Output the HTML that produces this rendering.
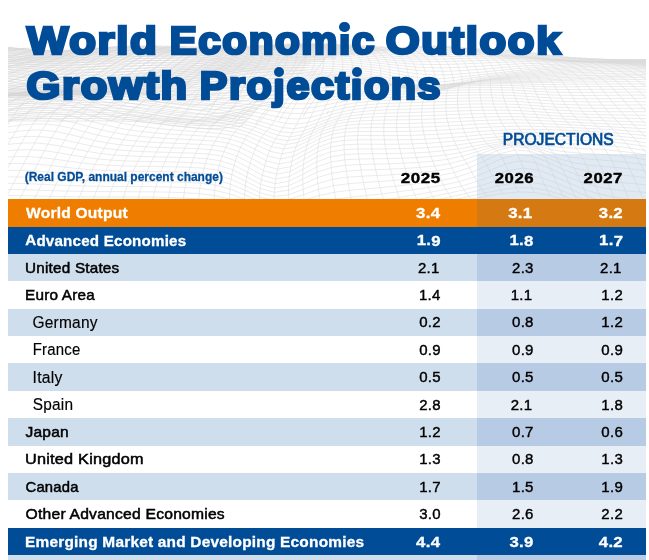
<!DOCTYPE html>
<html><head><meta charset="utf-8"><title>World Economic Outlook Growth Projections</title>
<style>
html,body{margin:0;padding:0;background:#fff;}
body{width:649px;height:560px;position:relative;overflow:hidden;font-family:"Liberation Sans",sans-serif;}
.t{position:absolute;left:0;top:0;white-space:nowrap;line-height:1;transform-origin:0 0;}
.b{position:absolute;left:7.8px;width:638.0px;}
.b i{position:absolute;left:468.8px;right:0;top:0;bottom:0;}
i.ij{font-style:normal;display:inline-block;clip-path:inset(12.7px -6px -14px -6px);}
.dot{position:absolute;width:10.2px;height:10.2px;border-radius:50%;background:#004c97;}
.mesh{position:absolute;left:7.8px;top:0;}
.ps{position:absolute;left:476.6px;top:154.4px;width:169.2px;height:45px;background:rgba(184,202,224,0.42);}
</style></head><body>
<svg class="mesh" width="638.0" height="200" viewBox="7.8 0 638.0 200"><path d="M9.9 47.8L17.6 48.4L25.3 48.9L32.9 49.5L40.6 50.0L48.2 50.3L55.7 50.5L63.2 50.3L70.7 49.9L78.1 49.4L85.4 48.9L92.6 48.3L99.8 47.9L106.9 47.4L113.9 47.0L120.9 46.7L127.7 46.4L134.5 46.2L141.2 46.1L147.9 46.0L154.4 46.0L161.0 46.1L167.4 46.2L173.8 46.4L180.2 46.5L186.6 46.7L192.9 46.9L199.2 47.0L205.5 47.2L211.8 47.4L218.2 47.6L224.5 47.7L230.9 47.7L237.3 47.4L243.8 47.0L250.3 46.5L256.9 46.0L263.6 45.6L270.3 45.2L277.1 44.7L284.0 44.3L290.9 44.0L298.0 43.7L305.1 43.6L312.2 43.5L319.5 43.5L326.8 43.7L334.2 44.0L341.7 44.4L349.2 44.8L356.8 45.3L364.4 45.9L372.0 46.4L379.7 46.8L387.4 47.2L395.0 47.4L402.7 47.3L410.4 47.1L418.1 46.7L425.7 46.3L433.3 46.1L440.8 46.3L448.3 46.7L455.8 47.3L463.1 47.9L470.4 48.5L477.7 49.0L484.8 49.4L491.9 49.6L498.9 49.8L505.8 50.0L512.7 50.4L519.5 50.9L526.2 51.9L532.8 52.9L539.4 53.8L545.9 54.7L552.3 55.5L558.7 56.3L565.1 56.9L571.5 57.4L577.8 57.8L584.1 58.2L590.4 58.6L596.7 58.9L603.1 59.2L609.4 59.4L615.8 59.6L622.3 59.6L628.7 59.6L635.3 59.6L641.9 59.5L648.5 59.4L655.3 59.3L662.1 59.2L669.0 59.0M5.6 48.4L13.4 48.8L21.2 49.4L29.0 50.1L36.8 50.8L44.5 51.3L52.1 51.5L59.7 51.4L67.2 51.0L74.7 50.4L82.1 49.9L89.4 49.3L96.6 48.8L103.8 48.4L110.9 47.9L117.9 47.6L124.8 47.3L131.7 47.0L138.4 46.8L145.2 46.8L151.8 46.7L158.4 46.8L165.0 46.9L171.5 47.0L178.0 47.1L184.5 47.3L191.0 47.5L197.4 47.6L203.9 47.8L210.4 48.1L216.9 48.5L223.4 48.8L230.0 48.9L236.6 48.6L243.3 48.0L250.0 47.4L256.8 46.8L263.7 46.3L270.6 45.9L277.7 45.5L284.8 45.1L291.9 44.7L299.2 44.5L306.5 44.3L313.9 44.3L321.4 44.3L329.0 44.5L336.6 44.8L344.2 45.3L351.9 45.7L359.7 46.3L367.5 46.8L375.3 47.3L383.1 47.7L391.0 48.0L398.8 48.2L406.6 48.1L414.4 47.8L422.2 47.4L429.9 46.9L437.6 46.7L445.2 46.9L452.8 47.4L460.4 48.1L467.8 48.8L475.2 49.6L482.5 50.3L489.7 50.8L496.8 51.1L503.9 51.3L510.9 51.5L517.8 51.8L524.7 52.7L531.4 53.6L538.1 54.6L544.8 55.4L551.4 56.2L558.0 56.9L564.5 57.5L571.0 57.9L577.4 58.3L583.9 58.6L590.4 58.9L596.8 59.2L603.3 59.5L609.8 59.7L616.4 59.8L622.9 59.9L629.6 60.0L636.3 59.9L643.0 59.9L649.8 59.9L656.7 59.8L663.7 59.8M1.1 49.4L9.1 49.5L17.0 50.2L24.9 51.0L32.7 51.8L40.5 52.4L48.2 52.7L55.9 52.6L63.5 52.2L71.1 51.7L78.5 51.1L85.9 50.6L93.2 50.1L100.4 49.6L107.6 49.2L114.6 48.8L121.6 48.4L128.6 48.1L135.4 47.9L142.2 47.8L149.0 47.8L155.7 47.8L162.4 47.8L169.0 47.9L175.6 48.0L182.2 48.2L188.8 48.4L195.4 48.5L202.1 48.8L208.7 49.2L215.4 49.8L222.1 50.4L228.9 50.6L235.7 50.2L242.6 49.4L249.6 48.6L256.6 47.9L263.7 47.4L270.9 47.0L278.1 46.5L285.4 46.1L292.9 45.7L300.3 45.5L307.9 45.3L315.5 45.3L323.2 45.4L331.0 45.6L338.8 46.0L346.7 46.4L354.6 46.9L362.5 47.4L370.4 48.0L378.4 48.5L386.4 48.9L394.4 49.1L402.3 49.3L410.3 49.2L418.2 48.9L426.1 48.4L433.9 48.0L441.7 47.8L449.4 48.0L457.1 48.5L464.7 49.2L472.2 50.0L479.7 50.9L487.0 51.7L494.3 52.3L501.5 52.7L508.6 52.9L515.7 53.1L522.7 53.8L529.6 54.6L536.5 55.5L543.3 56.4L550.0 57.1L556.7 57.8L563.4 58.3L570.0 58.7L576.6 59.1L583.2 59.3L589.8 59.5L596.5 59.6L603.1 59.8L609.7 60.0L616.4 60.2L623.2 60.3L629.9 60.3L636.8 60.3L643.7 60.3L650.6 60.3L657.7 60.3L664.8 60.3M-3.6 50.6L4.5 50.6L12.5 51.1L20.5 52.0L28.4 52.8L36.3 53.5L44.1 53.9L51.9 53.9L59.5 53.5L67.1 53.0L74.7 52.5L82.1 52.0L89.5 51.5L96.8 51.0L104.0 50.6L111.1 50.1L118.2 49.8L125.2 49.5L132.1 49.2L139.0 49.0L145.9 48.9L152.7 48.9L159.5 48.9L166.3 49.0L173.0 49.1L179.8 49.3L186.5 49.5L193.3 49.7L200.1 50.0L206.9 50.6L213.8 51.4L220.7 52.1L227.7 52.4L234.7 51.9L241.8 51.0L249.0 50.0L256.3 49.3L263.6 48.7L271.0 48.2L278.5 47.7L286.0 47.3L293.7 46.9L301.4 46.7L309.2 46.5L317.0 46.5L324.9 46.6L332.9 46.8L340.9 47.2L348.9 47.7L357.0 48.2L365.1 48.7L373.2 49.3L381.4 49.8L389.5 50.1L397.6 50.4L405.7 50.5L413.8 50.4L421.8 50.1L429.8 49.8L437.7 49.4L445.6 49.3L453.4 49.4L461.1 49.8L468.8 50.4L476.3 51.2L483.9 52.2L491.3 53.1L498.6 53.8L505.9 54.2L513.1 54.4L520.2 54.8L527.3 55.5L534.3 56.4L541.2 57.2L548.1 58.0L555.0 58.6L561.8 59.1L568.6 59.6L575.3 59.9L582.1 60.0L588.8 60.2L595.6 60.2L602.4 60.3L609.2 60.4L616.0 60.5L622.9 60.6L629.8 60.7L636.8 60.7L643.9 60.6L651.0 60.7L658.2 60.7L665.4 60.8M-8.5 51.9L-0.3 51.9L7.8 52.1L15.9 53.0L23.9 53.9L31.8 54.6L39.7 55.0L47.6 55.1L55.3 54.8L63.0 54.4L70.5 53.9L78.1 53.4L85.5 53.0L92.8 52.5L100.1 52.1L107.3 51.6L114.5 51.2L121.6 50.9L128.6 50.6L135.6 50.4L142.6 50.3L149.5 50.2L156.4 50.2L163.3 50.3L170.2 50.4L177.1 50.5L184.0 50.7L191.0 51.0L198.0 51.4L205.0 52.0L212.1 53.0L219.2 53.9L226.4 54.3L233.6 53.8L241.0 52.7L248.4 51.6L255.8 50.7L263.4 50.1L271.0 49.6L278.7 49.1L286.5 48.6L294.4 48.3L302.3 48.0L310.3 47.8L318.4 47.8L326.5 47.9L334.6 48.2L342.8 48.6L351.1 49.0L359.3 49.6L367.6 50.1L375.8 50.7L384.1 51.2L392.4 51.5L400.6 51.8L408.8 51.9L417.0 51.8L425.1 51.6L433.2 51.3L441.2 51.0L449.1 50.8L457.0 50.9L464.8 51.2L472.6 51.8L480.2 52.5L487.8 53.4L495.3 54.3L502.7 55.0L510.0 55.4L517.3 55.6L524.5 56.2L531.6 57.0L538.7 57.7L545.8 58.5L552.8 59.2L559.7 59.7L566.6 60.2L573.5 60.5L580.4 60.7L587.3 60.8L594.3 60.9L601.2 60.9L608.1 60.9L615.1 60.9L622.1 61.0L629.2 61.0L636.4 61.0L643.6 61.0L650.8 61.1L658.2 61.2L665.6 61.2M-13.7 53.3L-5.4 53.3L2.8 53.5L11.0 54.0L19.1 54.9L27.1 55.6L35.1 56.1L43.0 56.3L50.8 56.1L58.5 55.8L66.1 55.4L73.7 55.0L81.2 54.6L88.6 54.2L96.0 53.7L103.3 53.3L110.5 52.8L117.7 52.5L124.9 52.1L132.0 51.9L139.0 51.7L146.1 51.6L153.1 51.6L160.2 51.7L167.2 51.8L174.3 51.9L181.4 52.1L188.5 52.4L195.7 52.8L202.9 53.6L210.2 54.6L217.5 55.6L224.9 56.0L232.4 55.5L240.0 54.3L247.6 53.2L255.3 52.3L263.1 51.7L270.9 51.1L278.9 50.6L286.9 50.1L295.0 49.7L303.1 49.4L311.3 49.2L319.6 49.2L327.9 49.3L336.2 49.6L344.6 50.0L353.0 50.5L361.4 51.1L369.8 51.7L378.3 52.2L386.7 52.7L395.0 53.1L403.4 53.3L411.7 53.4L420.0 53.4L428.2 53.2L436.3 52.9L444.4 52.7L452.5 52.5L460.4 52.5L468.3 52.7L476.1 53.1L483.8 53.8L491.4 54.5L499.0 55.3L506.5 55.9L513.9 56.3L521.2 56.7L528.5 57.3L535.7 57.9L542.9 58.6L550.1 59.3L557.2 59.9L564.2 60.4L571.3 60.8L578.3 61.1L585.4 61.3L592.4 61.4L599.5 61.4L606.6 61.4L613.7 61.3L620.9 61.3L628.1 61.4L635.4 61.4L642.8 61.4L650.2 61.4L657.7 61.5L665.2 61.6M-19.1 54.8L-10.7 54.8L-2.4 55.0L5.8 55.2L14.0 55.9L22.1 56.7L30.1 57.2L38.1 57.4L46.0 57.4L53.8 57.2L61.5 56.9L69.1 56.6L76.7 56.2L84.2 55.8L91.6 55.4L99.0 55.0L106.3 54.5L113.6 54.1L120.9 53.8L128.1 53.5L135.3 53.3L142.5 53.2L149.7 53.1L156.9 53.2L164.1 53.3L171.3 53.4L178.6 53.6L185.9 53.9L193.3 54.3L200.7 55.1L208.2 56.1L215.8 57.1L223.4 57.5L231.1 57.0L238.9 55.9L246.7 54.8L254.7 54.0L262.7 53.3L270.8 52.8L278.9 52.2L287.1 51.7L295.4 51.3L303.8 50.9L312.2 50.7L320.7 50.7L329.2 50.8L337.7 51.1L346.2 51.5L354.8 52.1L363.4 52.7L371.9 53.3L380.5 53.8L389.0 54.3L397.5 54.7L405.9 55.0L414.4 55.1L422.7 55.1L431.0 54.9L439.3 54.7L447.4 54.5L455.5 54.3L463.5 54.3L471.5 54.4L479.3 54.6L487.1 55.1L494.8 55.7L502.4 56.3L510.0 56.7L517.5 57.0L524.9 57.5L532.3 58.0L539.6 58.6L546.9 59.2L554.1 59.8L561.3 60.3L568.5 60.8L575.7 61.1L582.9 61.4L590.1 61.6L597.3 61.7L604.6 61.7L611.9 61.7L619.2 61.7L626.6 61.7L634.0 61.7L641.5 61.8L649.1 61.8L656.7 61.9L664.4 62.0M-16.3 56.4L-7.9 56.5L0.4 56.7L8.7 57.0L16.8 57.7L24.9 58.2L32.9 58.5L40.9 58.6L48.7 58.6L56.5 58.4L64.2 58.2L71.9 57.9L79.4 57.6L87.0 57.2L94.4 56.8L101.9 56.3L109.3 55.9L116.6 55.6L124.0 55.2L131.3 55.0L138.7 54.8L146.0 54.8L153.4 54.8L160.8 54.9L168.2 55.0L175.7 55.2L183.2 55.5L190.8 55.9L198.4 56.6L206.1 57.5L213.9 58.4L221.7 58.7L229.6 58.3L237.7 57.4L245.7 56.5L253.9 55.7L262.1 55.1L270.5 54.5L278.8 53.9L287.3 53.4L295.8 52.9L304.3 52.6L312.9 52.4L321.6 52.3L330.3 52.4L339.0 52.7L347.7 53.2L356.4 53.7L365.1 54.3L373.8 55.0L382.5 55.6L391.1 56.1L399.7 56.6L408.3 56.9L416.8 57.0L425.2 57.0L433.6 56.9L441.9 56.7L450.1 56.5L458.3 56.3L466.3 56.2L474.3 56.1L482.3 56.3L490.1 56.5L497.9 56.9L505.6 57.3L513.2 57.6L520.8 57.8L528.3 58.3L535.8 58.7L543.2 59.2L550.6 59.7L557.9 60.1L565.3 60.6L572.6 61.0L580.0 61.3L587.3 61.6L594.7 61.8L602.1 61.9L609.5 62.0L617.0 62.1L624.5 62.1L632.1 62.1L639.8 62.1L647.5 62.2L655.3 62.3L663.1 62.4M-13.7 58.1L-5.3 58.2L3.0 58.4L11.3 58.8L19.4 59.3L27.5 59.7L35.5 59.9L43.4 60.0L51.3 60.0L59.1 59.9L66.8 59.7L74.5 59.4L82.1 59.1L89.7 58.7L97.2 58.3L104.7 57.8L112.2 57.4L119.7 57.1L127.2 56.9L134.7 56.7L142.2 56.6L149.7 56.5L157.3 56.6L164.9 56.7L172.6 56.9L180.3 57.1L188.1 57.5L195.9 58.1L203.9 58.9L211.9 59.6L220.0 59.9L228.1 59.6L236.3 58.9L244.7 58.2L253.0 57.5L261.5 56.9L270.0 56.3L278.6 55.7L287.3 55.2L296.0 54.7L304.8 54.3L313.5 54.1L322.4 54.0L331.2 54.1L340.1 54.4L348.9 54.9L357.8 55.5L366.6 56.1L375.4 56.8L384.2 57.5L393.0 58.1L401.7 58.6L410.3 58.9L418.9 59.2L427.4 59.2L435.9 59.1L444.2 59.0L452.5 58.7L460.8 58.5L468.9 58.3L477.0 58.2L485.0 58.1L492.9 58.2L500.7 58.4L508.5 58.5L516.2 58.6L523.9 58.9L531.5 59.2L539.0 59.5L546.6 59.8L554.1 60.2L561.6 60.5L569.1 60.8L576.5 61.1L584.0 61.4L591.6 61.7L599.1 61.9L606.7 62.1L614.3 62.3L622.0 62.4L629.7 62.5L637.5 62.5L645.4 62.6L653.3 62.8L661.3 62.9L669.4 63.0M-19.7 59.7L-11.2 59.8L-2.9 59.9L5.4 60.0L13.7 60.4L21.8 60.9L29.9 61.2L37.9 61.4L45.8 61.5L53.7 61.5L61.5 61.5L69.2 61.3L76.9 61.0L84.6 60.7L92.3 60.3L99.9 59.9L107.6 59.5L115.2 59.2L122.8 58.9L130.5 58.7L138.2 58.5L145.9 58.5L153.7 58.5L161.5 58.5L169.4 58.7L177.3 58.9L185.3 59.2L193.4 59.7L201.5 60.3L209.8 60.8L218.1 61.1L226.5 60.9L234.9 60.5L243.5 59.9L252.1 59.3L260.8 58.7L269.5 58.1L278.3 57.5L287.2 57.0L296.1 56.5L305.0 56.1L314.0 55.8L323.0 55.8L332.0 55.9L341.0 56.2L350.0 56.7L359.0 57.3L367.9 58.1L376.9 58.8L385.7 59.6L394.6 60.3L403.4 60.9L412.1 61.3L420.8 61.6L429.4 61.7L437.9 61.6L446.3 61.5L454.7 61.2L463.0 61.0L471.2 60.7L479.3 60.5L487.4 60.3L495.3 60.2L503.3 60.1L511.1 60.0L518.9 59.9L526.7 60.2L534.4 60.3L542.1 60.5L549.7 60.6L557.4 60.8L565.0 61.0L572.6 61.2L580.3 61.4L587.9 61.7L595.6 61.9L603.4 62.1L611.1 62.4L619.0 62.6L626.8 62.8L634.8 62.9L642.8 63.1L650.9 63.3L659.1 63.5L667.3 63.6M-17.5 61.5L-9.0 61.6L-0.7 61.6L7.6 61.7L15.8 62.2L24.0 62.6L32.0 62.9L40.0 63.1L48.0 63.2L55.9 63.3L63.8 63.2L71.6 63.0L79.4 62.7L87.2 62.4L95.0 62.0L102.7 61.7L110.5 61.4L118.3 61.1L126.2 60.9L134.1 60.7L142.0 60.6L149.9 60.6L158.0 60.6L166.0 60.6L174.2 60.8L182.4 61.0L190.7 61.4L199.1 61.8L207.6 62.3L216.1 62.5L224.7 62.4L233.4 62.0L242.2 61.6L251.0 61.1L259.9 60.5L268.9 60.0L277.9 59.4L286.9 58.8L296.0 58.3L305.1 57.9L314.3 57.6L323.4 57.6L332.6 57.8L341.7 58.1L350.8 58.6L359.9 59.3L369.0 60.1L378.1 61.0L387.0 61.8L396.0 62.7L404.8 63.4L413.6 64.0L422.4 64.3L431.0 64.5L439.6 64.5L448.1 64.4L456.6 64.1L464.9 63.8L473.2 63.4L481.4 63.1L489.5 62.7L497.6 62.5L505.6 62.2L513.5 61.9L521.4 61.7L529.3 61.7L537.1 61.7L544.9 61.6L552.7 61.6L560.5 61.6L568.2 61.6L576.0 61.7L583.8 61.8L591.7 62.0L599.6 62.2L607.5 62.4L615.5 62.7L623.5 62.9L631.6 63.2L639.8 63.5L648.0 63.8L656.3 64.1L664.7 64.4M-15.5 63.3L-7.0 63.4L1.3 63.4L9.6 63.5L17.8 64.0L26.0 64.4L34.1 64.7L42.1 65.0L50.1 65.1L58.1 65.2L66.0 65.1L74.0 64.9L81.9 64.6L89.8 64.3L97.8 64.0L105.7 63.8L113.7 63.5L121.7 63.3L129.8 63.2L137.9 63.0L146.1 62.9L154.3 62.8L162.6 62.8L171.0 62.9L179.4 63.0L188.0 63.2L196.6 63.5L205.3 63.8L214.0 64.0L222.9 63.9L231.8 63.7L240.8 63.3L249.8 62.8L258.9 62.3L268.1 61.7L277.3 61.1L286.5 60.6L295.8 60.1L305.1 59.7L314.4 59.5L323.7 59.5L333.0 59.7L342.2 60.1L351.5 60.7L360.7 61.4L369.9 62.3L379.0 63.3L388.1 64.3L397.1 65.3L406.1 66.2L414.9 66.9L423.7 67.5L432.5 67.7L441.1 67.8L449.7 67.6L458.2 67.3L466.6 66.9L474.9 66.5L483.2 66.0L491.4 65.5L499.5 65.0L507.6 64.5L515.7 64.0L523.7 63.7L531.6 63.5L539.6 63.3L547.5 63.0L555.4 62.8L563.4 62.6L571.3 62.4L579.3 62.4L587.3 62.4L595.3 62.4L603.4 62.6L611.5 62.8L619.7 63.1L627.9 63.4L636.2 63.8L644.6 64.1L653.1 64.6L661.6 65.1M-13.7 65.2L-5.3 65.3L3.1 65.3L11.4 65.5L19.6 66.0L27.8 66.4L36.0 66.7L44.1 67.0L52.2 67.2L60.3 67.2L68.4 67.2L76.4 67.0L84.5 66.8L92.6 66.6L100.7 66.4L108.9 66.2L117.1 66.0L125.4 65.8L133.7 65.7L142.1 65.5L150.6 65.3L159.1 65.2L167.7 65.1L176.4 65.1L185.1 65.2L194.0 65.4L202.9 65.5L211.9 65.6L220.9 65.5L230.1 65.3L239.3 64.9L248.5 64.4L257.8 63.9L267.2 63.3L276.6 62.8L286.0 62.3L295.4 61.9L304.9 61.6L314.3 61.5L323.7 61.6L333.2 61.8L342.6 62.2L351.9 62.8L361.2 63.6L370.5 64.6L379.7 65.7L388.9 66.9L398.0 68.1L407.0 69.3L415.9 70.2L424.8 70.9L433.6 71.2L442.3 71.3L451.0 71.1L459.5 70.7L468.0 70.2L476.4 69.6L484.8 69.0L493.0 68.3L501.3 67.7L509.5 67.0L517.6 66.2L525.7 65.8L533.8 65.4L541.9 64.9L550.0 64.5L558.0 64.1L566.1 63.7L574.2 63.4L582.4 63.2L590.6 63.0L598.8 63.0L607.0 63.1L615.4 63.3L623.8 63.6L632.2 64.0L640.8 64.4L649.4 65.0L658.1 65.6L666.9 66.1M-12.1 67.2L-3.6 67.3L4.8 67.3L13.1 67.6L21.4 68.1L29.7 68.5L37.9 68.9L46.1 69.3L54.3 69.5L62.6 69.5L70.8 69.4L79.1 69.3L87.3 69.2L95.7 69.2L104.0 69.1L112.4 69.0L120.9 68.8L129.4 68.6L138.0 68.3L146.7 68.0L155.5 67.7L164.3 67.5L173.2 67.4L182.2 67.3L191.3 67.3L200.4 67.3L209.6 67.3L218.9 67.1L228.3 66.8L237.7 66.4L247.1 65.9L256.6 65.3L266.1 64.8L275.7 64.3L285.3 63.9L294.9 63.7L304.5 63.5L314.1 63.6L323.6 63.7L333.2 64.0L342.7 64.5L352.1 65.1L361.6 66.0L370.9 67.0L380.2 68.3L389.5 69.7L398.6 71.2L407.7 72.6L416.7 73.7L425.6 74.5L434.5 74.9L443.3 74.9L452.0 74.5L460.6 73.9L469.2 73.2L477.7 72.5L486.1 71.7L494.5 70.9L502.8 70.1L511.1 69.2L519.3 68.4L527.6 67.8L535.8 67.2L544.0 66.6L552.2 65.9L560.5 65.4L568.7 64.9L577.0 64.4L585.3 64.1L593.7 63.9L602.1 63.8L610.6 63.8L619.2 64.0L627.8 64.3L636.5 64.7L645.2 65.2L654.1 65.9L663.0 66.6M-19.1 69.3L-10.6 69.3L-2.1 69.4L6.4 69.4L14.8 69.8L23.2 70.4L31.5 70.9L39.9 71.4L48.3 71.7L56.6 71.9L65.0 72.0L73.5 72.0L81.9 72.0L90.4 72.1L99.0 72.1L107.6 72.1L116.3 71.9L125.1 71.6L133.9 71.3L142.8 70.8L151.8 70.4L160.9 70.0L170.0 69.7L179.2 69.5L188.5 69.3L197.9 69.2L207.3 69.0L216.8 68.7L226.3 68.3L236.0 67.8L245.6 67.2L255.3 66.6L265.0 66.1L274.7 65.7L284.5 65.5L294.2 65.4L303.9 65.5L313.6 65.7L323.3 66.0L333.0 66.4L342.6 66.8L352.1 67.5L361.7 68.3L371.1 69.5L380.5 70.9L389.8 72.6L399.0 74.3L408.2 76.1L417.2 77.4L426.2 78.3L435.2 78.6L444.0 78.4L452.8 77.7L461.5 76.8L470.1 75.9L478.7 74.9L487.2 73.9L495.7 73.0L504.1 72.1L512.5 71.1L520.9 70.2L529.3 69.5L537.6 68.8L546.0 68.0L554.4 67.3L562.8 66.6L571.2 66.1L579.7 65.6L588.2 65.1L596.8 64.9L605.4 64.7L614.1 64.7L622.9 64.9L631.7 65.2L640.6 65.6L649.6 66.2L658.7 67.0L667.9 67.7M-17.7 71.4L-9.1 71.5L-0.6 71.5L8.0 71.6L16.5 72.2L25.0 72.9L33.5 73.5L42.0 74.0L50.6 74.3L59.2 74.5L67.8 74.6L76.4 74.8L85.1 75.0L93.9 75.2L102.8 75.2L111.7 75.1L120.6 74.8L129.7 74.4L138.8 73.8L148.0 73.2L157.3 72.6L166.7 72.1L176.1 71.7L185.7 71.3L195.2 71.0L204.9 70.6L214.6 70.2L224.3 69.7L234.1 69.0L244.0 68.4L253.8 67.8L263.7 67.3L273.6 67.0L283.5 66.9L293.3 67.0L303.2 67.3L313.0 67.7L322.8 68.2L332.6 68.7L342.3 69.2L351.9 69.8L361.5 70.7L371.0 71.9L380.5 73.5L389.9 75.4L399.2 77.5L408.4 79.6L417.5 81.2L426.6 82.2L435.6 82.3L444.5 81.7L453.3 80.7L462.1 79.3L470.8 78.0L479.5 76.7L488.1 75.6L496.7 74.5L505.2 73.5L513.8 72.5L522.3 71.6L530.8 70.9L539.3 70.1L547.8 69.3L556.4 68.6L565.0 67.9L573.6 67.3L582.3 66.7L591.0 66.3L599.8 66.0L608.6 65.8L617.5 65.7L626.5 65.9L635.6 66.2L644.7 66.6L654.0 67.4L663.3 68.2M-16.4 73.5L-7.7 73.6L1.0 73.7L9.6 74.0L18.3 74.8L27.0 75.6L35.7 76.3L44.4 76.7L53.2 77.0L62.0 77.3L70.8 77.6L79.8 77.9L88.8 78.2L97.8 78.4L106.9 78.3L116.1 78.0L125.4 77.5L134.8 76.7L144.2 76.0L153.7 75.2L163.3 74.5L173.0 73.9L182.7 73.3L192.5 72.8L202.4 72.3L212.3 71.7L222.2 71.0L232.2 70.2L242.2 69.5L252.2 68.9L262.3 68.4L272.3 68.2L282.3 68.3L292.3 68.6L302.3 69.1L312.2 69.7L322.1 70.3L332.0 70.8L341.8 71.4L351.5 72.0L361.2 72.9L370.8 74.2L380.3 75.9L389.7 78.1L399.1 80.6L408.4 83.0L417.6 84.8L426.7 85.8L435.7 85.7L444.7 84.8L453.6 83.2L462.5 81.4L471.3 79.6L480.1 78.1L488.8 76.8L497.5 75.6L506.2 74.6L514.8 73.6L523.5 72.8L532.2 72.1L540.8 71.3L549.5 70.5L558.3 69.7L567.0 69.1L575.9 68.5L584.7 68.0L593.7 67.6L602.7 67.2L611.7 67.0L620.9 67.0L630.1 67.1L639.4 67.3L648.8 67.8L658.2 68.6L667.8 69.5M-14.9 75.4L-6.1 75.6L2.7 75.9L11.5 76.6L20.3 77.6L29.2 78.4L38.1 79.0L47.1 79.4L56.1 79.8L65.2 80.2L74.3 80.7L83.5 81.1L92.8 81.4L102.2 81.3L111.6 81.0L121.1 80.4L130.7 79.6L140.4 78.6L150.1 77.7L159.9 76.8L169.8 76.0L179.8 75.3L189.8 74.7L199.8 74.0L209.9 73.2L220.0 72.4L230.2 71.5L240.3 70.7L250.5 70.0L260.7 69.6L270.9 69.4L281.0 69.6L291.1 70.0L301.2 70.7L311.3 71.4L321.3 72.1L331.2 72.7L341.1 73.3L350.9 73.9L360.6 74.8L370.3 76.2L379.8 78.1L389.3 80.5L398.8 83.3L408.1 85.9L417.4 87.9L426.6 88.8L435.7 88.6L444.8 87.3L453.8 85.3L462.7 83.1L471.6 81.0L480.5 79.2L489.4 77.7L498.2 76.6L507.0 75.6L515.8 74.6L524.6 73.9L533.4 73.2L542.3 72.5L551.1 71.7L560.1 70.9L569.0 70.3L578.1 69.8L587.1 69.4L596.3 69.0L605.5 68.6L614.8 68.4L624.2 68.3L633.6 68.4L643.1 68.6L652.8 69.3L662.4 70.1M-13.4 77.2L-4.4 77.7L4.6 78.3L13.6 79.4L22.7 80.4L31.8 81.1L41.0 81.6L50.2 82.1L59.5 82.6L68.8 83.2L78.3 83.8L87.8 84.1L97.4 84.1L107.0 83.7L116.8 83.1L126.6 82.2L136.5 81.1L146.4 80.0L156.5 79.0L166.6 78.1L176.7 77.3L186.9 76.5L197.2 75.7L207.4 74.8L217.7 73.9L228.0 72.9L238.4 72.0L248.7 71.3L259.0 70.9L269.3 70.7L279.6 70.9L289.8 71.4L300.0 72.1L310.1 72.8L320.2 73.6L330.2 74.2L340.2 74.8L350.0 75.5L359.8 76.4L369.6 77.8L379.2 79.8L388.8 82.3L398.3 85.2L407.7 87.9L417.0 90.0L426.3 90.9L435.5 90.5L444.6 88.9L453.7 86.7L462.8 84.2L471.8 81.9L480.8 80.0L489.8 78.5L498.7 77.4L507.7 76.4L516.6 75.5L525.6 74.9L534.6 74.3L543.6 73.6L552.7 72.8L561.8 72.1L571.0 71.6L580.2 71.1L589.5 70.8L598.9 70.4L608.3 70.1L617.8 69.9L627.4 69.8L637.1 69.8L646.9 70.1L656.7 70.8L666.6 71.6M-11.5 79.1L-2.4 80.0L6.8 81.0L16.1 82.2L25.4 83.0L34.8 83.6L44.2 84.1L53.7 84.7L63.3 85.4L73.0 86.1L82.7 86.4L92.5 86.5L102.4 86.1L112.4 85.4L122.4 84.4L132.5 83.3L142.7 82.1L153.0 81.0L163.3 80.0L173.6 79.1L184.0 78.3L194.4 77.4L204.9 76.5L215.3 75.5L225.8 74.5L236.3 73.6L246.7 72.9L257.2 72.4L267.6 72.3L278.0 72.4L288.3 72.9L298.6 73.5L308.8 74.2L318.9 74.8L329.0 75.5L339.1 76.0L349.0 76.7L358.9 77.6L368.7 79.0L378.4 80.9L388.0 83.4L397.5 86.2L407.0 88.9L416.4 90.8L425.8 91.6L435.1 91.1L444.3 89.5L453.5 87.2L462.7 84.7L471.8 82.4L480.9 80.6L490.0 79.2L499.1 78.1L508.2 77.2L517.3 76.4L526.5 76.0L535.7 75.4L544.9 74.7L554.2 74.0L563.5 73.3L572.9 72.8L582.3 72.5L591.8 72.2L601.4 71.9L611.1 71.6L620.8 71.4L630.7 71.3L640.6 71.3L650.6 71.7L660.6 72.4M-18.8 80.3L-9.4 81.5L-0.0 82.7L9.5 83.7L19.0 84.6L28.6 85.2L38.2 85.7L48.0 86.4L57.8 87.1L67.7 87.7L77.6 88.1L87.7 88.2L97.8 87.8L108.0 87.1L118.2 86.1L128.6 85.0L139.0 83.8L149.4 82.7L159.9 81.7L170.4 80.8L181.0 80.0L191.6 79.2L202.2 78.3L212.8 77.4L223.5 76.5L234.1 75.6L244.6 74.8L255.2 74.3L265.7 74.1L276.2 74.2L286.6 74.5L297.0 74.9L307.3 75.4L317.5 76.0L327.7 76.5L337.8 77.0L347.8 77.6L357.7 78.5L367.6 79.7L377.3 81.5L387.0 83.6L396.7 86.1L406.2 88.3L415.7 90.0L425.1 90.6L434.5 90.1L443.9 88.6L453.2 86.5L462.4 84.3L471.7 82.3L481.0 80.7L490.2 79.5L499.4 78.6L508.7 77.9L518.0 77.2L527.3 76.9L536.7 76.5L546.1 75.8L555.6 75.2L565.1 74.6L574.7 74.2L584.4 74.0L594.1 73.8L604.0 73.5L613.9 73.3L623.8 73.1L633.9 72.9L644.0 73.0L654.2 73.5L664.5 74.2M-16.5 82.9L-6.9 84.3L2.8 85.3L12.5 86.1L22.3 86.6L32.2 87.1L42.2 87.7L52.2 88.4L62.3 89.0L72.5 89.4L82.8 89.4L93.1 89.1L103.6 88.4L114.0 87.4L124.6 86.3L135.2 85.2L145.8 84.1L156.5 83.2L167.2 82.4L178.0 81.7L188.7 81.0L199.5 80.3L210.3 79.5L221.0 78.7L231.7 77.9L242.4 77.2L253.1 76.6L263.7 76.3L274.3 76.2L284.8 76.3L295.3 76.6L305.6 76.9L315.9 77.3L326.2 77.6L336.3 78.0L346.4 78.6L356.4 79.3L366.3 80.3L376.1 81.7L385.9 83.5L395.6 85.4L405.2 87.2L414.8 88.4L424.3 88.8L433.8 88.3L443.3 87.1L452.7 85.4L462.1 83.6L471.5 82.0L480.9 80.7L490.3 79.8L499.7 79.1L509.1 78.5L518.6 78.0L528.1 77.9L537.7 77.6L547.3 77.0L557.0 76.5L566.7 76.0L576.6 75.7L586.5 75.5L596.4 75.4L606.5 75.2L616.6 74.9L626.8 74.7L637.1 74.6L647.5 74.6L657.9 75.2L668.4 75.9M-13.8 86.1L-3.9 87.2L6.1 87.6L16.1 88.1L26.2 88.4L36.4 88.9L46.7 89.5L57.0 90.1L67.5 90.5L77.9 90.5L88.5 90.2L99.1 89.5L109.8 88.6L120.6 87.5L131.4 86.5L142.2 85.5L153.1 84.7L164.0 84.0L174.9 83.5L185.8 82.9L196.7 82.4L207.6 81.7L218.5 81.1L229.3 80.4L240.1 79.7L250.9 79.2L261.6 78.8L272.3 78.6L282.8 78.5L293.4 78.5L303.8 78.6L314.2 78.8L324.5 79.0L334.7 79.3L344.8 79.7L354.9 80.3L364.9 81.1L374.8 82.2L384.6 83.4L394.4 84.8L404.1 86.1L413.8 86.9L423.4 87.1L433.0 86.7L442.6 85.7L452.1 84.4L461.7 83.1L471.2 81.9L480.7 80.9L490.3 80.2L499.9 79.7L509.5 79.3L519.2 79.0L528.9 79.0L538.7 78.8L548.5 78.3L558.4 77.8L568.4 77.4L578.4 77.2L588.5 77.1L598.7 76.9L609.0 76.7L619.4 76.3L629.8 76.0L640.3 75.9L650.9 76.2L661.5 76.7M-10.5 89.2L-0.3 89.6L9.9 89.5L20.3 89.7L30.7 90.1L41.2 90.7L51.7 91.2L62.4 91.5L73.1 91.5L83.9 91.2L94.7 90.5L105.6 89.7L116.6 88.7L127.6 87.8L138.6 86.9L149.6 86.2L160.7 85.7L171.7 85.3L182.8 84.9L193.8 84.5L204.8 84.1L215.8 83.6L226.8 83.0L237.7 82.5L248.5 81.9L259.3 81.5L270.1 81.1L280.7 80.9L291.3 80.7L301.8 80.7L312.3 80.7L322.6 80.8L332.9 80.9L343.1 81.1L353.2 81.5L363.3 82.1L373.3 82.8L383.2 83.7L393.1 84.7L402.9 85.4L412.6 85.9L422.4 86.0L432.1 85.6L441.8 84.9L451.5 83.9L461.2 82.9L470.9 82.1L480.6 81.4L490.3 80.9L500.1 80.6L509.9 80.3L519.8 80.1L529.7 80.2L539.7 80.1L549.7 79.7L559.8 79.3L570.0 78.9L580.3 78.5L590.7 78.3L601.1 78.1L611.6 78.0L622.2 77.8L632.8 77.6L643.6 77.6L654.4 78.1L665.2 78.6M-17.1 91.4L-6.7 91.6L3.8 91.2L14.3 91.1L25.0 91.3L35.7 91.8L46.5 92.2L57.4 92.5L68.3 92.5L79.3 92.2L90.3 91.6L101.4 90.8L112.6 89.9L123.7 89.1L134.9 88.3L146.1 87.7L157.3 87.3L168.5 87.0L179.7 86.8L190.9 86.7L202.0 86.4L213.1 86.1L224.1 85.7L235.1 85.2L246.1 84.8L256.9 84.3L267.8 83.8L278.5 83.4L289.1 83.2L299.7 83.0L310.2 82.9L320.6 82.8L331.0 82.8L341.2 82.9L351.4 83.0L361.6 83.4L371.6 83.9L381.7 84.5L391.6 85.0L401.5 85.5L411.4 85.7L421.3 85.7L431.1 85.3L440.9 84.7L450.8 84.0L460.6 83.3L470.5 82.6L480.4 82.1L490.3 81.8L500.2 81.6L510.3 81.5L520.3 81.4L530.5 81.5L540.7 81.3L550.9 80.9L561.3 80.5L571.7 80.1L582.2 79.9L592.8 79.8L603.4 79.8L614.2 79.7L625.0 79.6L635.9 79.5L646.8 79.6L657.8 80.2L668.9 80.8M-13.1 93.6L-2.4 93.1L8.4 92.5L19.3 92.6L30.3 92.9L41.3 93.3L52.4 93.5L63.5 93.5L74.7 93.2L85.9 92.7L97.2 92.0L108.5 91.2L119.9 90.4L131.2 89.7L142.6 89.3L153.9 89.0L165.2 88.8L176.5 88.8L187.8 88.7L199.1 88.7L210.3 88.6L221.4 88.3L232.5 88.0L243.5 87.6L254.4 87.1L265.3 86.6L276.1 86.2L286.8 85.8L297.5 85.5L308.0 85.3L318.5 85.2L328.9 85.0L339.3 84.9L349.5 84.9L359.8 85.0L369.9 85.3L380.0 85.6L390.1 85.9L400.1 86.1L410.1 86.2L420.1 86.1L430.1 85.7L440.1 85.2L450.0 84.7L460.0 84.1L470.1 83.6L480.2 83.2L490.3 83.0L500.4 82.7L510.6 82.4L520.9 82.3L531.3 82.6L541.7 82.6L552.2 82.4L562.8 82.2L573.4 81.9L584.2 81.8L595.0 81.8L605.9 81.8L616.8 81.7L627.8 81.7L638.9 81.7L650.1 81.9L661.3 82.5M-19.4 95.6L-8.4 94.8L2.6 94.0L13.7 93.8L24.9 94.0L36.1 94.3L47.4 94.5L58.7 94.5L70.1 94.2L81.5 93.7L93.0 93.1L104.5 92.3L116.0 91.6L127.5 91.1L139.0 90.7L150.5 90.5L161.9 90.5L173.3 90.6L184.7 90.7L196.1 90.8L207.3 90.9L218.6 90.8L229.7 90.6L240.8 90.3L251.8 89.8L262.8 89.4L273.6 89.0L284.4 88.6L295.1 88.4L305.8 88.2L316.3 87.9L326.8 87.6L337.2 87.3L347.6 87.0L357.9 86.9L368.1 87.0L378.3 87.1L388.5 87.2L398.6 87.3L408.8 87.2L418.9 87.0L429.0 86.7L439.1 86.2L449.3 85.7L459.5 85.2L469.7 84.5L480.0 84.1L490.3 83.8L500.6 83.7L511.1 83.7L521.6 83.9L532.2 84.3L542.8 84.5L553.5 84.5L564.3 84.3L575.2 84.2L586.2 84.1L597.2 84.1L608.3 84.0L619.5 84.0L630.7 84.0L642.0 84.0L653.4 84.4L664.8 85.0M-14.4 96.5L-3.2 95.5L8.1 94.8L19.5 94.9L31.0 95.1L42.5 95.3L54.0 95.2L65.6 95.0L77.2 94.5L88.8 93.9L100.5 93.2L112.1 92.6L123.7 92.1L135.4 91.8L147.0 91.8L158.5 91.9L170.1 92.1L181.5 92.5L193.0 92.8L204.3 93.0L215.6 93.1L226.9 93.1L238.0 92.9L249.1 92.6L260.1 92.3L271.0 91.9L281.9 91.7L292.7 91.5L303.4 91.4L314.0 91.1L324.5 90.7L335.0 90.1L345.5 89.5L355.9 89.2L366.2 89.0L376.6 88.9L386.8 88.9L397.1 88.8L407.4 88.7L417.7 88.4L427.9 87.9L438.2 87.2L448.6 86.7L458.9 86.2L469.4 85.8L479.8 85.5L490.3 85.4L500.9 85.4L511.6 85.5L522.3 85.8L533.1 86.4L544.0 86.7L554.9 86.8L566.0 86.8L577.1 86.7L588.3 86.6L599.5 86.6L610.8 86.5L622.2 86.5L633.7 86.5L645.2 86.5L656.7 87.0L668.3 87.6M-8.9 96.7L2.7 95.8L14.3 95.6L25.9 95.6L37.6 95.7L49.3 95.5L61.1 95.2L72.8 94.7L84.6 94.1L96.4 93.5L108.2 93.0L120.0 92.7L131.7 92.5L143.4 92.6L155.1 93.0L166.7 93.4L178.3 94.0L189.8 94.5L201.3 94.9L212.6 95.2L223.9 95.4L235.2 95.4L246.3 95.3L257.4 95.2L268.4 95.1L279.3 95.0L290.1 95.1L300.9 95.1L311.6 94.8L322.2 94.2L332.8 93.3L343.4 92.4L353.9 91.7L364.3 91.2L374.8 91.0L385.2 90.7L395.6 90.3L406.0 90.0L416.4 89.6L426.9 89.2L437.4 88.8L447.9 88.3L458.4 87.9L469.1 87.6L479.7 87.4L490.5 87.4L501.3 87.5L512.1 87.7L523.1 88.1L534.1 88.8L545.2 89.2L556.4 89.4L567.7 89.5L579.0 89.5L590.4 89.4L601.9 89.3L613.4 89.3L625.0 89.2L636.7 89.2L648.4 89.3L660.1 89.8M-14.5 97.6L-2.7 96.6L9.1 95.9L20.9 95.7L32.8 95.6L44.7 95.3L56.6 94.9L68.5 94.3L80.5 93.7L92.4 93.2L104.3 92.8L116.2 92.6L128.1 92.7L139.9 93.1L151.6 93.6L163.4 94.4L175.0 95.2L186.6 95.9L198.1 96.6L209.6 97.2L220.9 97.6L232.2 97.9L243.4 98.0L254.6 98.2L265.6 98.4L276.6 98.7L287.5 99.1L298.4 99.3L309.1 99.1L319.9 98.2L330.6 96.9L341.2 95.6L351.8 94.4L362.4 93.4L373.0 92.8L383.5 92.4L394.1 92.1L404.7 91.8L415.3 91.5L425.9 91.2L436.5 90.8L447.3 90.4L458.0 90.1L468.8 89.9L479.7 89.7L490.7 89.7L501.7 89.9L512.8 90.1L524.0 90.7L535.2 91.4L546.6 91.9L558.0 92.3L569.5 92.4L581.0 92.4L592.7 92.3L604.3 92.3L616.1 92.2L627.9 92.1L639.7 92.0L651.6 92.3L663.5 92.8M-8.1 97.0L3.9 95.9L15.9 95.4L28.0 95.0L40.1 94.5L52.1 93.9L64.2 93.3L76.3 92.7L88.4 92.3L100.4 92.1L112.4 92.1L124.4 92.5L136.3 93.1L148.1 94.0L159.9 95.1L171.7 96.2L183.3 97.2L194.9 98.2L206.4 99.0L217.9 99.7L229.2 100.3L240.5 100.8L251.7 101.3L262.8 101.9L273.9 102.6L284.8 103.4L295.8 103.9L306.6 103.8L317.5 102.5L328.3 100.6L339.0 98.7L349.7 97.2L360.5 96.1L371.2 95.3L381.9 94.8L392.6 94.5L403.3 94.2L414.1 93.9L424.9 93.6L435.8 93.3L446.7 92.9L457.7 92.6L468.7 92.4L479.8 92.3L491.0 92.3L502.2 92.5L513.6 92.8L525.0 93.4L536.5 94.2L548.0 94.8L559.7 95.2L571.4 95.4L583.1 95.5L595.0 95.4L606.9 95.3L618.8 95.2L630.8 95.1L642.9 95.1L654.9 95.4L667.0 95.8M-13.3 97.1L-1.2 95.9L11.0 94.9L23.3 94.2L35.5 93.6L47.7 92.9L59.9 92.2L72.1 91.6L84.3 91.3L96.5 91.2L108.6 91.5L120.6 92.2L132.6 93.2L144.6 94.4L156.5 95.8L168.3 97.2L180.0 98.5L191.6 99.7L203.2 100.8L214.7 101.8L226.1 102.7L237.5 103.5L248.7 104.4L259.9 105.4L271.1 106.6L282.1 107.6L293.2 108.4L304.1 108.4L315.1 107.1L326.0 104.9L336.8 102.6L347.7 100.7L358.5 99.2L369.4 98.3L380.3 97.6L391.2 97.2L402.1 96.9L413.1 96.6L424.1 96.3L435.1 96.0L446.2 95.6L457.4 95.3L468.7 95.1L480.0 95.0L491.4 95.0L502.9 95.2L514.4 95.6L526.1 96.3L537.8 97.1L549.6 97.8L561.4 98.3L573.4 98.6L585.4 98.7L597.4 98.6L609.5 98.5L621.6 98.4L633.8 98.3L646.0 98.3L658.2 98.6M-18.5 97.3L-6.1 95.8L6.2 94.5L18.6 93.6L31.0 92.8L43.3 92.1L55.7 91.4L68.0 90.9L80.3 90.7L92.6 90.9L104.8 91.4L116.9 92.4L129.0 93.6L141.0 95.1L153.0 96.7L164.8 98.4L176.6 99.9L188.3 101.4L200.0 102.7L211.5 103.9L223.0 105.0L234.4 106.2L245.8 107.3L257.0 108.6L268.3 110.2L279.4 112.0L290.5 113.4L301.6 113.6L312.6 112.2L323.7 109.7L334.7 106.8L345.7 104.4L356.7 102.7L367.7 101.5L378.7 100.7L389.8 100.2L400.9 99.8L412.1 99.5L423.3 99.2L434.6 98.8L445.9 98.5L457.3 98.2L468.8 98.0L480.3 97.9L492.0 97.9L503.7 98.1L515.5 98.5L527.3 99.2L539.3 100.1L551.3 100.9L563.3 101.4L575.5 101.7L587.7 101.9L599.9 101.9L612.2 101.8L624.5 101.6L636.9 101.6L649.3 101.6L661.6 102.0M-11.1 95.9L1.4 94.5L14.0 93.4L26.5 92.6L39.0 91.9L51.5 91.3L63.9 90.9L76.3 90.9L88.6 91.3L100.9 92.1L113.1 93.2L125.3 94.7L137.4 96.4L149.4 98.2L161.3 99.9L173.2 101.6L185.0 103.2L196.7 104.6L208.3 105.8L219.9 107.1L231.4 108.5L242.8 110.1L254.1 112.0L265.4 114.2L276.7 116.6L287.9 118.5L299.1 119.0L310.3 117.4L321.4 114.4L332.6 111.0L343.7 108.2L354.9 106.2L366.1 104.8L377.3 103.9L388.6 103.3L399.9 102.9L411.2 102.6L422.6 102.2L434.1 101.9L445.7 101.5L457.3 101.2L469.0 101.0L480.8 100.8L492.6 100.9L504.6 101.1L516.6 101.4L528.7 102.3L540.9 103.2L553.1 104.0L565.4 104.6L577.7 104.9L590.1 105.1L602.5 105.1L615.0 105.1L627.5 105.0L640.0 104.9L652.6 105.1L665.1 105.4M-15.9 96.3L-3.3 94.9L9.4 93.7L22.0 92.9L34.7 92.3L47.2 91.9L59.8 91.7L72.3 91.8L84.7 92.4L97.1 93.4L109.4 94.7L121.6 96.4L133.8 98.2L145.8 100.0L157.8 101.9L169.8 103.5L181.6 105.0L193.4 106.5L205.1 108.1L216.7 109.6L228.3 111.3L239.8 113.1L251.2 115.3L262.6 117.9L274.0 120.9L285.3 123.3L296.6 124.1L307.9 122.4L319.2 118.9L330.5 115.0L341.8 111.8L353.2 109.6L364.5 108.1L376.0 107.1L387.4 106.5L398.9 106.1L410.5 105.8L422.1 105.5L433.8 105.1L445.6 104.7L457.5 104.4L469.4 104.1L481.4 103.9L493.5 104.0L505.6 104.1L517.9 104.5L530.2 105.3L542.6 106.3L555.0 107.1L567.5 107.7L580.1 108.1L592.6 108.3L605.3 108.4L617.9 108.4L630.6 108.3L643.2 108.3L655.9 108.6L668.6 108.9M-7.9 95.6L4.9 94.4L17.6 93.6L30.4 93.1L43.1 92.8L55.7 92.8L68.3 93.1L80.8 93.8L93.2 95.0L105.6 96.5L117.9 98.3L130.1 100.2L142.3 102.1L154.3 103.9L166.3 105.8L178.2 107.5L190.1 109.1L201.8 110.7L213.5 112.4L225.2 114.1L236.8 116.1L248.3 118.4L259.8 121.3L271.3 124.8L282.8 127.7L294.2 128.7L305.7 126.9L317.1 123.0L328.6 118.7L340.0 115.2L351.6 112.8L363.1 111.3L374.7 110.4L386.4 109.8L398.1 109.4L409.9 109.1L421.7 108.8L433.7 108.4L445.7 108.0L457.8 107.6L469.9 107.3L482.2 107.1L494.5 107.1L506.9 107.2L519.3 107.5L531.9 108.4L544.4 109.3L557.1 110.1L569.8 110.8L582.5 111.3L595.3 111.5L608.1 111.7L620.9 111.7L633.7 111.7L646.5 111.8L659.3 112.1M-12.5 96.5L0.4 95.4L13.3 94.6L26.1 94.1L38.9 93.9L51.6 93.9L64.3 94.3L76.8 95.2L89.4 96.6L101.8 98.3L114.2 100.3L126.5 102.5L138.7 104.7L150.8 106.7L162.8 108.6L174.8 110.4L186.7 112.0L198.6 113.6L210.4 115.2L222.1 116.9L233.8 118.8L245.5 121.2L257.1 124.4L268.7 128.2L280.3 131.7L291.9 132.9L303.5 131.0L315.1 126.7L326.7 122.0L338.4 118.3L350.1 115.9L361.8 114.5L373.6 113.7L385.5 113.2L397.4 112.8L409.4 112.5L421.5 112.2L433.7 111.8L445.9 111.4L458.2 111.0L470.6 110.6L483.1 110.3L495.6 110.2L508.2 110.3L520.9 110.7L533.6 111.5L546.4 112.4L559.3 113.2L572.2 113.8L585.1 114.3L598.0 114.7L611.0 114.9L623.9 115.0L636.9 115.1L649.9 115.3L662.8 115.7M-17.0 97.8L-4.0 96.7L8.9 95.8L21.9 95.4L34.7 95.1L47.5 95.1L60.3 95.5L72.9 96.5L85.5 98.2L98.0 100.4L110.4 102.8L122.8 105.3L135.1 107.7L147.3 109.8L159.4 111.7L171.4 113.5L183.4 115.1L195.4 116.6L207.2 118.2L219.1 119.7L230.9 121.5L242.6 123.8L254.4 127.1L266.1 131.3L277.9 135.3L289.6 136.9L301.4 134.8L313.1 130.1L325.0 125.1L336.8 121.2L348.7 118.9L360.7 117.7L372.7 117.0L384.8 116.6L396.9 116.3L409.2 116.1L421.5 115.8L433.9 115.4L446.3 114.9L458.9 114.4L471.5 113.9L484.2 113.6L496.9 113.4L509.8 113.5L522.6 113.8L535.6 114.5L548.6 115.4L561.6 116.1L574.7 116.8L587.8 117.3L600.9 117.7L614.0 118.1L627.1 118.3L640.2 118.5L653.2 118.9L666.3 119.3M-8.4 98.7L4.6 97.7L17.7 97.1L30.6 96.7L43.5 96.7L56.3 97.2L69.0 98.5L81.6 100.4L94.2 102.8L106.7 105.6L119.1 108.4L131.5 110.9L143.7 113.2L155.9 115.1L168.1 116.9L180.1 118.4L192.2 119.8L204.1 121.2L216.1 122.6L228.0 124.2L239.9 126.4L251.8 129.8L263.7 134.4L275.6 138.9L287.5 140.7L299.4 138.6L311.3 133.5L323.4 128.1L335.4 124.2L347.5 121.9L359.7 120.9L371.9 120.4L384.2 120.1L396.6 119.9L409.1 119.7L421.6 119.4L434.2 119.0L446.9 118.4L459.7 117.9L472.5 117.4L485.4 116.9L498.4 116.7L511.4 116.6L524.5 116.9L537.7 117.6L550.8 118.3L564.1 119.0L577.3 119.7L590.5 120.3L603.8 120.8L617.1 121.2L630.3 121.6L643.5 122.0L656.7 122.5L669.9 122.9M-12.8 101.9L0.4 100.8L13.5 100.0L26.5 99.6L39.4 99.4L52.3 99.8L65.1 101.0L77.8 103.1L90.4 105.8L103.0 108.8L115.5 111.8L127.9 114.6L140.2 116.9L152.5 118.8L164.7 120.5L176.9 121.9L189.0 123.2L201.1 124.4L213.2 125.6L225.2 127.0L237.2 129.1L249.3 132.6L261.3 137.6L273.3 142.6L285.4 144.8L297.5 142.5L309.7 137.1L321.9 131.3L334.1 127.3L346.5 125.1L358.9 124.2L371.3 123.9L383.8 123.8L396.4 123.7L409.1 123.5L421.9 123.1L434.7 122.7L447.7 122.1L460.6 121.4L473.7 120.8L486.8 120.3L500.0 119.9L513.3 119.7L526.6 120.0L539.9 120.6L553.2 121.2L566.6 121.9L580.0 122.6L593.4 123.2L606.8 123.8L620.2 124.3L633.6 124.9L646.9 125.4L660.2 126.1M-17.1 106.7L-3.9 105.5L9.3 104.3L22.4 103.6L35.4 103.2L48.3 103.3L61.2 104.3L74.0 106.4L86.7 109.3L99.3 112.5L111.8 115.8L124.3 118.6L136.7 120.9L149.1 122.8L161.4 124.4L173.7 125.7L185.9 126.8L198.1 127.9L210.3 128.9L222.5 130.1L234.7 132.1L246.8 135.7L259.0 141.1L271.3 146.6L283.5 149.1L295.8 146.8L308.2 140.9L320.6 134.8L333.1 130.6L345.6 128.5L358.2 127.8L370.9 127.6L383.6 127.6L396.5 127.5L409.4 127.3L422.4 127.0L435.5 126.5L448.6 125.8L461.8 125.1L475.1 124.3L488.4 123.7L501.8 123.2L515.3 122.9L528.7 123.1L542.2 123.6L555.8 124.2L569.3 124.8L582.9 125.4L596.4 126.1L609.9 126.8L623.4 127.5L636.9 128.3L650.4 129.0L663.8 129.8M-8.1 111.4L5.1 109.8L18.3 108.7L31.4 107.8L44.4 107.6L57.3 108.4L70.1 110.4L82.9 113.4L95.6 116.8L108.2 120.1L120.8 123.0L133.3 125.3L145.8 127.1L158.2 128.5L170.5 129.7L182.9 130.7L195.2 131.5L207.6 132.4L219.9 133.5L232.2 135.4L244.6 139.2L256.9 145.1L269.3 151.1L281.8 153.9L294.3 151.4L306.8 145.2L319.5 138.6L332.1 134.3L344.9 132.2L357.7 131.5L370.6 131.4L383.6 131.5L396.7 131.5L409.8 131.3L423.1 130.9L436.3 130.3L449.7 129.6L463.1 128.7L476.6 127.9L490.2 127.1L503.8 126.5L517.4 126.1L531.0 126.3L544.7 126.6L558.4 127.1L572.1 127.6L585.8 128.3L599.5 129.0L613.1 129.8L626.7 130.8L640.3 131.7L653.9 132.7L667.4 133.6M-12.3 117.9L1.0 116.1L14.2 114.4L27.4 113.2L40.4 112.6L53.4 113.1L66.3 115.0L79.2 118.0L91.9 121.5L104.6 124.8L117.3 127.7L129.9 130.0L142.5 131.6L155.0 132.9L167.5 133.9L180.0 134.7L192.4 135.4L204.9 136.1L217.4 137.1L229.9 139.1L242.4 143.1L254.9 149.3L267.5 155.8L280.2 158.9L292.9 156.3L305.7 149.7L318.5 142.8L331.4 138.2L344.4 136.1L357.5 135.5L370.6 135.5L383.8 135.6L397.1 135.6L410.5 135.4L423.9 134.9L437.4 134.3L451.0 133.4L464.6 132.5L478.3 131.5L492.1 130.6L505.8 129.8L519.6 129.4L533.5 129.5L547.3 129.7L561.2 130.1L575.0 130.6L588.8 131.2L602.6 132.0L616.4 133.0L630.1 134.1L643.8 135.4L657.4 136.6M-16.4 124.7L-3.1 122.8L10.2 120.6L23.4 119.0L36.5 118.1L49.6 118.4L62.6 120.1L75.5 123.0L88.3 126.5L101.1 129.9L113.9 132.7L126.6 134.8L139.2 136.3L151.9 137.4L164.5 138.3L177.1 139.0L189.7 139.6L202.4 140.2L215.0 141.1L227.7 143.1L240.4 147.3L253.1 153.8L265.9 160.7L278.8 164.0L291.7 161.4L304.7 154.5L317.7 147.3L330.9 142.5L344.1 140.4L357.4 139.8L370.7 139.8L384.2 139.8L397.7 139.8L411.3 139.6L425.0 139.1L438.7 138.3L452.5 137.3L466.3 136.2L480.2 135.0L494.1 133.9L508.1 133.1L522.0 132.6L536.0 132.7L550.0 132.9L564.0 133.2L578.0 133.6L591.9 134.3L605.8 135.1L619.7 136.3L633.5 137.7L647.3 139.2L661.0 140.7M-7.2 129.6L6.2 127.1L19.4 125.2L32.6 124.0L45.8 124.1L58.8 125.6L71.8 128.4L84.7 131.8L97.6 135.1L110.5 137.8L123.3 139.8L136.1 141.1L148.8 142.1L161.6 142.8L174.4 143.3L187.1 143.8L199.9 144.4L212.8 145.3L225.6 147.3L238.5 151.6L251.5 158.5L264.5 165.7L277.5 169.2L290.7 166.5L303.9 159.4L317.2 151.9L330.5 147.0L344.0 144.8L357.5 144.2L371.1 144.2L384.7 144.3L398.5 144.2L412.3 143.9L426.2 143.3L440.1 142.4L454.1 141.2L468.1 139.8L482.2 138.3L496.3 137.0L510.4 136.1L524.6 135.8L538.7 136.0L552.8 136.2L566.9 136.5L581.0 136.9L595.1 137.5L609.1 138.5L623.1 139.9L637.0 141.5L650.8 143.4L664.6 145.1M-11.3 136.2L2.2 133.7L15.5 131.5L28.8 130.2L42.0 130.1L55.1 131.5L68.2 134.1L81.2 137.3L94.2 140.5L107.2 143.0L120.1 144.8L133.0 146.0L145.9 146.8L158.8 147.4L171.8 147.8L184.7 148.2L197.7 148.7L210.7 149.6L223.7 151.7L236.8 156.1L250.0 163.1L263.2 170.6L276.5 174.2L289.8 171.6L303.3 164.3L316.8 156.8L330.4 151.8L344.0 149.6L357.8 148.9L371.6 148.9L385.5 148.9L399.5 148.7L413.5 148.3L427.6 147.6L441.7 146.6L455.9 145.1L470.1 143.2L484.3 141.2L498.6 139.6L512.9 138.8L527.2 138.8L541.5 139.3L555.7 139.7L569.9 140.1L584.2 140.5L598.3 141.1L612.4 142.2L626.5 143.7L640.5 145.7L654.4 147.9L668.3 149.8M-15.3 142.7L-1.8 140.3L11.6 137.9L24.9 136.5L38.2 136.4L51.4 137.6L64.6 140.1L77.7 143.1L90.8 145.9L103.9 148.3L117.0 149.9L130.0 150.9L143.1 151.6L156.2 152.0L169.3 152.4L182.4 152.8L195.5 153.2L208.7 154.1L222.0 156.2L235.3 160.7L248.6 167.8L262.1 175.3L275.6 179.1L289.2 176.5L302.8 169.3L316.6 161.8L330.4 156.8L344.3 154.5L358.3 153.8L372.3 153.7L386.4 153.6L400.6 153.4L414.8 152.9L429.1 152.1L443.4 150.8L457.8 148.9L472.2 146.4L486.6 143.7L501.0 141.7L515.5 141.0L529.9 141.6L544.3 142.6L558.7 143.4L573.0 143.9L587.3 144.4L601.6 145.2L615.8 146.3L629.9 148.1L644.0 150.3L658.0 152.8M-19.3 148.9L-5.8 146.7L7.7 144.4L21.1 143.1L34.5 142.9L47.8 144.1L61.1 146.2L74.3 148.9L87.6 151.5L100.8 153.6L114.0 155.0L127.2 155.9L140.4 156.4L153.6 156.8L166.9 157.1L180.2 157.4L193.5 157.8L206.9 158.7L220.4 160.8L233.9 165.3L247.5 172.4L261.2 179.9L274.9 183.7L288.7 181.2L302.6 174.3L316.6 166.9L330.6 162.0L344.7 159.8L358.9 159.0L373.2 158.8L387.5 158.6L401.9 158.2L416.3 157.6L430.8 156.6L445.3 155.0L459.9 152.6L474.4 149.2L489.0 145.6L503.6 143.2L518.2 142.7L532.7 144.1L547.2 146.0L561.7 147.4L576.2 148.3L590.6 148.9L604.9 149.7L619.2 151.0L633.4 152.9L647.6 155.3L661.6 158.0M-9.7 153.1L3.8 151.1L17.4 149.9L30.8 149.7L44.2 150.7L57.6 152.6L71.0 155.0L84.4 157.2L97.7 159.0L111.1 160.1L124.4 160.9L137.8 161.3L151.2 161.6L164.7 161.8L178.2 162.1L191.7 162.6L205.3 163.4L219.0 165.5L232.7 169.9L246.5 176.9L260.4 184.3L274.4 188.1L288.4 185.8L302.5 179.2L316.7 172.2L331.0 167.5L345.4 165.3L359.8 164.5L374.2 164.1L388.8 163.8L403.4 163.2L418.0 162.4L432.7 161.2L447.3 159.3L462.1 156.2L476.8 151.8L491.5 147.2L506.2 144.2L520.9 144.0L535.6 146.4L550.2 149.5L564.8 151.8L579.4 153.1L593.8 154.0L608.3 154.9L622.6 156.2L636.9 158.2L651.1 160.9L665.3 163.7M-13.6 159.5L0.0 157.8L13.6 156.7L27.2 156.6L40.7 157.5L54.3 159.1L67.8 161.1L81.3 162.9L94.7 164.4L108.3 165.3L121.8 165.9L135.3 166.2L148.9 166.4L162.6 166.6L176.3 166.9L190.0 167.4L203.9 168.2L217.7 170.3L231.7 174.6L245.7 181.3L259.9 188.5L274.0 192.3L288.3 190.3L302.7 184.2L317.1 177.7L331.6 173.2L346.2 171.1L360.8 170.2L375.5 169.7L390.2 169.1L405.0 168.4L419.8 167.4L434.6 166.0L449.5 163.6L464.3 159.8L479.2 154.4L494.1 148.7L508.9 145.2L523.7 145.5L538.5 149.0L553.2 153.3L567.9 156.7L582.6 158.6L597.1 159.8L611.6 160.8L626.1 162.2L640.4 164.2L654.7 166.9L668.9 169.7M-17.5 165.7L-3.8 164.5L10.0 163.5L23.6 163.5L37.3 164.2L50.9 165.6L64.6 167.2L78.2 168.7L91.9 169.8L105.6 170.5L119.3 171.0L133.0 171.2L146.8 171.4L160.7 171.6L174.6 171.8L188.5 172.3L202.6 173.2L216.7 175.2L230.9 179.3L245.1 185.8L259.5 192.6L273.9 196.4L288.4 194.8L303.0 189.4L317.6 183.4L332.3 179.3L347.1 177.2L361.9 176.2L376.8 175.5L391.7 174.7L406.7 173.7L421.7 172.5L436.7 170.8L451.7 168.1L466.7 163.6L481.7 157.3L496.7 150.8L511.7 146.8L526.6 147.6L541.5 152.3L556.3 157.8L571.1 162.2L585.8 164.8L600.5 166.3L615.0 167.4L629.5 168.8L644.0 170.7L658.3 173.4M-7.5 171.0L6.3 170.3L20.1 170.3L33.9 170.9L47.7 172.0L61.5 173.2L75.3 174.4L89.1 175.2L103.0 175.8L116.9 176.1L130.8 176.2L144.8 176.4L158.9 176.5L173.0 176.8L187.2 177.3L201.4 178.2L215.8 180.1L230.2 184.1L244.7 190.2L259.3 196.7L273.9 200.5L288.6 199.4L303.4 194.6L318.3 189.3L333.2 185.7L348.2 183.7L363.2 182.5L378.3 181.5L393.4 180.4L408.6 179.1L423.7 177.6L438.9 175.6L454.0 172.6L469.2 167.8L484.3 160.9L499.4 153.9L514.5 149.9L529.5 151.1L544.5 156.6L559.4 163.1L574.3 168.3L589.1 171.5L603.8 173.4L618.4 174.8L633.0 176.1L647.5 177.9L661.9 180.2M-11.2 177.4L2.8 176.9L16.7 176.9L30.6 177.4L44.6 178.2L58.5 179.2L72.5 180.0L86.5 180.6L100.5 181.0L114.6 181.2L128.8 181.3L143.0 181.4L157.2 181.6L171.6 181.9L186.0 182.3L200.5 183.3L215.1 185.2L229.7 189.0L244.4 194.7L259.2 200.9L274.1 204.6L289.0 204.0L304.1 200.0L319.1 195.5L334.3 192.2L349.4 190.3L364.7 189.0L379.9 187.7L395.2 186.2L410.5 184.5L425.8 182.6L441.1 180.4L456.4 177.2L471.7 172.2L486.9 165.4L502.2 158.4L517.3 154.6L532.4 156.2L547.5 162.1L562.5 169.2L577.4 175.0L592.3 178.8L607.1 181.1L621.8 182.6L636.4 183.9L651.0 185.4L665.4 187.4M-14.8 183.5L-0.8 183.3L13.3 183.3L27.4 183.7L41.5 184.3L55.6 185.0L69.8 185.6L84.0 186.0L98.2 186.3L112.5 186.4L126.9 186.5L141.3 186.6L155.8 186.7L170.3 187.0L185.0 187.5L199.7 188.4L214.5 190.3L229.4 193.9L244.3 199.3L259.3 205.1L274.4 208.8L289.6 208.7L304.8 205.6L320.1 201.8L335.4 199.0L350.8 197.1L366.2 195.6L381.6 193.9L397.1 191.9L412.5 189.8L428.0 187.5L443.4 185.0L458.9 181.7L474.2 176.9L489.6 170.5L504.9 164.2L520.2 160.8L535.4 162.7L550.5 168.7L565.6 176.0L580.6 182.1L595.5 186.4L610.4 189.1L625.2 190.8L639.9 192.0L654.5 193.2L669.0 194.7M-18.4 189.5L-4.2 189.4L10.0 189.5L24.3 189.8L38.5 190.2L52.8 190.7L67.2 191.1L81.6 191.4L96.0 191.6L110.5 191.6L125.1 191.7L139.7 191.8L154.4 191.9L169.2 192.2L184.1 192.7L199.0 193.6L214.1 195.5L229.2 198.9L244.3 203.9L259.6 209.4L274.9 213.1L290.3 213.5L305.7 211.2L321.2 208.2L336.7 205.8L352.3 203.9L367.8 202.1L383.4 200.0L399.0 197.6L414.6 194.9L430.2 192.2L445.8 189.4L461.3 186.0L476.8 181.5L492.3 175.9L507.7 170.6L523.0 168.1L538.3 170.1L553.5 175.9L568.7 183.0L583.8 189.3L598.8 193.9L613.7 197.1L628.5 199.1L643.3 200.3L657.9 201.2M-7.6 195.4L6.8 195.4L21.2 195.7L35.6 196.0L50.1 196.3L64.7 196.6L79.3 196.8L93.9 196.9L108.6 196.9L123.4 196.9L138.3 197.0L153.2 197.1L168.3 197.4L183.4 198.0L198.5 198.9L213.8 200.7L229.1 203.9L244.5 208.6L260.0 213.8L275.5 217.5L291.1 218.3L306.7 216.8L322.4 214.5L338.1 212.4L353.8 210.5L369.5 208.4L385.3 205.9L401.0 202.9L416.8 199.7L432.5 196.5L448.2 193.3L463.8 189.9L479.4 185.8L495.0 181.2L510.5 177.0L525.9 175.4L541.2 177.6L556.5 183.0L571.7 189.8L586.9 196.1L601.9 201.3L616.9 205.0L631.8 207.3L646.6 208.5L661.4 209.1M-10.9 201.2L3.6 201.3L18.2 201.4L32.9 201.6L47.5 201.8L62.3 202.0L77.1 202.1L92.0 202.2L106.9 202.2L121.9 202.2L137.0 202.3L152.2 202.4L167.4 202.7L182.8 203.3L198.2 204.2L213.6 206.0L229.2 209.0L244.8 213.4L260.5 218.2L276.2 221.8L292.0 223.1L307.8 222.3L323.6 220.6L339.5 218.8L355.4 216.9L371.3 214.4L387.2 211.4L403.1 207.9L418.9 204.2L434.7 200.5L450.5 196.9L466.3 193.3L482.0 189.7L497.6 185.9L513.2 182.9L528.7 182.1L544.1 184.4L559.5 189.6L574.8 196.1L590.0 202.6L605.1 208.2L620.1 212.5L635.1 215.3L650.0 216.7L664.8 217.2M-14.2 206.9L0.5 207.0L15.3 207.1L30.2 207.2L45.1 207.3L60.0 207.4L75.0 207.4L90.1 207.5L105.3 207.5L120.5 207.5L135.8 207.6L151.2 207.8L166.7 208.1L182.3 208.6L197.9 209.6L213.6 211.2L229.4 214.1L245.2 218.1L261.1 222.6L277.0 226.1L293.0 227.7L309.0 227.5L325.0 226.3L341.0 224.8L357.0 222.7L373.1 220.0L389.1 216.6L405.1 212.6L421.1 208.3L437.0 204.1L452.9 200.1L468.8 196.4L484.5 193.0L500.2 189.9L515.9 187.8L531.5 187.8L547.0 190.3L562.4 195.3L577.7 201.7L593.0 208.5L608.2 214.7L623.3 219.6L638.3 223.0L653.3 224.8L668.2 225.2M-17.4 212.5L-2.5 212.6L12.5 212.7L27.6 212.7L42.7 212.7L57.8 212.8L73.1 212.8L88.4 212.8L103.8 212.9L119.3 212.9L134.8 213.0L150.4 213.1L166.1 213.4L181.9 214.0L197.8 214.9L213.7 216.5L229.6 219.1L245.7 222.8L261.7 226.9L277.9 230.3L294.0 232.2L310.2 232.4L326.4 231.6L342.5 230.2L358.7 228.1L374.9 225.2L391.0 221.3L407.2 216.9L423.2 212.1L439.3 207.5L455.3 203.1L471.2 199.3L487.0 196.0L502.8 193.4L518.5 192.0L534.2 192.5L549.7 195.3L565.2 200.3L580.6 206.7L596.0 213.8L611.2 220.6L626.4 226.2L641.5 230.3L656.6 232.4M9.9 47.8L5.6 48.4L1.1 49.4L-3.6 50.6L-8.5 51.9L-13.7 53.3L-19.1 54.8M17.6 48.4L13.4 48.8L9.1 49.5L4.5 50.6L-0.3 51.9L-5.4 53.3L-10.7 54.8L-16.3 56.4M25.3 48.9L21.2 49.4L17.0 50.2L12.5 51.1L7.8 52.1L2.8 53.5L-2.4 55.0L-7.9 56.5L-13.7 58.1L-19.7 59.7M32.9 49.5L29.0 50.1L24.9 51.0L20.5 52.0L15.9 53.0L11.0 54.0L5.8 55.2L0.4 56.7L-5.3 58.2L-11.2 59.8L-17.5 61.5M40.6 50.0L36.8 50.8L32.7 51.8L28.4 52.8L23.9 53.9L19.1 54.9L14.0 55.9L8.7 57.0L3.0 58.4L-2.9 59.9L-9.0 61.6L-15.5 63.3M48.2 50.3L44.5 51.3L40.5 52.4L36.3 53.5L31.8 54.6L27.1 55.6L22.1 56.7L16.8 57.7L11.3 58.8L5.4 60.0L-0.7 61.6L-7.0 63.4L-13.7 65.2M55.7 50.5L52.1 51.5L48.2 52.7L44.1 53.9L39.7 55.0L35.1 56.1L30.1 57.2L24.9 58.2L19.4 59.3L13.7 60.4L7.6 61.7L1.3 63.4L-5.3 65.3L-12.1 67.2L-19.1 69.3M63.2 50.3L59.7 51.4L55.9 52.6L51.9 53.9L47.6 55.1L43.0 56.3L38.1 57.4L32.9 58.5L27.5 59.7L21.8 60.9L15.8 62.2L9.6 63.5L3.1 65.3L-3.6 67.3L-10.6 69.3L-17.7 71.4M70.7 49.9L67.2 51.0L63.5 52.2L59.5 53.5L55.3 54.8L50.8 56.1L46.0 57.4L40.9 58.6L35.5 59.9L29.9 61.2L24.0 62.6L17.8 64.0L11.4 65.5L4.8 67.3L-2.1 69.4L-9.1 71.5L-16.4 73.5M78.1 49.4L74.7 50.4L71.1 51.7L67.1 53.0L63.0 54.4L58.5 55.8L53.8 57.2L48.7 58.6L43.4 60.0L37.9 61.4L32.0 62.9L26.0 64.4L19.6 66.0L13.1 67.6L6.4 69.4L-0.6 71.5L-7.7 73.6L-14.9 75.4M85.4 48.9L82.1 49.9L78.5 51.1L74.7 52.5L70.5 53.9L66.1 55.4L61.5 56.9L56.5 58.4L51.3 60.0L45.8 61.5L40.0 63.1L34.1 64.7L27.8 66.4L21.4 68.1L14.8 69.8L8.0 71.6L1.0 73.7L-6.1 75.6L-13.4 77.2M92.6 48.3L89.4 49.3L85.9 50.6L82.1 52.0L78.1 53.4L73.7 55.0L69.1 56.6L64.2 58.2L59.1 59.9L53.7 61.5L48.0 63.2L42.1 65.0L36.0 66.7L29.7 68.5L23.2 70.4L16.5 72.2L9.6 74.0L2.7 75.9L-4.4 77.7L-11.5 79.1L-18.8 80.3M99.8 47.9L96.6 48.8L93.2 50.1L89.5 51.5L85.5 53.0L81.2 54.6L76.7 56.2L71.9 57.9L66.8 59.7L61.5 61.5L55.9 63.3L50.1 65.1L44.1 67.0L37.9 68.9L31.5 70.9L25.0 72.9L18.3 74.8L11.5 76.6L4.6 78.3L-2.4 80.0L-9.4 81.5L-16.5 82.9M106.9 47.4L103.8 48.4L100.4 49.6L96.8 51.0L92.8 52.5L88.6 54.2L84.2 55.8L79.4 57.6L74.5 59.4L69.2 61.3L63.8 63.2L58.1 65.2L52.2 67.2L46.1 69.3L39.9 71.4L33.5 73.5L27.0 75.6L20.3 77.6L13.6 79.4L6.8 81.0L-0.0 82.7L-6.9 84.3L-13.8 86.1M113.9 47.0L110.9 47.9L107.6 49.2L104.0 50.6L100.1 52.1L96.0 53.7L91.6 55.4L87.0 57.2L82.1 59.1L76.9 61.0L71.6 63.0L66.0 65.1L60.3 67.2L54.3 69.5L48.3 71.7L42.0 74.0L35.7 76.3L29.2 78.4L22.7 80.4L16.1 82.2L9.5 83.7L2.8 85.3L-3.9 87.2L-10.5 89.2L-17.1 91.4M120.9 46.7L117.9 47.6L114.6 48.8L111.1 50.1L107.3 51.6L103.3 53.3L99.0 55.0L94.4 56.8L89.7 58.7L84.6 60.7L79.4 62.7L74.0 64.9L68.4 67.2L62.6 69.5L56.6 71.9L50.6 74.3L44.4 76.7L38.1 79.0L31.8 81.1L25.4 83.0L19.0 84.6L12.5 86.1L6.1 87.6L-0.3 89.6L-6.7 91.6L-13.1 93.6L-19.4 95.6M127.7 46.4L124.8 47.3L121.6 48.4L118.2 49.8L114.5 51.2L110.5 52.8L106.3 54.5L101.9 56.3L97.2 58.3L92.3 60.3L87.2 62.4L81.9 64.6L76.4 67.0L70.8 69.4L65.0 72.0L59.2 74.5L53.2 77.0L47.1 79.4L41.0 81.6L34.8 83.6L28.6 85.2L22.3 86.6L16.1 88.1L9.9 89.5L3.8 91.2L-2.4 93.1L-8.4 94.8L-14.4 96.5M134.5 46.2L131.7 47.0L128.6 48.1L125.2 49.5L121.6 50.9L117.7 52.5L113.6 54.1L109.3 55.9L104.7 57.8L99.9 59.9L95.0 62.0L89.8 64.3L84.5 66.8L79.1 69.3L73.5 72.0L67.8 74.6L62.0 77.3L56.1 79.8L50.2 82.1L44.2 84.1L38.2 85.7L32.2 87.1L26.2 88.4L20.3 89.7L14.3 91.1L8.4 92.5L2.6 94.0L-3.2 95.5L-8.9 96.7L-14.5 97.6M141.2 46.1L138.4 46.8L135.4 47.9L132.1 49.2L128.6 50.6L124.9 52.1L120.9 53.8L116.6 55.6L112.2 57.4L107.6 59.5L102.7 61.7L97.8 64.0L92.6 66.6L87.3 69.2L81.9 72.0L76.4 74.8L70.8 77.6L65.2 80.2L59.5 82.6L53.7 84.7L48.0 86.4L42.2 87.7L36.4 88.9L30.7 90.1L25.0 91.3L19.3 92.6L13.7 93.8L8.1 94.8L2.7 95.8L-2.7 96.6L-8.1 97.0L-13.3 97.1L-18.5 97.3M147.9 46.0L145.2 46.8L142.2 47.8L139.0 49.0L135.6 50.4L132.0 51.9L128.1 53.5L124.0 55.2L119.7 57.1L115.2 59.2L110.5 61.4L105.7 63.8L100.7 66.4L95.7 69.2L90.4 72.1L85.1 75.0L79.8 77.9L74.3 80.7L68.8 83.2L63.3 85.4L57.8 87.1L52.2 88.4L46.7 89.5L41.2 90.7L35.7 91.8L30.3 92.9L24.9 94.0L19.5 94.9L14.3 95.6L9.1 95.9L3.9 95.9L-1.2 95.9L-6.1 95.8L-11.1 95.9L-15.9 96.3M154.4 46.0L151.8 46.7L149.0 47.8L145.9 48.9L142.6 50.3L139.0 51.7L135.3 53.3L131.3 55.0L127.2 56.9L122.8 58.9L118.3 61.1L113.7 63.5L108.9 66.2L104.0 69.1L99.0 72.1L93.9 75.2L88.8 78.2L83.5 81.1L78.3 83.8L73.0 86.1L67.7 87.7L62.3 89.0L57.0 90.1L51.7 91.2L46.5 92.2L41.3 93.3L36.1 94.3L31.0 95.1L25.9 95.6L20.9 95.7L15.9 95.4L11.0 94.9L6.2 94.5L1.4 94.5L-3.3 94.9L-7.9 95.6L-12.5 96.5L-17.0 97.8M161.0 46.1L158.4 46.8L155.7 47.8L152.7 48.9L149.5 50.2L146.1 51.6L142.5 53.2L138.7 54.8L134.7 56.7L130.5 58.7L126.2 60.9L121.7 63.3L117.1 66.0L112.4 69.0L107.6 72.1L102.8 75.2L97.8 78.4L92.8 81.4L87.8 84.1L82.7 86.4L77.6 88.1L72.5 89.4L67.5 90.5L62.4 91.5L57.4 92.5L52.4 93.5L47.4 94.5L42.5 95.3L37.6 95.7L32.8 95.6L28.0 95.0L23.3 94.2L18.6 93.6L14.0 93.4L9.4 93.7L4.9 94.4L0.4 95.4L-4.0 96.7L-8.4 98.7L-12.8 101.9L-17.1 106.7M167.4 46.2L165.0 46.9L162.4 47.8L159.5 48.9L156.4 50.2L153.1 51.6L149.7 53.1L146.0 54.8L142.2 56.6L138.2 58.5L134.1 60.7L129.8 63.2L125.4 65.8L120.9 68.8L116.3 71.9L111.7 75.1L106.9 78.3L102.2 81.3L97.4 84.1L92.5 86.5L87.7 88.2L82.8 89.4L77.9 90.5L73.1 91.5L68.3 92.5L63.5 93.5L58.7 94.5L54.0 95.2L49.3 95.5L44.7 95.3L40.1 94.5L35.5 93.6L31.0 92.8L26.5 92.6L22.0 92.9L17.6 93.6L13.3 94.6L8.9 95.8L4.6 97.7L0.4 100.8L-3.9 105.5L-8.1 111.4L-12.3 117.9L-16.4 124.7M173.8 46.4L171.5 47.0L169.0 47.9L166.3 49.0L163.3 50.3L160.2 51.7L156.9 53.2L153.4 54.8L149.7 56.5L145.9 58.5L142.0 60.6L137.9 63.0L133.7 65.7L129.4 68.6L125.1 71.6L120.6 74.8L116.1 78.0L111.6 81.0L107.0 83.7L102.4 86.1L97.8 87.8L93.1 89.1L88.5 90.2L83.9 91.2L79.3 92.2L74.7 93.2L70.1 94.2L65.6 95.0L61.1 95.2L56.6 94.9L52.1 93.9L47.7 92.9L43.3 92.1L39.0 91.9L34.7 92.3L30.4 93.1L26.1 94.1L21.9 95.4L17.7 97.1L13.5 100.0L9.3 104.3L5.1 109.8L1.0 116.1L-3.1 122.8L-7.2 129.6L-11.3 136.2L-15.3 142.7L-19.3 148.9M180.2 46.5L178.0 47.1L175.6 48.0L173.0 49.1L170.2 50.4L167.2 51.8L164.1 53.3L160.8 54.9L157.3 56.6L153.7 58.5L149.9 60.6L146.1 62.9L142.1 65.5L138.0 68.3L133.9 71.3L129.7 74.4L125.4 77.5L121.1 80.4L116.8 83.1L112.4 85.4L108.0 87.1L103.6 88.4L99.1 89.5L94.7 90.5L90.3 91.6L85.9 92.7L81.5 93.7L77.2 94.5L72.8 94.7L68.5 94.3L64.2 93.3L59.9 92.2L55.7 91.4L51.5 91.3L47.2 91.9L43.1 92.8L38.9 93.9L34.7 95.1L30.6 96.7L26.5 99.6L22.4 103.6L18.3 108.7L14.2 114.4L10.2 120.6L6.2 127.1L2.2 133.7L-1.8 140.3L-5.8 146.7L-9.7 153.1L-13.6 159.5L-17.5 165.7M186.6 46.7L184.5 47.3L182.2 48.2L179.8 49.3L177.1 50.5L174.3 51.9L171.3 53.4L168.2 55.0L164.9 56.7L161.5 58.5L158.0 60.6L154.3 62.8L150.6 65.3L146.7 68.0L142.8 70.8L138.8 73.8L134.8 76.7L130.7 79.6L126.6 82.2L122.4 84.4L118.2 86.1L114.0 87.4L109.8 88.6L105.6 89.7L101.4 90.8L97.2 92.0L93.0 93.1L88.8 93.9L84.6 94.1L80.5 93.7L76.3 92.7L72.1 91.6L68.0 90.9L63.9 90.9L59.8 91.7L55.7 92.8L51.6 93.9L47.5 95.1L43.5 96.7L39.4 99.4L35.4 103.2L31.4 107.8L27.4 113.2L23.4 119.0L19.4 125.2L15.5 131.5L11.6 137.9L7.7 144.4L3.8 151.1L0.0 157.8L-3.8 164.5L-7.5 171.0L-11.2 177.4L-14.8 183.5L-18.4 189.5M192.9 46.9L191.0 47.5L188.8 48.4L186.5 49.5L184.0 50.7L181.4 52.1L178.6 53.6L175.7 55.2L172.6 56.9L169.4 58.7L166.0 60.6L162.6 62.8L159.1 65.2L155.5 67.7L151.8 70.4L148.0 73.2L144.2 76.0L140.4 78.6L136.5 81.1L132.5 83.3L128.6 85.0L124.6 86.3L120.6 87.5L116.6 88.7L112.6 89.9L108.5 91.2L104.5 92.3L100.5 93.2L96.4 93.5L92.4 93.2L88.4 92.3L84.3 91.3L80.3 90.7L76.3 90.9L72.3 91.8L68.3 93.1L64.3 94.3L60.3 95.5L56.3 97.2L52.3 99.8L48.3 103.3L44.4 107.6L40.4 112.6L36.5 118.1L32.6 124.0L28.8 130.2L24.9 136.5L21.1 143.1L17.4 149.9L13.6 156.7L10.0 163.5L6.3 170.3L2.8 176.9L-0.8 183.3L-4.2 189.4L-7.6 195.4L-10.9 201.2L-14.2 206.9L-17.4 212.5M199.2 47.0L197.4 47.6L195.4 48.5L193.3 49.7L191.0 51.0L188.5 52.4L185.9 53.9L183.2 55.5L180.3 57.1L177.3 58.9L174.2 60.8L171.0 62.9L167.7 65.1L164.3 67.5L160.9 70.0L157.3 72.6L153.7 75.2L150.1 77.7L146.4 80.0L142.7 82.1L139.0 83.8L135.2 85.2L131.4 86.5L127.6 87.8L123.7 89.1L119.9 90.4L116.0 91.6L112.1 92.6L108.2 93.0L104.3 92.8L100.4 92.1L96.5 91.2L92.6 90.9L88.6 91.3L84.7 92.4L80.8 93.8L76.8 95.2L72.9 96.5L69.0 98.5L65.1 101.0L61.2 104.3L57.3 108.4L53.4 113.1L49.6 118.4L45.8 124.1L42.0 130.1L38.2 136.4L34.5 142.9L30.8 149.7L27.2 156.6L23.6 163.5L20.1 170.3L16.7 176.9L13.3 183.3L10.0 189.5L6.8 195.4L3.6 201.3L0.5 207.0L-2.5 212.6M205.5 47.2L203.9 47.8L202.1 48.8L200.1 50.0L198.0 51.4L195.7 52.8L193.3 54.3L190.8 55.9L188.1 57.5L185.3 59.2L182.4 61.0L179.4 63.0L176.4 65.1L173.2 67.4L170.0 69.7L166.7 72.1L163.3 74.5L159.9 76.8L156.5 79.0L153.0 81.0L149.4 82.7L145.8 84.1L142.2 85.5L138.6 86.9L134.9 88.3L131.2 89.7L127.5 91.1L123.7 92.1L120.0 92.7L116.2 92.6L112.4 92.1L108.6 91.5L104.8 91.4L100.9 92.1L97.1 93.4L93.2 95.0L89.4 96.6L85.5 98.2L81.6 100.4L77.8 103.1L74.0 106.4L70.1 110.4L66.3 115.0L62.6 120.1L58.8 125.6L55.1 131.5L51.4 137.6L47.8 144.1L44.2 150.7L40.7 157.5L37.3 164.2L33.9 170.9L30.6 177.4L27.4 183.7L24.3 189.8L21.2 195.7L18.2 201.4L15.3 207.1L12.5 212.7M211.8 47.4L210.4 48.1L208.7 49.2L206.9 50.6L205.0 52.0L202.9 53.6L200.7 55.1L198.4 56.6L195.9 58.1L193.4 59.7L190.7 61.4L188.0 63.2L185.1 65.2L182.2 67.3L179.2 69.5L176.1 71.7L173.0 73.9L169.8 76.0L166.6 78.1L163.3 80.0L159.9 81.7L156.5 83.2L153.1 84.7L149.6 86.2L146.1 87.7L142.6 89.3L139.0 90.7L135.4 91.8L131.7 92.5L128.1 92.7L124.4 92.5L120.6 92.2L116.9 92.4L113.1 93.2L109.4 94.7L105.6 96.5L101.8 98.3L98.0 100.4L94.2 102.8L90.4 105.8L86.7 109.3L82.9 113.4L79.2 118.0L75.5 123.0L71.8 128.4L68.2 134.1L64.6 140.1L61.1 146.2L57.6 152.6L54.3 159.1L50.9 165.6L47.7 172.0L44.6 178.2L41.5 184.3L38.5 190.2L35.6 196.0L32.9 201.6L30.2 207.2L27.6 212.7M218.2 47.6L216.9 48.5L215.4 49.8L213.8 51.4L212.1 53.0L210.2 54.6L208.2 56.1L206.1 57.5L203.9 58.9L201.5 60.3L199.1 61.8L196.6 63.5L194.0 65.4L191.3 67.3L188.5 69.3L185.7 71.3L182.7 73.3L179.8 75.3L176.7 77.3L173.6 79.1L170.4 80.8L167.2 82.4L164.0 84.0L160.7 85.7L157.3 87.3L153.9 89.0L150.5 90.5L147.0 91.8L143.4 92.6L139.9 93.1L136.3 93.1L132.6 93.2L129.0 93.6L125.3 94.7L121.6 96.4L117.9 98.3L114.2 100.3L110.4 102.8L106.7 105.6L103.0 108.8L99.3 112.5L95.6 116.8L91.9 121.5L88.3 126.5L84.7 131.8L81.2 137.3L77.7 143.1L74.3 148.9L71.0 155.0L67.8 161.1L64.6 167.2L61.5 173.2L58.5 179.2L55.6 185.0L52.8 190.7L50.1 196.3L47.5 201.8L45.1 207.3L42.7 212.7M224.5 47.7L223.4 48.8L222.1 50.4L220.7 52.1L219.2 53.9L217.5 55.6L215.8 57.1L213.9 58.4L211.9 59.6L209.8 60.8L207.6 62.3L205.3 63.8L202.9 65.5L200.4 67.3L197.9 69.2L195.2 71.0L192.5 72.8L189.8 74.7L186.9 76.5L184.0 78.3L181.0 80.0L178.0 81.7L174.9 83.5L171.7 85.3L168.5 87.0L165.2 88.8L161.9 90.5L158.5 91.9L155.1 93.0L151.6 93.6L148.1 94.0L144.6 94.4L141.0 95.1L137.4 96.4L133.8 98.2L130.1 100.2L126.5 102.5L122.8 105.3L119.1 108.4L115.5 111.8L111.8 115.8L108.2 120.1L104.6 124.8L101.1 129.9L97.6 135.1L94.2 140.5L90.8 145.9L87.6 151.5L84.4 157.2L81.3 162.9L78.2 168.7L75.3 174.4L72.5 180.0L69.8 185.6L67.2 191.1L64.7 196.6L62.3 202.0L60.0 207.4L57.8 212.8M230.9 47.7L230.0 48.9L228.9 50.6L227.7 52.4L226.4 54.3L224.9 56.0L223.4 57.5L221.7 58.7L220.0 59.9L218.1 61.1L216.1 62.5L214.0 64.0L211.9 65.6L209.6 67.3L207.3 69.0L204.9 70.6L202.4 72.3L199.8 74.0L197.2 75.7L194.4 77.4L191.6 79.2L188.7 81.0L185.8 82.9L182.8 84.9L179.7 86.8L176.5 88.8L173.3 90.6L170.1 92.1L166.7 93.4L163.4 94.4L159.9 95.1L156.5 95.8L153.0 96.7L149.4 98.2L145.8 100.0L142.3 102.1L138.7 104.7L135.1 107.7L131.5 110.9L127.9 114.6L124.3 118.6L120.8 123.0L117.3 127.7L113.9 132.7L110.5 137.8L107.2 143.0L103.9 148.3L100.8 153.6L97.7 159.0L94.7 164.4L91.9 169.8L89.1 175.2L86.5 180.6L84.0 186.0L81.6 191.4L79.3 196.8L77.1 202.1L75.0 207.4L73.1 212.8M237.3 47.4L236.6 48.6L235.7 50.2L234.7 51.9L233.6 53.8L232.4 55.5L231.1 57.0L229.6 58.3L228.1 59.6L226.5 60.9L224.7 62.4L222.9 63.9L220.9 65.5L218.9 67.1L216.8 68.7L214.6 70.2L212.3 71.7L209.9 73.2L207.4 74.8L204.9 76.5L202.2 78.3L199.5 80.3L196.7 82.4L193.8 84.5L190.9 86.7L187.8 88.7L184.7 90.7L181.5 92.5L178.3 94.0L175.0 95.2L171.7 96.2L168.3 97.2L164.8 98.4L161.3 99.9L157.8 101.9L154.3 103.9L150.8 106.7L147.3 109.8L143.7 113.2L140.2 116.9L136.7 120.9L133.3 125.3L129.9 130.0L126.6 134.8L123.3 139.8L120.1 144.8L117.0 149.9L114.0 155.0L111.1 160.1L108.3 165.3L105.6 170.5L103.0 175.8L100.5 181.0L98.2 186.3L96.0 191.6L93.9 196.9L92.0 202.2L90.1 207.5L88.4 212.8M243.8 47.0L243.3 48.0L242.6 49.4L241.8 51.0L241.0 52.7L240.0 54.3L238.9 55.9L237.7 57.4L236.3 58.9L234.9 60.5L233.4 62.0L231.8 63.7L230.1 65.3L228.3 66.8L226.3 68.3L224.3 69.7L222.2 71.0L220.0 72.4L217.7 73.9L215.3 75.5L212.8 77.4L210.3 79.5L207.6 81.7L204.8 84.1L202.0 86.4L199.1 88.7L196.1 90.8L193.0 92.8L189.8 94.5L186.6 95.9L183.3 97.2L180.0 98.5L176.6 99.9L173.2 101.6L169.8 103.5L166.3 105.8L162.8 108.6L159.4 111.7L155.9 115.1L152.5 118.8L149.1 122.8L145.8 127.1L142.5 131.6L139.2 136.3L136.1 141.1L133.0 146.0L130.0 150.9L127.2 155.9L124.4 160.9L121.8 165.9L119.3 171.0L116.9 176.1L114.6 181.2L112.5 186.4L110.5 191.6L108.6 196.9L106.9 202.2L105.3 207.5L103.8 212.9M250.3 46.5L250.0 47.4L249.6 48.6L249.0 50.0L248.4 51.6L247.6 53.2L246.7 54.8L245.7 56.5L244.7 58.2L243.5 59.9L242.2 61.6L240.8 63.3L239.3 64.9L237.7 66.4L236.0 67.8L234.1 69.0L232.2 70.2L230.2 71.5L228.0 72.9L225.8 74.5L223.5 76.5L221.0 78.7L218.5 81.1L215.8 83.6L213.1 86.1L210.3 88.6L207.3 90.9L204.3 93.0L201.3 94.9L198.1 96.6L194.9 98.2L191.6 99.7L188.3 101.4L185.0 103.2L181.6 105.0L178.2 107.5L174.8 110.4L171.4 113.5L168.1 116.9L164.7 120.5L161.4 124.4L158.2 128.5L155.0 132.9L151.9 137.4L148.8 142.1L145.9 146.8L143.1 151.6L140.4 156.4L137.8 161.3L135.3 166.2L133.0 171.2L130.8 176.2L128.8 181.3L126.9 186.5L125.1 191.7L123.4 196.9L121.9 202.2L120.5 207.5L119.3 212.9M256.9 46.0L256.8 46.8L256.6 47.9L256.3 49.3L255.8 50.7L255.3 52.3L254.7 54.0L253.9 55.7L253.0 57.5L252.1 59.3L251.0 61.1L249.8 62.8L248.5 64.4L247.1 65.9L245.6 67.2L244.0 68.4L242.2 69.5L240.3 70.7L238.4 72.0L236.3 73.6L234.1 75.6L231.7 77.9L229.3 80.4L226.8 83.0L224.1 85.7L221.4 88.3L218.6 90.8L215.6 93.1L212.6 95.2L209.6 97.2L206.4 99.0L203.2 100.8L200.0 102.7L196.7 104.6L193.4 106.5L190.1 109.1L186.7 112.0L183.4 115.1L180.1 118.4L176.9 121.9L173.7 125.7L170.5 129.7L167.5 133.9L164.5 138.3L161.6 142.8L158.8 147.4L156.2 152.0L153.6 156.8L151.2 161.6L148.9 166.4L146.8 171.4L144.8 176.4L143.0 181.4L141.3 186.6L139.7 191.8L138.3 197.0L137.0 202.3L135.8 207.6L134.8 213.0M263.6 45.6L263.7 46.3L263.7 47.4L263.6 48.7L263.4 50.1L263.1 51.7L262.7 53.3L262.1 55.1L261.5 56.9L260.8 58.7L259.9 60.5L258.9 62.3L257.8 63.9L256.6 65.3L255.3 66.6L253.8 67.8L252.2 68.9L250.5 70.0L248.7 71.3L246.7 72.9L244.6 74.8L242.4 77.2L240.1 79.7L237.7 82.5L235.1 85.2L232.5 88.0L229.7 90.6L226.9 93.1L223.9 95.4L220.9 97.6L217.9 99.7L214.7 101.8L211.5 103.9L208.3 105.8L205.1 108.1L201.8 110.7L198.6 113.6L195.4 116.6L192.2 119.8L189.0 123.2L185.9 126.8L182.9 130.7L180.0 134.7L177.1 139.0L174.4 143.3L171.8 147.8L169.3 152.4L166.9 157.1L164.7 161.8L162.6 166.6L160.7 171.6L158.9 176.5L157.2 181.6L155.8 186.7L154.4 191.9L153.2 197.1L152.2 202.4L151.2 207.8L150.4 213.1M270.3 45.2L270.6 45.9L270.9 47.0L271.0 48.2L271.0 49.6L270.9 51.1L270.8 52.8L270.5 54.5L270.0 56.3L269.5 58.1L268.9 60.0L268.1 61.7L267.2 63.3L266.1 64.8L265.0 66.1L263.7 67.3L262.3 68.4L260.7 69.6L259.0 70.9L257.2 72.4L255.2 74.3L253.1 76.6L250.9 79.2L248.5 81.9L246.1 84.8L243.5 87.6L240.8 90.3L238.0 92.9L235.2 95.4L232.2 97.9L229.2 100.3L226.1 102.7L223.0 105.0L219.9 107.1L216.7 109.6L213.5 112.4L210.4 115.2L207.2 118.2L204.1 121.2L201.1 124.4L198.1 127.9L195.2 131.5L192.4 135.4L189.7 139.6L187.1 143.8L184.7 148.2L182.4 152.8L180.2 157.4L178.2 162.1L176.3 166.9L174.6 171.8L173.0 176.8L171.6 181.9L170.3 187.0L169.2 192.2L168.3 197.4L167.4 202.7L166.7 208.1L166.1 213.4M277.1 44.7L277.7 45.5L278.1 46.5L278.5 47.7L278.7 49.1L278.9 50.6L278.9 52.2L278.8 53.9L278.6 55.7L278.3 57.5L277.9 59.4L277.3 61.1L276.6 62.8L275.7 64.3L274.7 65.7L273.6 67.0L272.3 68.2L270.9 69.4L269.3 70.7L267.6 72.3L265.7 74.1L263.7 76.3L261.6 78.8L259.3 81.5L256.9 84.3L254.4 87.1L251.8 89.8L249.1 92.6L246.3 95.3L243.4 98.0L240.5 100.8L237.5 103.5L234.4 106.2L231.4 108.5L228.3 111.3L225.2 114.1L222.1 116.9L219.1 119.7L216.1 122.6L213.2 125.6L210.3 128.9L207.6 132.4L204.9 136.1L202.4 140.2L199.9 144.4L197.7 148.7L195.5 153.2L193.5 157.8L191.7 162.6L190.0 167.4L188.5 172.3L187.2 177.3L186.0 182.3L185.0 187.5L184.1 192.7L183.4 198.0L182.8 203.3L182.3 208.6L181.9 214.0M284.0 44.3L284.8 45.1L285.4 46.1L286.0 47.3L286.5 48.6L286.9 50.1L287.1 51.7L287.3 53.4L287.3 55.2L287.2 57.0L286.9 58.8L286.5 60.6L286.0 62.3L285.3 63.9L284.5 65.5L283.5 66.9L282.3 68.3L281.0 69.6L279.6 70.9L278.0 72.4L276.2 74.2L274.3 76.2L272.3 78.6L270.1 81.1L267.8 83.8L265.3 86.6L262.8 89.4L260.1 92.3L257.4 95.2L254.6 98.2L251.7 101.3L248.7 104.4L245.8 107.3L242.8 110.1L239.8 113.1L236.8 116.1L233.8 118.8L230.9 121.5L228.0 124.2L225.2 127.0L222.5 130.1L219.9 133.5L217.4 137.1L215.0 141.1L212.8 145.3L210.7 149.6L208.7 154.1L206.9 158.7L205.3 163.4L203.9 168.2L202.6 173.2L201.4 178.2L200.5 183.3L199.7 188.4L199.0 193.6L198.5 198.9L198.2 204.2L197.9 209.6L197.8 214.9M290.9 44.0L291.9 44.7L292.9 45.7L293.7 46.9L294.4 48.3L295.0 49.7L295.4 51.3L295.8 52.9L296.0 54.7L296.1 56.5L296.0 58.3L295.8 60.1L295.4 61.9L294.9 63.7L294.2 65.4L293.3 67.0L292.3 68.6L291.1 70.0L289.8 71.4L288.3 72.9L286.6 74.5L284.8 76.3L282.8 78.5L280.7 80.9L278.5 83.4L276.1 86.2L273.6 89.0L271.0 91.9L268.4 95.1L265.6 98.4L262.8 101.9L259.9 105.4L257.0 108.6L254.1 112.0L251.2 115.3L248.3 118.4L245.5 121.2L242.6 123.8L239.9 126.4L237.2 129.1L234.7 132.1L232.2 135.4L229.9 139.1L227.7 143.1L225.6 147.3L223.7 151.7L222.0 156.2L220.4 160.8L219.0 165.5L217.7 170.3L216.7 175.2L215.8 180.1L215.1 185.2L214.5 190.3L214.1 195.5L213.8 200.7L213.6 206.0L213.6 211.2L213.7 216.5M298.0 43.7L299.2 44.5L300.3 45.5L301.4 46.7L302.3 48.0L303.1 49.4L303.8 50.9L304.3 52.6L304.8 54.3L305.0 56.1L305.1 57.9L305.1 59.7L304.9 61.6L304.5 63.5L303.9 65.5L303.2 67.3L302.3 69.1L301.2 70.7L300.0 72.1L298.6 73.5L297.0 74.9L295.3 76.6L293.4 78.5L291.3 80.7L289.1 83.2L286.8 85.8L284.4 88.6L281.9 91.7L279.3 95.0L276.6 98.7L273.9 102.6L271.1 106.6L268.3 110.2L265.4 114.2L262.6 117.9L259.8 121.3L257.1 124.4L254.4 127.1L251.8 129.8L249.3 132.6L246.8 135.7L244.6 139.2L242.4 143.1L240.4 147.3L238.5 151.6L236.8 156.1L235.3 160.7L233.9 165.3L232.7 169.9L231.7 174.6L230.9 179.3L230.2 184.1L229.7 189.0L229.4 193.9L229.2 198.9L229.1 203.9L229.2 209.0L229.4 214.1L229.6 219.1M305.1 43.6L306.5 44.3L307.9 45.3L309.2 46.5L310.3 47.8L311.3 49.2L312.2 50.7L312.9 52.4L313.5 54.1L314.0 55.8L314.3 57.6L314.4 59.5L314.3 61.5L314.1 63.6L313.6 65.7L313.0 67.7L312.2 69.7L311.3 71.4L310.1 72.8L308.8 74.2L307.3 75.4L305.6 76.9L303.8 78.6L301.8 80.7L299.7 83.0L297.5 85.5L295.1 88.4L292.7 91.5L290.1 95.1L287.5 99.1L284.8 103.4L282.1 107.6L279.4 112.0L276.7 116.6L274.0 120.9L271.3 124.8L268.7 128.2L266.1 131.3L263.7 134.4L261.3 137.6L259.0 141.1L256.9 145.1L254.9 149.3L253.1 153.8L251.5 158.5L250.0 163.1L248.6 167.8L247.5 172.4L246.5 176.9L245.7 181.3L245.1 185.8L244.7 190.2L244.4 194.7L244.3 199.3L244.3 203.9L244.5 208.6L244.8 213.4L245.2 218.1L245.7 222.8M312.2 43.5L313.9 44.3L315.5 45.3L317.0 46.5L318.4 47.8L319.6 49.2L320.7 50.7L321.6 52.3L322.4 54.0L323.0 55.8L323.4 57.6L323.7 59.5L323.7 61.6L323.6 63.7L323.3 66.0L322.8 68.2L322.1 70.3L321.3 72.1L320.2 73.6L318.9 74.8L317.5 76.0L315.9 77.3L314.2 78.8L312.3 80.7L310.2 82.9L308.0 85.3L305.8 88.2L303.4 91.4L300.9 95.1L298.4 99.3L295.8 103.9L293.2 108.4L290.5 113.4L287.9 118.5L285.3 123.3L282.8 127.7L280.3 131.7L277.9 135.3L275.6 138.9L273.3 142.6L271.3 146.6L269.3 151.1L267.5 155.8L265.9 160.7L264.5 165.7L263.2 170.6L262.1 175.3L261.2 179.9L260.4 184.3L259.9 188.5L259.5 192.6L259.3 196.7L259.2 200.9L259.3 205.1L259.6 209.4L260.0 213.8L260.5 218.2L261.1 222.6L261.7 226.9M319.5 43.5L321.4 44.3L323.2 45.4L324.9 46.6L326.5 47.9L327.9 49.3L329.2 50.8L330.3 52.4L331.2 54.1L332.0 55.9L332.6 57.8L333.0 59.7L333.2 61.8L333.2 64.0L333.0 66.4L332.6 68.7L332.0 70.8L331.2 72.7L330.2 74.2L329.0 75.5L327.7 76.5L326.2 77.6L324.5 79.0L322.6 80.8L320.6 82.8L318.5 85.2L316.3 87.9L314.0 91.1L311.6 94.8L309.1 99.1L306.6 103.8L304.1 108.4L301.6 113.6L299.1 119.0L296.6 124.1L294.2 128.7L291.9 132.9L289.6 136.9L287.5 140.7L285.4 144.8L283.5 149.1L281.8 153.9L280.2 158.9L278.8 164.0L277.5 169.2L276.5 174.2L275.6 179.1L274.9 183.7L274.4 188.1L274.0 192.3L273.9 196.4L273.9 200.5L274.1 204.6L274.4 208.8L274.9 213.1L275.5 217.5L276.2 221.8L277.0 226.1L277.9 230.3M326.8 43.7L329.0 44.5L331.0 45.6L332.9 46.8L334.6 48.2L336.2 49.6L337.7 51.1L339.0 52.7L340.1 54.4L341.0 56.2L341.7 58.1L342.2 60.1L342.6 62.2L342.7 64.5L342.6 66.8L342.3 69.2L341.8 71.4L341.1 73.3L340.2 74.8L339.1 76.0L337.8 77.0L336.3 78.0L334.7 79.3L332.9 80.9L331.0 82.8L328.9 85.0L326.8 87.6L324.5 90.7L322.2 94.2L319.9 98.2L317.5 102.5L315.1 107.1L312.6 112.2L310.3 117.4L307.9 122.4L305.7 126.9L303.5 131.0L301.4 134.8L299.4 138.6L297.5 142.5L295.8 146.8L294.3 151.4L292.9 156.3L291.7 161.4L290.7 166.5L289.8 171.6L289.2 176.5L288.7 181.2L288.4 185.8L288.3 190.3L288.4 194.8L288.6 199.4L289.0 204.0L289.6 208.7L290.3 213.5L291.1 218.3L292.0 223.1L293.0 227.7L294.0 232.2M334.2 44.0L336.6 44.8L338.8 46.0L340.9 47.2L342.8 48.6L344.6 50.0L346.2 51.5L347.7 53.2L348.9 54.9L350.0 56.7L350.8 58.6L351.5 60.7L351.9 62.8L352.1 65.1L352.1 67.5L351.9 69.8L351.5 72.0L350.9 73.9L350.0 75.5L349.0 76.7L347.8 77.6L346.4 78.6L344.8 79.7L343.1 81.1L341.2 82.9L339.3 84.9L337.2 87.3L335.0 90.1L332.8 93.3L330.6 96.9L328.3 100.6L326.0 104.9L323.7 109.7L321.4 114.4L319.2 118.9L317.1 123.0L315.1 126.7L313.1 130.1L311.3 133.5L309.7 137.1L308.2 140.9L306.8 145.2L305.7 149.7L304.7 154.5L303.9 159.4L303.3 164.3L302.8 169.3L302.6 174.3L302.5 179.2L302.7 184.2L303.0 189.4L303.4 194.6L304.1 200.0L304.8 205.6L305.7 211.2L306.7 216.8L307.8 222.3L309.0 227.5L310.2 232.4M341.7 44.4L344.2 45.3L346.7 46.4L348.9 47.7L351.1 49.0L353.0 50.5L354.8 52.1L356.4 53.7L357.8 55.5L359.0 57.3L359.9 59.3L360.7 61.4L361.2 63.6L361.6 66.0L361.7 68.3L361.5 70.7L361.2 72.9L360.6 74.8L359.8 76.4L358.9 77.6L357.7 78.5L356.4 79.3L354.9 80.3L353.2 81.5L351.4 83.0L349.5 84.9L347.6 87.0L345.5 89.5L343.4 92.4L341.2 95.6L339.0 98.7L336.8 102.6L334.7 106.8L332.6 111.0L330.5 115.0L328.6 118.7L326.7 122.0L325.0 125.1L323.4 128.1L321.9 131.3L320.6 134.8L319.5 138.6L318.5 142.8L317.7 147.3L317.2 151.9L316.8 156.8L316.6 161.8L316.6 166.9L316.7 172.2L317.1 177.7L317.6 183.4L318.3 189.3L319.1 195.5L320.1 201.8L321.2 208.2L322.4 214.5L323.6 220.6L325.0 226.3L326.4 231.6M349.2 44.8L351.9 45.7L354.6 46.9L357.0 48.2L359.3 49.6L361.4 51.1L363.4 52.7L365.1 54.3L366.6 56.1L367.9 58.1L369.0 60.1L369.9 62.3L370.5 64.6L370.9 67.0L371.1 69.5L371.0 71.9L370.8 74.2L370.3 76.2L369.6 77.8L368.7 79.0L367.6 79.7L366.3 80.3L364.9 81.1L363.3 82.1L361.6 83.4L359.8 85.0L357.9 86.9L355.9 89.2L353.9 91.7L351.8 94.4L349.7 97.2L347.7 100.7L345.7 104.4L343.7 108.2L341.8 111.8L340.0 115.2L338.4 118.3L336.8 121.2L335.4 124.2L334.1 127.3L333.1 130.6L332.1 134.3L331.4 138.2L330.9 142.5L330.5 147.0L330.4 151.8L330.4 156.8L330.6 162.0L331.0 167.5L331.6 173.2L332.3 179.3L333.2 185.7L334.3 192.2L335.4 199.0L336.7 205.8L338.1 212.4L339.5 218.8L341.0 224.8L342.5 230.2M356.8 45.3L359.7 46.3L362.5 47.4L365.1 48.7L367.6 50.1L369.8 51.7L371.9 53.3L373.8 55.0L375.4 56.8L376.9 58.8L378.1 61.0L379.0 63.3L379.7 65.7L380.2 68.3L380.5 70.9L380.5 73.5L380.3 75.9L379.8 78.1L379.2 79.8L378.4 80.9L377.3 81.5L376.1 81.7L374.8 82.2L373.3 82.8L371.6 83.9L369.9 85.3L368.1 87.0L366.2 89.0L364.3 91.2L362.4 93.4L360.5 96.1L358.5 99.2L356.7 102.7L354.9 106.2L353.2 109.6L351.6 112.8L350.1 115.9L348.7 118.9L347.5 121.9L346.5 125.1L345.6 128.5L344.9 132.2L344.4 136.1L344.1 140.4L344.0 144.8L344.0 149.6L344.3 154.5L344.7 159.8L345.4 165.3L346.2 171.1L347.1 177.2L348.2 183.7L349.4 190.3L350.8 197.1L352.3 203.9L353.8 210.5L355.4 216.9L357.0 222.7L358.7 228.1M364.4 45.9L367.5 46.8L370.4 48.0L373.2 49.3L375.8 50.7L378.3 52.2L380.5 53.8L382.5 55.6L384.2 57.5L385.7 59.6L387.0 61.8L388.1 64.3L388.9 66.9L389.5 69.7L389.8 72.6L389.9 75.4L389.7 78.1L389.3 80.5L388.8 82.3L388.0 83.4L387.0 83.6L385.9 83.5L384.6 83.4L383.2 83.7L381.7 84.5L380.0 85.6L378.3 87.1L376.6 88.9L374.8 91.0L373.0 92.8L371.2 95.3L369.4 98.3L367.7 101.5L366.1 104.8L364.5 108.1L363.1 111.3L361.8 114.5L360.7 117.7L359.7 120.9L358.9 124.2L358.2 127.8L357.7 131.5L357.5 135.5L357.4 139.8L357.5 144.2L357.8 148.9L358.3 153.8L358.9 159.0L359.8 164.5L360.8 170.2L361.9 176.2L363.2 182.5L364.7 189.0L366.2 195.6L367.8 202.1L369.5 208.4L371.3 214.4L373.1 220.0L374.9 225.2M372.0 46.4L375.3 47.3L378.4 48.5L381.4 49.8L384.1 51.2L386.7 52.7L389.0 54.3L391.1 56.1L393.0 58.1L394.6 60.3L396.0 62.7L397.1 65.3L398.0 68.1L398.6 71.2L399.0 74.3L399.2 77.5L399.1 80.6L398.8 83.3L398.3 85.2L397.5 86.2L396.7 86.1L395.6 85.4L394.4 84.8L393.1 84.7L391.6 85.0L390.1 85.9L388.5 87.2L386.8 88.9L385.2 90.7L383.5 92.4L381.9 94.8L380.3 97.6L378.7 100.7L377.3 103.9L376.0 107.1L374.7 110.4L373.6 113.7L372.7 117.0L371.9 120.4L371.3 123.9L370.9 127.6L370.6 131.4L370.6 135.5L370.7 139.8L371.1 144.2L371.6 148.9L372.3 153.7L373.2 158.8L374.2 164.1L375.5 169.7L376.8 175.5L378.3 181.5L379.9 187.7L381.6 193.9L383.4 200.0L385.3 205.9L387.2 211.4L389.1 216.6L391.0 221.3M379.7 46.8L383.1 47.7L386.4 48.9L389.5 50.1L392.4 51.5L395.0 53.1L397.5 54.7L399.7 56.6L401.7 58.6L403.4 60.9L404.8 63.4L406.1 66.2L407.0 69.3L407.7 72.6L408.2 76.1L408.4 79.6L408.4 83.0L408.1 85.9L407.7 87.9L407.0 88.9L406.2 88.3L405.2 87.2L404.1 86.1L402.9 85.4L401.5 85.5L400.1 86.1L398.6 87.3L397.1 88.8L395.6 90.3L394.1 92.1L392.6 94.5L391.2 97.2L389.8 100.2L388.6 103.3L387.4 106.5L386.4 109.8L385.5 113.2L384.8 116.6L384.2 120.1L383.8 123.8L383.6 127.6L383.6 131.5L383.8 135.6L384.2 139.8L384.7 144.3L385.5 148.9L386.4 153.6L387.5 158.6L388.8 163.8L390.2 169.1L391.7 174.7L393.4 180.4L395.2 186.2L397.1 191.9L399.0 197.6L401.0 202.9L403.1 207.9L405.1 212.6L407.2 216.9M387.4 47.2L391.0 48.0L394.4 49.1L397.6 50.4L400.6 51.8L403.4 53.3L405.9 55.0L408.3 56.9L410.3 58.9L412.1 61.3L413.6 64.0L414.9 66.9L415.9 70.2L416.7 73.7L417.2 77.4L417.5 81.2L417.6 84.8L417.4 87.9L417.0 90.0L416.4 90.8L415.7 90.0L414.8 88.4L413.8 86.9L412.6 85.9L411.4 85.7L410.1 86.2L408.8 87.2L407.4 88.7L406.0 90.0L404.7 91.8L403.3 94.2L402.1 96.9L400.9 99.8L399.9 102.9L398.9 106.1L398.1 109.4L397.4 112.8L396.9 116.3L396.6 119.9L396.4 123.7L396.5 127.5L396.7 131.5L397.1 135.6L397.7 139.8L398.5 144.2L399.5 148.7L400.6 153.4L401.9 158.2L403.4 163.2L405.0 168.4L406.7 173.7L408.6 179.1L410.5 184.5L412.5 189.8L414.6 194.9L416.8 199.7L418.9 204.2L421.1 208.3L423.2 212.1M395.0 47.4L398.8 48.2L402.3 49.3L405.7 50.5L408.8 51.9L411.7 53.4L414.4 55.1L416.8 57.0L418.9 59.2L420.8 61.6L422.4 64.3L423.7 67.5L424.8 70.9L425.6 74.5L426.2 78.3L426.6 82.2L426.7 85.8L426.6 88.8L426.3 90.9L425.8 91.6L425.1 90.6L424.3 88.8L423.4 87.1L422.4 86.0L421.3 85.7L420.1 86.1L418.9 87.0L417.7 88.4L416.4 89.6L415.3 91.5L414.1 93.9L413.1 96.6L412.1 99.5L411.2 102.6L410.5 105.8L409.9 109.1L409.4 112.5L409.2 116.1L409.1 119.7L409.1 123.5L409.4 127.3L409.8 131.3L410.5 135.4L411.3 139.6L412.3 143.9L413.5 148.3L414.8 152.9L416.3 157.6L418.0 162.4L419.8 167.4L421.7 172.5L423.7 177.6L425.8 182.6L428.0 187.5L430.2 192.2L432.5 196.5L434.7 200.5L437.0 204.1L439.3 207.5M402.7 47.3L406.6 48.1L410.3 49.2L413.8 50.4L417.0 51.8L420.0 53.4L422.7 55.1L425.2 57.0L427.4 59.2L429.4 61.7L431.0 64.5L432.5 67.7L433.6 71.2L434.5 74.9L435.2 78.6L435.6 82.3L435.7 85.7L435.7 88.6L435.5 90.5L435.1 91.1L434.5 90.1L433.8 88.3L433.0 86.7L432.1 85.6L431.1 85.3L430.1 85.7L429.0 86.7L427.9 87.9L426.9 89.2L425.9 91.2L424.9 93.6L424.1 96.3L423.3 99.2L422.6 102.2L422.1 105.5L421.7 108.8L421.5 112.2L421.5 115.8L421.6 119.4L421.9 123.1L422.4 127.0L423.1 130.9L423.9 134.9L425.0 139.1L426.2 143.3L427.6 147.6L429.1 152.1L430.8 156.6L432.7 161.2L434.6 166.0L436.7 170.8L438.9 175.6L441.1 180.4L443.4 185.0L445.8 189.4L448.2 193.3L450.5 196.9L452.9 200.1L455.3 203.1M410.4 47.1L414.4 47.8L418.2 48.9L421.8 50.1L425.1 51.6L428.2 53.2L431.0 54.9L433.6 56.9L435.9 59.1L437.9 61.6L439.6 64.5L441.1 67.8L442.3 71.3L443.3 74.9L444.0 78.4L444.5 81.7L444.7 84.8L444.8 87.3L444.6 88.9L444.3 89.5L443.9 88.6L443.3 87.1L442.6 85.7L441.8 84.9L440.9 84.7L440.1 85.2L439.1 86.2L438.2 87.2L437.4 88.8L436.5 90.8L435.8 93.3L435.1 96.0L434.6 98.8L434.1 101.9L433.8 105.1L433.7 108.4L433.7 111.8L433.9 115.4L434.2 119.0L434.7 122.7L435.5 126.5L436.3 130.3L437.4 134.3L438.7 138.3L440.1 142.4L441.7 146.6L443.4 150.8L445.3 155.0L447.3 159.3L449.5 163.6L451.7 168.1L454.0 172.6L456.4 177.2L458.9 181.7L461.3 186.0L463.8 189.9L466.3 193.3L468.8 196.4L471.2 199.3M418.1 46.7L422.2 47.4L426.1 48.4L429.8 49.8L433.2 51.3L436.3 52.9L439.3 54.7L441.9 56.7L444.2 59.0L446.3 61.5L448.1 64.4L449.7 67.6L451.0 71.1L452.0 74.5L452.8 77.7L453.3 80.7L453.6 83.2L453.8 85.3L453.7 86.7L453.5 87.2L453.2 86.5L452.7 85.4L452.1 84.4L451.5 83.9L450.8 84.0L450.0 84.7L449.3 85.7L448.6 86.7L447.9 88.3L447.3 90.4L446.7 92.9L446.2 95.6L445.9 98.5L445.7 101.5L445.6 104.7L445.7 108.0L445.9 111.4L446.3 114.9L446.9 118.4L447.7 122.1L448.6 125.8L449.7 129.6L451.0 133.4L452.5 137.3L454.1 141.2L455.9 145.1L457.8 148.9L459.9 152.6L462.1 156.2L464.3 159.8L466.7 163.6L469.2 167.8L471.7 172.2L474.2 176.9L476.8 181.5L479.4 185.8L482.0 189.7L484.5 193.0L487.0 196.0M425.7 46.3L429.9 46.9L433.9 48.0L437.7 49.4L441.2 51.0L444.4 52.7L447.4 54.5L450.1 56.5L452.5 58.7L454.7 61.2L456.6 64.1L458.2 67.3L459.5 70.7L460.6 73.9L461.5 76.8L462.1 79.3L462.5 81.4L462.7 83.1L462.8 84.2L462.7 84.7L462.4 84.3L462.1 83.6L461.7 83.1L461.2 82.9L460.6 83.3L460.0 84.1L459.5 85.2L458.9 86.2L458.4 87.9L458.0 90.1L457.7 92.6L457.4 95.3L457.3 98.2L457.3 101.2L457.5 104.4L457.8 107.6L458.2 111.0L458.9 114.4L459.7 117.9L460.6 121.4L461.8 125.1L463.1 128.7L464.6 132.5L466.3 136.2L468.1 139.8L470.1 143.2L472.2 146.4L474.4 149.2L476.8 151.8L479.2 154.4L481.7 157.3L484.3 160.9L486.9 165.4L489.6 170.5L492.3 175.9L495.0 181.2L497.6 185.9L500.2 189.9L502.8 193.4M433.3 46.1L437.6 46.7L441.7 47.8L445.6 49.3L449.1 50.8L452.5 52.5L455.5 54.3L458.3 56.3L460.8 58.5L463.0 61.0L464.9 63.8L466.6 66.9L468.0 70.2L469.2 73.2L470.1 75.9L470.8 78.0L471.3 79.6L471.6 81.0L471.8 81.9L471.8 82.4L471.7 82.3L471.5 82.0L471.2 81.9L470.9 82.1L470.5 82.6L470.1 83.6L469.7 84.5L469.4 85.8L469.1 87.6L468.8 89.9L468.7 92.4L468.7 95.1L468.8 98.0L469.0 101.0L469.4 104.1L469.9 107.3L470.6 110.6L471.5 113.9L472.5 117.4L473.7 120.8L475.1 124.3L476.6 127.9L478.3 131.5L480.2 135.0L482.2 138.3L484.3 141.2L486.6 143.7L489.0 145.6L491.5 147.2L494.1 148.7L496.7 150.8L499.4 153.9L502.2 158.4L504.9 164.2L507.7 170.6L510.5 177.0L513.2 182.9L515.9 187.8L518.5 192.0M440.8 46.3L445.2 46.9L449.4 48.0L453.4 49.4L457.0 50.9L460.4 52.5L463.5 54.3L466.3 56.2L468.9 58.3L471.2 60.7L473.2 63.4L474.9 66.5L476.4 69.6L477.7 72.5L478.7 74.9L479.5 76.7L480.1 78.1L480.5 79.2L480.8 80.0L480.9 80.6L481.0 80.7L480.9 80.7L480.7 80.9L480.6 81.4L480.4 82.1L480.2 83.2L480.0 84.1L479.8 85.5L479.7 87.4L479.7 89.7L479.8 92.3L480.0 95.0L480.3 97.9L480.8 100.8L481.4 103.9L482.2 107.1L483.1 110.3L484.2 113.6L485.4 116.9L486.8 120.3L488.4 123.7L490.2 127.1L492.1 130.6L494.1 133.9L496.3 137.0L498.6 139.6L501.0 141.7L503.6 143.2L506.2 144.2L508.9 145.2L511.7 146.8L514.5 149.9L517.3 154.6L520.2 160.8L523.0 168.1L525.9 175.4L528.7 182.1L531.5 187.8L534.2 192.5M448.3 46.7L452.8 47.4L457.1 48.5L461.1 49.8L464.8 51.2L468.3 52.7L471.5 54.4L474.3 56.1L477.0 58.2L479.3 60.5L481.4 63.1L483.2 66.0L484.8 69.0L486.1 71.7L487.2 73.9L488.1 75.6L488.8 76.8L489.4 77.7L489.8 78.5L490.0 79.2L490.2 79.5L490.3 79.8L490.3 80.2L490.3 80.9L490.3 81.8L490.3 83.0L490.3 83.8L490.3 85.4L490.5 87.4L490.7 89.7L491.0 92.3L491.4 95.0L492.0 97.9L492.6 100.9L493.5 104.0L494.5 107.1L495.6 110.2L496.9 113.4L498.4 116.7L500.0 119.9L501.8 123.2L503.8 126.5L505.8 129.8L508.1 133.1L510.4 136.1L512.9 138.8L515.5 141.0L518.2 142.7L520.9 144.0L523.7 145.5L526.6 147.6L529.5 151.1L532.4 156.2L535.4 162.7L538.3 170.1L541.2 177.6L544.1 184.4L547.0 190.3L549.7 195.3M455.8 47.3L460.4 48.1L464.7 49.2L468.8 50.4L472.6 51.8L476.1 53.1L479.3 54.6L482.3 56.3L485.0 58.1L487.4 60.3L489.5 62.7L491.4 65.5L493.0 68.3L494.5 70.9L495.7 73.0L496.7 74.5L497.5 75.6L498.2 76.6L498.7 77.4L499.1 78.1L499.4 78.6L499.7 79.1L499.9 79.7L500.1 80.6L500.2 81.6L500.4 82.7L500.6 83.7L500.9 85.4L501.3 87.5L501.7 89.9L502.2 92.5L502.9 95.2L503.7 98.1L504.6 101.1L505.6 104.1L506.9 107.2L508.2 110.3L509.8 113.5L511.4 116.6L513.3 119.7L515.3 122.9L517.4 126.1L519.6 129.4L522.0 132.6L524.6 135.8L527.2 138.8L529.9 141.6L532.7 144.1L535.6 146.4L538.5 149.0L541.5 152.3L544.5 156.6L547.5 162.1L550.5 168.7L553.5 175.9L556.5 183.0L559.5 189.6L562.4 195.3L565.2 200.3M463.1 47.9L467.8 48.8L472.2 50.0L476.3 51.2L480.2 52.5L483.8 53.8L487.1 55.1L490.1 56.5L492.9 58.2L495.3 60.2L497.6 62.5L499.5 65.0L501.3 67.7L502.8 70.1L504.1 72.1L505.2 73.5L506.2 74.6L507.0 75.6L507.7 76.4L508.2 77.2L508.7 77.9L509.1 78.5L509.5 79.3L509.9 80.3L510.3 81.5L510.6 82.4L511.1 83.7L511.6 85.5L512.1 87.7L512.8 90.1L513.6 92.8L514.4 95.6L515.5 98.5L516.6 101.4L517.9 104.5L519.3 107.5L520.9 110.7L522.6 113.8L524.5 116.9L526.6 120.0L528.7 123.1L531.0 126.3L533.5 129.5L536.0 132.7L538.7 136.0L541.5 139.3L544.3 142.6L547.2 146.0L550.2 149.5L553.2 153.3L556.3 157.8L559.4 163.1L562.5 169.2L565.6 176.0L568.7 183.0L571.7 189.8L574.8 196.1L577.7 201.7L580.6 206.7M470.4 48.5L475.2 49.6L479.7 50.9L483.9 52.2L487.8 53.4L491.4 54.5L494.8 55.7L497.9 56.9L500.7 58.4L503.3 60.1L505.6 62.2L507.6 64.5L509.5 67.0L511.1 69.2L512.5 71.1L513.8 72.5L514.8 73.6L515.8 74.6L516.6 75.5L517.3 76.4L518.0 77.2L518.6 78.0L519.2 79.0L519.8 80.1L520.3 81.4L520.9 82.3L521.6 83.9L522.3 85.8L523.1 88.1L524.0 90.7L525.0 93.4L526.1 96.3L527.3 99.2L528.7 102.3L530.2 105.3L531.9 108.4L533.6 111.5L535.6 114.5L537.7 117.6L539.9 120.6L542.2 123.6L544.7 126.6L547.3 129.7L550.0 132.9L552.8 136.2L555.7 139.7L558.7 143.4L561.7 147.4L564.8 151.8L567.9 156.7L571.1 162.2L574.3 168.3L577.4 175.0L580.6 182.1L583.8 189.3L586.9 196.1L590.0 202.6L593.0 208.5L596.0 213.8M477.7 49.0L482.5 50.3L487.0 51.7L491.3 53.1L495.3 54.3L499.0 55.3L502.4 56.3L505.6 57.3L508.5 58.5L511.1 60.0L513.5 61.9L515.7 64.0L517.6 66.2L519.3 68.4L520.9 70.2L522.3 71.6L523.5 72.8L524.6 73.9L525.6 74.9L526.5 76.0L527.3 76.9L528.1 77.9L528.9 79.0L529.7 80.2L530.5 81.5L531.3 82.6L532.2 84.3L533.1 86.4L534.1 88.8L535.2 91.4L536.5 94.2L537.8 97.1L539.3 100.1L540.9 103.2L542.6 106.3L544.4 109.3L546.4 112.4L548.6 115.4L550.8 118.3L553.2 121.2L555.8 124.2L558.4 127.1L561.2 130.1L564.0 133.2L566.9 136.5L569.9 140.1L573.0 143.9L576.2 148.3L579.4 153.1L582.6 158.6L585.8 164.8L589.1 171.5L592.3 178.8L595.5 186.4L598.8 193.9L601.9 201.3L605.1 208.2L608.2 214.7L611.2 220.6M484.8 49.4L489.7 50.8L494.3 52.3L498.6 53.8L502.7 55.0L506.5 55.9L510.0 56.7L513.2 57.6L516.2 58.6L518.9 59.9L521.4 61.7L523.7 63.7L525.7 65.8L527.6 67.8L529.3 69.5L530.8 70.9L532.2 72.1L533.4 73.2L534.6 74.3L535.7 75.4L536.7 76.5L537.7 77.6L538.7 78.8L539.7 80.1L540.7 81.3L541.7 82.6L542.8 84.5L544.0 86.7L545.2 89.2L546.6 91.9L548.0 94.8L549.6 97.8L551.3 100.9L553.1 104.0L555.0 107.1L557.1 110.1L559.3 113.2L561.6 116.1L564.1 119.0L566.6 121.9L569.3 124.8L572.1 127.6L575.0 130.6L578.0 133.6L581.0 136.9L584.2 140.5L587.3 144.4L590.6 148.9L593.8 154.0L597.1 159.8L600.5 166.3L603.8 173.4L607.1 181.1L610.4 189.1L613.7 197.1L616.9 205.0L620.1 212.5L623.3 219.6L626.4 226.2M491.9 49.6L496.8 51.1L501.5 52.7L505.9 54.2L510.0 55.4L513.9 56.3L517.5 57.0L520.8 57.8L523.9 58.9L526.7 60.2L529.3 61.7L531.6 63.5L533.8 65.4L535.8 67.2L537.6 68.8L539.3 70.1L540.8 71.3L542.3 72.5L543.6 73.6L544.9 74.7L546.1 75.8L547.3 77.0L548.5 78.3L549.7 79.7L550.9 80.9L552.2 82.4L553.5 84.5L554.9 86.8L556.4 89.4L558.0 92.3L559.7 95.2L561.4 98.3L563.3 101.4L565.4 104.6L567.5 107.7L569.8 110.8L572.2 113.8L574.7 116.8L577.3 119.7L580.0 122.6L582.9 125.4L585.8 128.3L588.8 131.2L591.9 134.3L595.1 137.5L598.3 141.1L601.6 145.2L604.9 149.7L608.3 154.9L611.6 160.8L615.0 167.4L618.4 174.8L621.8 182.6L625.2 190.8L628.5 199.1L631.8 207.3L635.1 215.3L638.3 223.0L641.5 230.3M498.9 49.8L503.9 51.3L508.6 52.9L513.1 54.4L517.3 55.6L521.2 56.7L524.9 57.5L528.3 58.3L531.5 59.2L534.4 60.3L537.1 61.7L539.6 63.3L541.9 64.9L544.0 66.6L546.0 68.0L547.8 69.3L549.5 70.5L551.1 71.7L552.7 72.8L554.2 74.0L555.6 75.2L557.0 76.5L558.4 77.8L559.8 79.3L561.3 80.5L562.8 82.2L564.3 84.3L566.0 86.8L567.7 89.5L569.5 92.4L571.4 95.4L573.4 98.6L575.5 101.7L577.7 104.9L580.1 108.1L582.5 111.3L585.1 114.3L587.8 117.3L590.5 120.3L593.4 123.2L596.4 126.1L599.5 129.0L602.6 132.0L605.8 135.1L609.1 138.5L612.4 142.2L615.8 146.3L619.2 151.0L622.6 156.2L626.1 162.2L629.5 168.8L633.0 176.1L636.4 183.9L639.9 192.0L643.3 200.3L646.6 208.5L650.0 216.7L653.3 224.8L656.6 232.4M505.8 50.0L510.9 51.5L515.7 53.1L520.2 54.8L524.5 56.2L528.5 57.3L532.3 58.0L535.8 58.7L539.0 59.5L542.1 60.5L544.9 61.6L547.5 63.0L550.0 64.5L552.2 65.9L554.4 67.3L556.4 68.6L558.3 69.7L560.1 70.9L561.8 72.1L563.5 73.3L565.1 74.6L566.7 76.0L568.4 77.4L570.0 78.9L571.7 80.1L573.4 81.9L575.2 84.2L577.1 86.7L579.0 89.5L581.0 92.4L583.1 95.5L585.4 98.7L587.7 101.9L590.1 105.1L592.6 108.3L595.3 111.5L598.0 114.7L600.9 117.7L603.8 120.8L606.8 123.8L609.9 126.8L613.1 129.8L616.4 133.0L619.7 136.3L623.1 139.9L626.5 143.7L629.9 148.1L633.4 152.9L636.9 158.2L640.4 164.2L644.0 170.7L647.5 177.9L651.0 185.4L654.5 193.2L657.9 201.2L661.4 209.1L664.8 217.2L668.2 225.2M512.7 50.4L517.8 51.8L522.7 53.8L527.3 55.5L531.6 57.0L535.7 57.9L539.6 58.6L543.2 59.2L546.6 59.8L549.7 60.6L552.7 61.6L555.4 62.8L558.0 64.1L560.5 65.4L562.8 66.6L565.0 67.9L567.0 69.1L569.0 70.3L571.0 71.6L572.9 72.8L574.7 74.2L576.6 75.7L578.4 77.2L580.3 78.5L582.2 79.9L584.2 81.8L586.2 84.1L588.3 86.6L590.4 89.4L592.7 92.3L595.0 95.4L597.4 98.6L599.9 101.9L602.5 105.1L605.3 108.4L608.1 111.7L611.0 114.9L614.0 118.1L617.1 121.2L620.2 124.3L623.4 127.5L626.7 130.8L630.1 134.1L633.5 137.7L637.0 141.5L640.5 145.7L644.0 150.3L647.6 155.3L651.1 160.9L654.7 166.9L658.3 173.4L661.9 180.2L665.4 187.4L669.0 194.7M519.5 50.9L524.7 52.7L529.6 54.6L534.3 56.4L538.7 57.7L542.9 58.6L546.9 59.2L550.6 59.7L554.1 60.2L557.4 60.8L560.5 61.6L563.4 62.6L566.1 63.7L568.7 64.9L571.2 66.1L573.6 67.3L575.9 68.5L578.1 69.8L580.2 71.1L582.3 72.5L584.4 74.0L586.5 75.5L588.5 77.1L590.7 78.3L592.8 79.8L595.0 81.8L597.2 84.1L599.5 86.6L601.9 89.3L604.3 92.3L606.9 95.3L609.5 98.5L612.2 101.8L615.0 105.1L617.9 108.4L620.9 111.7L623.9 115.0L627.1 118.3L630.3 121.6L633.6 124.9L636.9 128.3L640.3 131.7L643.8 135.4L647.3 139.2L650.8 143.4L654.4 147.9L658.0 152.8L661.6 158.0L665.3 163.7L668.9 169.7M526.2 51.9L531.4 53.6L536.5 55.5L541.2 57.2L545.8 58.5L550.1 59.3L554.1 59.8L557.9 60.1L561.6 60.5L565.0 61.0L568.2 61.6L571.3 62.4L574.2 63.4L577.0 64.4L579.7 65.6L582.3 66.7L584.7 68.0L587.1 69.4L589.5 70.8L591.8 72.2L594.1 73.8L596.4 75.4L598.7 76.9L601.1 78.1L603.4 79.8L605.9 81.8L608.3 84.0L610.8 86.5L613.4 89.3L616.1 92.2L618.8 95.2L621.6 98.4L624.5 101.6L627.5 105.0L630.6 108.3L633.7 111.7L636.9 115.1L640.2 118.5L643.5 122.0L646.9 125.4L650.4 129.0L653.9 132.7L657.4 136.6L661.0 140.7L664.6 145.1L668.3 149.8M532.8 52.9L538.1 54.6L543.3 56.4L548.1 58.0L552.8 59.2L557.2 59.9L561.3 60.3L565.3 60.6L569.1 60.8L572.6 61.2L576.0 61.7L579.3 62.4L582.4 63.2L585.3 64.1L588.2 65.1L591.0 66.3L593.7 67.6L596.3 69.0L598.9 70.4L601.4 71.9L604.0 73.5L606.5 75.2L609.0 76.7L611.6 78.0L614.2 79.7L616.8 81.7L619.5 84.0L622.2 86.5L625.0 89.2L627.9 92.1L630.8 95.1L633.8 98.3L636.9 101.6L640.0 104.9L643.2 108.3L646.5 111.8L649.9 115.3L653.2 118.9L656.7 122.5L660.2 126.1L663.8 129.8L667.4 133.6M539.4 53.8L544.8 55.4L550.0 57.1L555.0 58.6L559.7 59.7L564.2 60.4L568.5 60.8L572.6 61.0L576.5 61.1L580.3 61.4L583.8 61.8L587.3 62.4L590.6 63.0L593.7 63.9L596.8 64.9L599.8 66.0L602.7 67.2L605.5 68.6L608.3 70.1L611.1 71.6L613.9 73.3L616.6 74.9L619.4 76.3L622.2 77.8L625.0 79.6L627.8 81.7L630.7 84.0L633.7 86.5L636.7 89.2L639.7 92.0L642.9 95.1L646.0 98.3L649.3 101.6L652.6 105.1L655.9 108.6L659.3 112.1L662.8 115.7L666.3 119.3L669.9 122.9M545.9 54.7L551.4 56.2L556.7 57.8L561.8 59.1L566.6 60.2L571.3 60.8L575.7 61.1L580.0 61.3L584.0 61.4L587.9 61.7L591.7 62.0L595.3 62.4L598.8 63.0L602.1 63.8L605.4 64.7L608.6 65.8L611.7 67.0L614.8 68.4L617.8 69.9L620.8 71.4L623.8 73.1L626.8 74.7L629.8 76.0L632.8 77.6L635.9 79.5L638.9 81.7L642.0 84.0L645.2 86.5L648.4 89.3L651.6 92.3L654.9 95.4L658.2 98.6L661.6 102.0L665.1 105.4L668.6 108.9M552.3 55.5L558.0 56.9L563.4 58.3L568.6 59.6L573.5 60.5L578.3 61.1L582.9 61.4L587.3 61.6L591.6 61.7L595.6 61.9L599.6 62.2L603.4 62.6L607.0 63.1L610.6 63.8L614.1 64.7L617.5 65.7L620.9 67.0L624.2 68.3L627.4 69.8L630.7 71.3L633.9 72.9L637.1 74.6L640.3 75.9L643.6 77.6L646.8 79.6L650.1 81.9L653.4 84.4L656.7 87.0L660.1 89.8L663.5 92.8L667.0 95.8M558.7 56.3L564.5 57.5L570.0 58.7L575.3 59.9L580.4 60.7L585.4 61.3L590.1 61.6L594.7 61.8L599.1 61.9L603.4 62.1L607.5 62.4L611.5 62.8L615.4 63.3L619.2 64.0L622.9 64.9L626.5 65.9L630.1 67.1L633.6 68.4L637.1 69.8L640.6 71.3L644.0 73.0L647.5 74.6L650.9 76.2L654.4 78.1L657.8 80.2L661.3 82.5L664.8 85.0L668.3 87.6M565.1 56.9L571.0 57.9L576.6 59.1L582.1 60.0L587.3 60.8L592.4 61.4L597.3 61.7L602.1 61.9L606.7 62.1L611.1 62.4L615.5 62.7L619.7 63.1L623.8 63.6L627.8 64.3L631.7 65.2L635.6 66.2L639.4 67.3L643.1 68.6L646.9 70.1L650.6 71.7L654.2 73.5L657.9 75.2L661.5 76.7L665.2 78.6L668.9 80.8M571.5 57.4L577.4 58.3L583.2 59.3L588.8 60.2L594.3 60.9L599.5 61.4L604.6 61.7L609.5 62.0L614.3 62.3L619.0 62.6L623.5 62.9L627.9 63.4L632.2 64.0L636.5 64.7L640.6 65.6L644.7 66.6L648.8 67.8L652.8 69.3L656.7 70.8L660.6 72.4L664.5 74.2L668.4 75.9M577.8 57.8L583.9 58.6L589.8 59.5L595.6 60.2L601.2 60.9L606.6 61.4L611.9 61.7L617.0 62.1L622.0 62.4L626.8 62.8L631.6 63.2L636.2 63.8L640.8 64.4L645.2 65.2L649.6 66.2L654.0 67.4L658.2 68.6L662.4 70.1L666.6 71.6M584.1 58.2L590.4 58.9L596.5 59.6L602.4 60.3L608.1 60.9L613.7 61.3L619.2 61.7L624.5 62.1L629.7 62.5L634.8 62.9L639.8 63.5L644.6 64.1L649.4 65.0L654.1 65.9L658.7 67.0L663.3 68.2L667.8 69.5M590.4 58.6L596.8 59.2L603.1 59.8L609.2 60.4L615.1 60.9L620.9 61.3L626.6 61.7L632.1 62.1L637.5 62.5L642.8 63.1L648.0 63.8L653.1 64.6L658.1 65.6L663.0 66.6L667.9 67.7M596.7 58.9L603.3 59.5L609.7 60.0L616.0 60.5L622.1 61.0L628.1 61.4L634.0 61.7L639.8 62.1L645.4 62.6L650.9 63.3L656.3 64.1L661.6 65.1L666.9 66.1M603.1 59.2L609.8 59.7L616.4 60.2L622.9 60.6L629.2 61.0L635.4 61.4L641.5 61.8L647.5 62.2L653.3 62.8L659.1 63.5L664.7 64.4M609.4 59.4L616.4 59.8L623.2 60.3L629.8 60.7L636.4 61.0L642.8 61.4L649.1 61.8L655.3 62.3L661.3 62.9L667.3 63.6M615.8 59.6L622.9 59.9L629.9 60.3L636.8 60.7L643.6 61.0L650.2 61.4L656.7 61.9L663.1 62.4L669.4 63.0M622.3 59.6L629.6 60.0L636.8 60.3L643.9 60.6L650.8 61.1L657.7 61.5L664.4 62.0M628.7 59.6L636.3 59.9L643.7 60.3L651.0 60.7L658.2 61.2L665.2 61.6M635.3 59.6L643.0 59.9L650.6 60.3L658.2 60.7L665.6 61.2M641.9 59.5L649.8 59.9L657.7 60.3L665.4 60.8M648.5 59.4L656.7 59.8L664.8 60.3M655.3 59.3L663.7 59.8" fill="none" stroke="#dadada" stroke-width="0.55"/><path d="M4.6 47.7L12.6 48.0L20.5 48.6L28.4 49.2L36.2 49.9L44.0 50.4L51.7 50.7L59.4 50.9L67.0 50.9L74.6 50.6L82.0 50.1L89.4 49.4L96.7 48.6L103.9 47.9L111.1 47.3L118.1 47.0L125.1 46.9L132.1 47.0L138.9 47.1L145.7 47.2L152.5 47.3L159.2 47.4L165.9 47.6L172.5 47.9L179.1 48.1L185.7 48.4L192.3 48.5L198.9 48.7L205.6 48.7L212.2 48.5L218.9 48.2L225.6 47.8L232.4 47.3L239.2 46.8L246.1 46.4L253.1 46.0L260.1 45.7L267.2 45.4L274.4 45.2L281.6 44.9L288.9 44.7L296.4 44.5L303.8 44.3L311.4 44.3L319.0 44.4L326.7 44.7L334.5 45.1L342.3 45.6L350.2 46.2L358.1 46.9L366.0 47.6L373.9 48.5L381.9 49.4L389.9 50.2M-0.1 48.5L8.0 48.5L16.0 49.2L24.0 49.9L31.9 50.6L39.8 51.3L47.6 51.7L55.4 52.0L63.0 52.0L70.6 51.8L78.2 51.3L85.6 50.5L93.0 49.7L100.3 48.9L107.5 48.3L114.6 48.0L121.7 47.9L128.7 47.9L135.6 48.0L142.5 48.1L149.4 48.2L156.2 48.4L163.0 48.5L169.8 48.7L176.5 48.9L183.3 49.2L190.0 49.4L196.8 49.5L203.6 49.5L210.4 49.3L217.3 49.0L224.2 48.6L231.2 48.0L238.2 47.5L245.3 47.0L252.5 46.6L259.8 46.3L267.1 46.0L274.5 45.7L282.0 45.5L289.5 45.2L297.2 45.0L304.9 44.9L312.7 45.0L320.5 45.1L328.4 45.4L336.4 45.9L344.4 46.5L352.4 47.2L360.5 47.9L368.6 48.8L376.7 49.8L384.9 50.9M-5.0 49.7L3.2 49.7L11.3 50.1L19.4 50.9L27.4 51.6L35.3 52.4L43.2 52.9L51.1 53.3L58.8 53.3L66.5 53.1L74.0 52.6L81.6 51.9L89.0 51.0L96.3 50.1L103.6 49.5L110.8 49.1L118.0 49.0L125.1 49.1L132.1 49.2L139.1 49.2L146.1 49.3L153.0 49.3L159.9 49.4L166.8 49.5L173.7 49.7L180.6 49.9L187.5 50.1L194.5 50.2L201.5 50.2L208.5 50.1L215.6 49.7L222.7 49.3L229.9 48.8L237.1 48.2L244.5 47.7L251.9 47.3L259.3 46.9L266.9 46.6L274.5 46.3L282.2 46.0L290.0 45.7L297.9 45.6L305.8 45.5L313.8 45.6L321.9 45.8L330.0 46.2L338.1 46.7L346.3 47.4L354.6 48.2L362.8 49.1L371.1 50.1L379.3 51.2M-10.2 51.2L-1.9 51.3L6.3 51.4L14.5 52.1L22.6 52.9L30.6 53.6L38.6 54.2L46.5 54.6L54.3 54.8L62.0 54.6L69.6 54.1L77.2 53.4L84.7 52.5L92.1 51.7L99.5 51.0L106.8 50.6L114.0 50.5L121.2 50.5L128.4 50.5L135.5 50.4L142.5 50.4L149.6 50.3L156.6 50.3L163.7 50.4L170.7 50.5L177.8 50.6L184.9 50.8L192.0 50.9L199.2 50.9L206.4 50.8L213.7 50.5L221.0 50.1L228.4 49.5L235.9 49.0L243.5 48.4L251.1 48.0L258.8 47.5L266.6 47.2L274.4 46.8L282.4 46.5L290.4 46.2L298.5 46.1L306.6 46.0L314.8 46.2L323.1 46.5L331.4 47.0L339.7 47.6L348.1 48.4L356.5 49.3L364.9 50.3L373.3 51.4M-15.6 53.0L-7.2 53.1L1.1 53.2L9.3 53.5L17.5 54.3L25.6 55.0L33.6 55.6L41.6 56.1L49.5 56.2L57.3 56.2L65.0 55.8L72.6 55.1L80.2 54.3L87.7 53.5L95.1 52.9L102.5 52.5L109.8 52.2L117.1 52.1L124.4 52.0L131.6 51.8L138.8 51.6L146.0 51.4L153.2 51.3L160.4 51.3L167.6 51.3L174.8 51.4L182.1 51.5L189.4 51.6L196.8 51.6L204.2 51.5L211.7 51.3L219.3 50.9L226.9 50.4L234.6 49.9L242.4 49.3L250.2 48.7L258.2 48.2L266.2 47.7L274.3 47.3L282.4 46.9L290.6 46.7L298.9 46.5L307.3 46.6L315.7 46.8L324.2 47.2L332.7 47.8L341.2 48.5L349.7 49.4L358.3 50.4L366.9 51.5L375.4 52.8M-12.8 55.0L-4.4 55.2L3.9 55.3L12.2 55.8L20.3 56.5L28.4 57.1L36.4 57.5L44.4 57.8L52.2 57.8L60.0 57.5L67.7 57.0L75.4 56.3L82.9 55.6L90.5 55.0L97.9 54.6L105.4 54.3L112.8 54.0L120.1 53.7L127.5 53.4L134.8 53.1L142.2 52.8L149.5 52.6L156.9 52.5L164.3 52.4L171.7 52.5L179.2 52.5L186.7 52.6L194.3 52.6L201.9 52.5L209.6 52.3L217.4 52.0L225.2 51.5L233.1 50.9L241.2 50.3L249.2 49.6L257.4 49.0L265.6 48.4L274.0 47.9L282.3 47.4L290.8 47.1L299.3 47.0L307.8 47.1L316.4 47.4L325.1 47.9L333.8 48.6L342.5 49.5L351.2 50.5L359.9 51.6L368.6 52.8M-18.6 57.0L-10.2 57.1L-1.8 57.2L6.5 57.4L14.8 58.0L22.9 58.5L31.0 59.0L39.0 59.3L46.9 59.4L54.8 59.3L62.6 59.0L70.3 58.5L78.0 57.9L85.6 57.4L93.2 57.0L100.7 56.6L108.2 56.2L115.7 55.8L123.2 55.4L130.7 54.9L138.2 54.5L145.7 54.2L153.2 54.0L160.8 53.9L168.4 53.9L176.1 53.9L183.8 54.0L191.6 54.0L199.4 53.9L207.4 53.7L215.4 53.4L223.5 52.8L231.6 52.2L239.8 51.5L248.2 50.7L256.5 49.9L265.0 49.2L273.5 48.5L282.1 48.0L290.8 47.6L299.5 47.5L308.3 47.7L317.0 48.0L325.9 48.7L334.7 49.5L343.6 50.5L352.4 51.6L361.3 52.8M-16.2 59.0L-7.7 59.1L0.6 59.2L8.9 59.4L17.2 60.0L25.3 60.4L33.4 60.8L41.4 61.1L49.3 61.2L57.2 61.0L65.0 60.8L72.7 60.4L80.4 60.0L88.1 59.5L95.8 59.1L103.4 58.6L111.1 58.1L118.7 57.6L126.3 57.1L134.0 56.7L141.7 56.3L149.4 56.0L157.2 55.9L165.0 55.8L172.9 55.8L180.8 55.8L188.8 55.8L196.9 55.7L205.0 55.5L213.3 55.1L221.6 54.5L230.0 53.8L238.4 52.9L247.0 52.0L255.6 51.0L264.3 50.1L273.0 49.3L281.8 48.7L290.7 48.3L299.6 48.2L308.5 48.3L317.5 48.8L326.5 49.5L335.5 50.4L344.5 51.5L353.5 52.7L362.5 54.1M-14.0 60.9L-5.5 61.0L2.8 61.1L11.1 61.3L19.3 61.9L27.5 62.3L35.5 62.7L43.5 63.0L51.5 63.1L59.4 63.1L67.3 62.9L75.1 62.6L82.9 62.2L90.7 61.8L98.5 61.3L106.2 60.8L114.0 60.2L121.8 59.6L129.7 59.1L137.6 58.7L145.5 58.4L153.4 58.2L161.5 58.1L169.5 58.0L177.7 58.0L185.9 57.9L194.2 57.8L202.6 57.5L211.1 57.0L219.6 56.3L228.2 55.5L236.9 54.5L245.7 53.4L254.5 52.3L263.4 51.2L272.4 50.2L281.4 49.5L290.4 49.1L299.5 48.9L308.6 49.1L317.8 49.6L326.9 50.4L336.1 51.3L345.2 52.5L354.3 53.9M-12.0 62.8L-3.5 62.8L4.8 62.9L13.1 63.3L21.3 63.9L29.5 64.4L37.6 64.9L45.6 65.2L53.6 65.4L61.6 65.4L69.5 65.3L77.5 65.0L85.4 64.7L93.3 64.1L101.3 63.6L109.2 62.9L117.2 62.3L125.2 61.7L133.3 61.3L141.4 60.9L149.6 60.7L157.8 60.5L166.1 60.4L174.5 60.3L182.9 60.2L191.5 60.0L200.1 59.6L208.8 59.0L217.5 58.3L226.4 57.3L235.3 56.2L244.3 54.9L253.3 53.6L262.4 52.4L271.6 51.3L280.8 50.5L290.0 50.0L299.3 49.8L308.6 50.0L317.9 50.5L327.2 51.3L336.5 52.4L345.7 53.6L355.0 55.0M-18.7 64.5L-10.2 64.6L-1.8 64.6L6.6 64.8L14.9 65.4L23.1 66.1L31.3 66.7L39.5 67.3L47.6 67.7L55.7 68.0L63.8 68.1L71.9 67.9L79.9 67.6L88.0 67.1L96.1 66.5L104.2 65.9L112.4 65.2L120.6 64.6L128.9 64.0L137.2 63.6L145.6 63.2L154.1 63.0L162.6 62.8L171.2 62.7L179.9 62.5L188.6 62.2L197.5 61.7L206.4 61.1L215.4 60.2L224.4 59.1L233.6 57.9L242.8 56.5L252.0 55.1L261.3 53.7L270.7 52.5L280.1 51.6L289.5 51.1L298.9 50.9L308.4 51.0L317.8 51.6L327.2 52.4L336.7 53.5L346.1 54.8M-17.1 66.4L-8.6 66.5L-0.1 66.6L8.3 66.9L16.6 67.7L24.9 68.6L33.2 69.4L41.4 70.1L49.6 70.6L57.8 70.8L66.1 70.9L74.3 70.7L82.6 70.2L90.8 69.6L99.2 68.9L107.5 68.2L115.9 67.5L124.4 66.8L132.9 66.3L141.5 65.8L150.2 65.5L159.0 65.2L167.8 65.0L176.7 64.7L185.7 64.3L194.8 63.8L203.9 63.0L213.1 62.1L222.4 60.9L231.8 59.6L241.2 58.1L250.6 56.6L260.1 55.1L269.6 53.9L279.2 52.9L288.8 52.3L298.4 52.0L308.0 52.2L317.6 52.7L327.1 53.6L336.7 54.6L346.2 55.9M-15.6 68.3L-7.1 68.5L1.4 68.9L9.9 69.5L18.3 70.5L26.7 71.5L35.0 72.4L43.4 73.2L51.8 73.7L60.1 73.9L68.5 73.8L77.0 73.4L85.4 72.8L93.9 72.1L102.5 71.3L111.1 70.5L119.8 69.7L128.6 69.1L137.4 68.5L146.3 68.0L155.3 67.6L164.4 67.3L173.5 66.9L182.7 66.4L192.0 65.8L201.4 65.0L210.8 64.0L220.3 62.7L229.8 61.3L239.5 59.7L249.1 58.1L258.8 56.6L268.5 55.3L278.2 54.2L288.0 53.6L297.7 53.3L307.4 53.5L317.1 54.0L326.8 54.8L336.5 55.9M-14.2 70.5L-5.6 70.9L2.9 71.5L11.5 72.4L20.0 73.6L28.5 74.8L37.0 75.8L45.5 76.5L54.1 76.8L62.7 76.9L71.3 76.6L79.9 76.1L88.6 75.3L97.4 74.5L106.3 73.6L115.2 72.7L124.1 71.9L133.2 71.2L142.3 70.6L151.5 70.0L160.8 69.6L170.2 69.1L179.6 68.5L189.2 67.8L198.7 66.9L208.4 65.8L218.1 64.5L227.8 63.0L237.6 61.3L247.5 59.7L257.3 58.1L267.2 56.7L277.1 55.7L287.0 55.0L296.8 54.7L306.7 54.8L316.5 55.3L326.3 56.1L336.1 57.1M-12.9 73.0L-4.2 73.7L4.5 74.5L13.1 75.8L21.8 77.1L30.5 78.3L39.2 79.2L47.9 79.7L56.7 79.9L65.5 79.7L74.3 79.2L83.3 78.5L92.3 77.6L101.3 76.6L110.4 75.6L119.6 74.7L128.9 73.8L138.3 73.1L147.7 72.4L157.2 71.8L166.8 71.2L176.5 70.5L186.2 69.8L196.0 68.8L205.9 67.6L215.8 66.2L225.7 64.7L235.7 63.0L245.7 61.2L255.7 59.6L265.8 58.2L275.8 57.1L285.8 56.4L295.8 56.1L305.8 56.1L315.7 56.6L325.6 57.4L335.5 58.5M-11.4 75.9L-2.6 76.8L6.2 77.9L15.0 79.4L23.8 80.7L32.7 81.8L41.6 82.5L50.6 82.8L59.6 82.7L68.7 82.3L77.8 81.5L87.0 80.6L96.3 79.5L105.7 78.5L115.1 77.4L124.6 76.4L134.2 75.5L143.9 74.7L153.6 74.0L163.4 73.3L173.3 72.6L183.3 71.7L193.3 70.7L203.3 69.5L213.4 68.0L223.5 66.4L233.7 64.6L243.8 62.8L254.0 61.2L264.2 59.7L274.4 58.6L284.5 57.8L294.6 57.5L304.7 57.5L314.8 58.0L324.8 58.8M-18.8 78.1L-9.9 79.1L-0.9 80.3L8.1 81.5L17.1 83.0L26.2 84.2L35.3 85.1L44.5 85.5L53.7 85.5L63.0 85.1L72.3 84.3L81.8 83.4L91.3 82.3L100.9 81.1L110.5 79.9L120.3 78.8L130.1 77.8L140.0 76.9L149.9 76.1L160.0 75.3L170.1 74.6L180.2 73.7L190.4 72.7L200.7 71.4L210.9 69.8L221.2 68.1L231.5 66.2L241.9 64.4L252.2 62.7L262.5 61.2L272.8 60.1L283.1 59.3L293.3 59.0L303.5 59.0L313.6 59.4L323.7 60.2M-17.2 81.4L-8.0 82.7L1.1 83.9L10.3 85.2L19.6 86.5L28.9 87.4L38.3 87.9L47.7 88.0L57.2 87.6L66.8 86.9L76.5 85.9L86.2 84.7L96.0 83.5L105.9 82.2L115.9 81.1L125.9 80.0L136.0 79.0L146.2 78.1L156.5 77.3L166.8 76.6L177.1 75.8L187.5 74.9L197.9 73.5L208.4 71.8L218.8 69.9L229.3 67.9L239.8 66.0L250.2 64.3L260.7 62.9L271.1 61.7L281.5 60.9L291.8 60.6L302.1 60.6L312.3 60.9L322.4 61.7M-15.3 84.7L-5.9 86.0L3.5 87.2L13.0 88.3L22.5 89.3L32.1 89.8L41.7 89.9L51.5 89.5L61.3 88.8L71.2 87.8L81.1 86.7L91.2 85.4L101.3 84.1L111.5 82.9L121.7 81.8L132.1 80.7L142.5 79.8L152.9 79.1L163.4 78.6L173.9 78.1L184.5 77.3L195.1 76.0L205.7 74.1L216.3 72.1L227.0 70.0L237.6 68.1L248.1 66.3L258.7 64.9L269.2 63.8L279.7 63.0L290.1 62.6L300.5 62.5L310.8 62.9M-13.0 87.9L-3.4 89.0L6.3 89.9L16.0 90.8L25.8 91.3L35.7 91.4L45.7 91.1L55.7 90.4L65.8 89.5L76.0 88.3L86.3 87.1L96.6 85.8L107.1 84.6L117.5 83.4L128.1 82.3L138.7 81.5L149.3 80.9L160.0 80.7L170.7 80.5L181.5 80.0L192.2 78.7L203.0 76.7L213.8 74.5L224.5 72.3L235.2 70.4L245.9 68.7L256.6 67.3L267.2 66.2L277.8 65.4L288.3 65.0L298.8 64.9L309.1 65.1M-10.3 90.9L-0.4 91.7L9.6 92.2L19.6 92.8L29.7 92.9L39.9 92.6L50.2 91.9L60.5 91.0L71.0 89.9L81.4 88.7L92.0 87.4L102.6 86.2L113.3 85.0L124.1 84.0L134.9 83.2L145.7 82.8L156.6 82.8L167.5 82.9L178.4 82.6L189.3 81.4L200.2 79.4L211.1 77.1L222.0 74.9L232.8 73.0L243.6 71.4L254.4 70.1L265.1 69.0L275.8 68.2L286.3 67.6L296.9 67.4L307.3 67.6M-17.1 92.8L-7.0 93.6L3.2 94.0L13.4 94.2L23.8 94.3L34.2 94.0L44.7 93.4L55.2 92.5L65.9 91.4L76.6 90.3L87.4 89.1L98.2 87.9L109.1 86.7L120.1 85.7L131.1 85.0L142.1 84.7L153.1 84.8L164.2 85.0L175.2 84.9L186.3 83.9L197.3 82.1L208.3 79.9L219.3 77.8L230.3 76.1L241.2 74.5L252.0 73.2L262.8 72.2L273.6 71.3L284.2 70.6L294.8 70.3L305.3 70.3M-13.6 95.5L-3.2 95.9L7.3 95.8L17.8 95.8L28.5 95.5L39.2 94.9L50.0 94.1L60.9 93.1L71.8 92.0L82.8 90.8L93.8 89.7L104.9 88.6L116.1 87.6L127.2 86.9L138.4 86.6L149.6 86.7L160.8 87.0L172.0 87.0L183.2 86.2L194.4 84.7L205.5 82.9L216.6 81.1L227.6 79.6L238.6 78.2L249.6 76.9L260.4 75.8L271.3 74.8L282.0 74.0L292.6 73.5L303.2 73.3M-9.6 97.9L1.1 97.8L11.9 97.5L22.8 97.2L33.8 96.6L44.8 95.8L55.9 94.8L67.0 93.8L78.2 92.7L89.4 91.6L100.7 90.6L112.0 89.7L123.4 89.1L134.7 88.7L146.1 88.8L157.4 89.0L168.7 89.0L180.0 88.6L191.3 87.6L202.6 86.3L213.8 85.0L224.9 83.7L236.0 82.4L247.0 81.1L257.9 79.9L268.8 78.8L279.6 77.8L290.3 77.1M-15.9 100.1L-4.9 100.0L6.1 99.4L17.2 99.0L28.4 98.4L39.6 97.6L50.9 96.7L62.2 95.7L73.6 94.7L85.0 93.7L96.5 92.8L108.0 92.0L119.5 91.4L131.0 91.1L142.5 91.1L154.0 91.3L165.4 91.5L176.8 91.4L188.2 90.9L199.6 90.2L210.8 89.4L222.1 88.4L233.2 87.2L244.3 85.9L255.3 84.6L266.3 83.3L277.1 82.0L287.9 80.9M-10.9 102.3L0.3 101.7L11.6 101.0L23.0 100.3L34.5 99.5L46.0 98.6L57.5 97.7L69.1 96.8L80.7 95.9L92.3 95.1L104.0 94.5L115.6 94.0L127.2 93.8L138.9 93.9L150.5 94.2L162.0 94.5L173.6 94.8L185.0 94.9L196.5 94.8L207.8 94.4L219.1 93.6L230.4 92.5L241.5 91.2L252.6 89.6L263.6 88.0L274.5 86.5L285.4 85.0M-16.8 104.8L-5.4 104.1L6.2 103.2L17.8 102.4L29.4 101.6L41.1 100.7L52.8 99.9L64.6 99.0L76.3 98.3L88.1 97.6L99.9 97.0L111.7 96.7L123.5 96.7L135.2 96.9L146.9 97.4L158.6 98.1L170.2 98.8L181.8 99.3L193.3 99.7L204.8 99.7L216.1 99.2L227.4 98.1L238.7 96.7L249.8 94.9L260.9 93.0L271.9 91.0L282.8 89.3M-11.0 106.7L0.8 105.6L12.6 104.6L24.4 103.7L36.3 102.9L48.2 102.1L60.1 101.4L72.0 100.7L84.0 100.1L95.9 99.7L107.8 99.5L119.7 99.6L131.6 100.1L143.4 100.8L155.1 101.8L166.9 102.8L178.5 103.9L190.1 104.7L201.6 105.0L213.1 104.7L224.4 103.7L235.7 102.1L246.9 100.1L258.1 97.9L269.1 95.6L280.1 93.4M-16.5 109.4L-4.6 108.2L7.4 106.9L19.4 106.0L31.5 105.2L43.6 104.4L55.6 103.7L67.7 103.1L79.8 102.6L91.9 102.3L103.9 102.3L115.9 102.6L127.9 103.2L139.8 104.1L151.6 105.4L163.4 106.7L175.2 108.1L186.8 109.3L198.4 109.9L209.9 109.9L221.4 108.9L232.7 107.2L244.0 104.9L255.2 102.4L266.3 99.8L277.4 97.4M-9.8 110.9L2.3 109.5L14.5 108.3L26.8 107.4L39.0 106.7L51.2 106.0L63.4 105.5L75.6 105.1L87.8 104.9L100.0 105.0L112.1 105.4L124.1 106.1L136.1 107.2L148.1 108.5L160.0 110.1L171.8 111.7L183.5 113.2L195.1 114.1L206.7 114.2L218.2 113.3L229.6 111.5L241.0 109.1L252.2 106.3L263.4 103.5L274.6 100.9M-15.0 113.5L-2.6 112.0L9.7 110.6L22.1 109.7L34.5 109.0L46.8 108.4L59.2 107.9L71.5 107.6L83.8 107.4L96.1 107.5L108.3 107.9L120.4 108.7L132.5 109.8L144.5 111.2L156.5 112.8L168.3 114.5L180.1 116.1L191.8 117.2L203.5 117.4L215.0 116.6L226.5 114.8L237.9 112.3L249.3 109.3L260.5 106.4L271.8 103.7M-7.6 114.5L4.9 113.0L17.5 112.0L30.0 111.2L42.5 110.6L55.0 110.2L67.4 109.9L79.8 109.8L92.1 109.9L104.4 110.2L116.6 110.9L128.8 112.0L140.9 113.3L152.9 114.8L164.8 116.5L176.7 118.0L188.5 119.1L200.2 119.5L211.8 118.6L223.4 116.9L234.9 114.6L246.3 112.0L257.6 109.3M-12.4 116.8L0.2 115.3L12.9 114.1L25.5 113.4L38.2 112.8L50.7 112.4L63.3 112.2L75.8 112.0L88.2 112.1L100.6 112.4L112.9 113.0L125.1 113.8L137.3 114.9L149.3 116.3L161.3 117.8L173.3 119.0L185.1 120.0L196.9 120.5L208.6 120.1L220.2 118.9L231.8 117.0L243.3 114.7L254.7 112.2M-17.2 118.9L-4.4 117.4L8.4 116.2L21.1 115.5L33.9 115.0L46.6 114.6L59.2 114.4L71.8 114.2L84.3 114.2L96.7 114.4L109.1 114.8L121.4 115.4L133.6 116.2L145.8 117.3L157.8 118.6L169.8 119.9L181.7 121.0L193.6 121.7L205.3 121.6L217.0 120.8L228.7 119.3L240.3 117.4L251.8 115.2M-9.0 119.4L3.9 118.2L16.8 117.5L29.6 117.0L42.4 116.7L55.1 116.5L67.8 116.4L80.3 116.3L92.9 116.3L105.3 116.5L117.7 117.0L130.0 117.7L142.2 118.7L154.3 119.8L166.3 121.1L178.3 122.2L190.2 123.0L202.1 123.4L213.9 123.0L225.6 122.0L237.3 120.4L249.0 118.5M-13.5 121.2L-0.5 120.1L12.4 119.4L25.4 119.0L38.2 118.8L51.0 118.6L63.8 118.4L76.4 118.4L89.0 118.5L101.5 118.7L113.9 119.0L126.3 119.5L138.6 120.2L150.8 121.2L162.9 122.4L174.9 123.6L186.9 124.8L198.9 125.6L210.7 125.7L222.6 125.1L234.4 123.7L246.1 122.1M-18.0 122.9L-4.9 121.9L8.1 121.2L21.2 120.9L34.1 120.9L47.0 121.0L59.8 121.1L72.5 121.1L85.1 121.0L97.7 120.9L110.2 120.9L122.6 121.0L135.0 121.5L147.2 122.4L159.4 123.7L171.6 125.3L183.6 126.9L195.7 128.2L207.6 128.8L219.6 128.4L231.5 127.2L243.4 125.7M13.4 47.3L9.1 47.2L4.6 47.7L-0.1 48.5L-5.0 49.7L-10.2 51.2L-15.6 53.0M28.8 48.2L24.7 48.3L20.5 48.6L16.0 49.2L11.3 50.1L6.3 51.4L1.1 53.2L-4.4 55.2L-10.2 57.1L-16.2 59.0M44.1 49.0L40.3 49.3L36.2 49.9L31.9 50.6L27.4 51.6L22.6 52.9L17.5 54.3L12.2 55.8L6.5 57.4L0.6 59.2L-5.5 61.0L-12.0 62.8L-18.7 64.5M59.2 49.3L55.6 49.9L51.7 50.7L47.6 51.7L43.2 52.9L38.6 54.2L33.6 55.6L28.4 57.1L22.9 58.5L17.2 60.0L11.1 61.3L4.8 62.9L-1.8 64.6L-8.6 66.5L-15.6 68.3M74.2 49.0L70.7 49.8L67.0 50.9L63.0 52.0L58.8 53.3L54.3 54.8L49.5 56.2L44.4 57.8L39.0 59.3L33.4 60.8L27.5 62.3L21.3 63.9L14.9 65.4L8.3 66.9L1.4 68.9L-5.6 70.9L-12.9 73.0M88.9 48.2L85.6 49.0L82.0 50.1L78.2 51.3L74.0 52.6L69.6 54.1L65.0 55.8L60.0 57.5L54.8 59.3L49.3 61.2L43.5 63.0L37.6 64.9L31.3 66.7L24.9 68.6L18.3 70.5L11.5 72.4L4.5 74.5L-2.6 76.8L-9.9 79.1L-17.2 81.4M103.3 47.1L100.1 47.7L96.7 48.6L93.0 49.7L89.0 51.0L84.7 52.5L80.2 54.3L75.4 56.3L70.3 58.5L65.0 60.8L59.4 63.1L53.6 65.4L47.6 67.7L41.4 70.1L35.0 72.4L28.5 74.8L21.8 77.1L15.0 79.4L8.1 81.5L1.1 83.9L-5.9 86.0L-13.0 87.9M117.4 46.1L114.4 46.6L111.1 47.3L107.5 48.3L103.6 49.5L99.5 51.0L95.1 52.9L90.5 55.0L85.6 57.4L80.4 60.0L75.1 62.6L69.5 65.3L63.8 68.1L57.8 70.8L51.8 73.7L45.5 76.5L39.2 79.2L32.7 81.8L26.2 84.2L19.6 86.5L13.0 88.3L6.3 89.9L-0.4 91.7L-7.0 93.6L-13.6 95.5M131.2 45.7L128.3 46.2L125.1 46.9L121.7 47.9L118.0 49.0L114.0 50.5L109.8 52.2L105.4 54.3L100.7 56.6L95.8 59.1L90.7 61.8L85.4 64.7L79.9 67.6L74.3 70.7L68.5 73.8L62.7 76.9L56.7 79.9L50.6 82.8L44.5 85.5L38.3 87.9L32.1 89.8L25.8 91.3L19.6 92.8L13.4 94.2L7.3 95.8L1.1 97.8L-4.9 100.0L-10.9 102.3L-16.8 104.8M144.7 45.7L141.9 46.2L138.9 47.1L135.6 48.0L132.1 49.2L128.4 50.5L124.4 52.0L120.1 53.7L115.7 55.8L111.1 58.1L106.2 60.8L101.3 63.6L96.1 66.5L90.8 69.6L85.4 72.8L79.9 76.1L74.3 79.2L68.7 82.3L63.0 85.1L57.2 87.6L51.5 89.5L45.7 91.1L39.9 92.6L34.2 94.0L28.5 95.5L22.8 97.2L17.2 99.0L11.6 101.0L6.2 103.2L0.8 105.6L-4.6 108.2L-9.8 110.9L-15.0 113.5M157.9 45.9L155.3 46.5L152.5 47.3L149.4 48.2L146.1 49.3L142.5 50.4L138.8 51.6L134.8 53.1L130.7 54.9L126.3 57.1L121.8 59.6L117.2 62.3L112.4 65.2L107.5 68.2L102.5 71.3L97.4 74.5L92.3 77.6L87.0 80.6L81.8 83.4L76.5 85.9L71.2 87.8L65.8 89.5L60.5 91.0L55.2 92.5L50.0 94.1L44.8 95.8L39.6 97.6L34.5 99.5L29.4 101.6L24.4 103.7L19.4 106.0L14.5 108.3L9.7 110.6L4.9 113.0L0.2 115.3L-4.4 117.4L-9.0 119.4L-13.5 121.2L-18.0 122.9M170.9 46.2L168.5 46.8L165.9 47.6L163.0 48.5L159.9 49.4L156.6 50.3L153.2 51.3L149.5 52.6L145.7 54.2L141.7 56.3L137.6 58.7L133.3 61.3L128.9 64.0L124.4 66.8L119.8 69.7L115.2 72.7L110.4 75.6L105.7 78.5L100.9 81.1L96.0 83.5L91.2 85.4L86.3 87.1L81.4 88.7L76.6 90.3L71.8 92.0L67.0 93.8L62.2 95.7L57.5 97.7L52.8 99.9L48.2 102.1L43.6 104.4L39.0 106.7L34.5 109.0L30.0 111.2L25.5 113.4L21.1 115.5L16.8 117.5L12.4 119.4L8.1 121.2M183.7 46.7L181.5 47.3L179.1 48.1L176.5 48.9L173.7 49.7L170.7 50.5L167.6 51.3L164.3 52.4L160.8 53.9L157.2 55.9L153.4 58.2L149.6 60.7L145.6 63.2L141.5 65.8L137.4 68.5L133.2 71.2L128.9 73.8L124.6 76.4L120.3 78.8L115.9 81.1L111.5 82.9L107.1 84.6L102.6 86.2L98.2 87.9L93.8 89.7L89.4 91.6L85.0 93.7L80.7 95.9L76.3 98.3L72.0 100.7L67.7 103.1L63.4 105.5L59.2 107.9L55.0 110.2L50.7 112.4L46.6 114.6L42.4 116.7L38.2 118.8L34.1 120.9M196.4 47.1L194.5 47.7L192.3 48.5L190.0 49.4L187.5 50.1L184.9 50.8L182.1 51.5L179.2 52.5L176.1 53.9L172.9 55.8L169.5 58.0L166.1 60.4L162.6 62.8L159.0 65.2L155.3 67.6L151.5 70.0L147.7 72.4L143.9 74.7L140.0 76.9L136.0 79.0L132.1 80.7L128.1 82.3L124.1 84.0L120.1 85.7L116.1 87.6L112.0 89.7L108.0 92.0L104.0 94.5L99.9 97.0L95.9 99.7L91.9 102.3L87.8 104.9L83.8 107.4L79.8 109.8L75.8 112.0L71.8 114.2L67.8 116.4L63.8 118.4L59.8 121.1M209.0 47.3L207.4 47.9L205.6 48.7L203.6 49.5L201.5 50.2L199.2 50.9L196.8 51.6L194.3 52.6L191.6 54.0L188.8 55.8L185.9 57.9L182.9 60.2L179.9 62.5L176.7 64.7L173.5 66.9L170.2 69.1L166.8 71.2L163.4 73.3L160.0 75.3L156.5 77.3L152.9 79.1L149.3 80.9L145.7 82.8L142.1 84.7L138.4 86.6L134.7 88.7L131.0 91.1L127.2 93.8L123.5 96.7L119.7 99.6L115.9 102.6L112.1 105.4L108.3 107.9L104.4 110.2L100.6 112.4L96.7 114.4L92.9 116.3L89.0 118.5L85.1 121.0M221.7 47.0L220.4 47.5L218.9 48.2L217.3 49.0L215.6 49.7L213.7 50.5L211.7 51.3L209.6 52.3L207.4 53.7L205.0 55.5L202.6 57.5L200.1 59.6L197.5 61.7L194.8 63.8L192.0 65.8L189.2 67.8L186.2 69.8L183.3 71.7L180.2 73.7L177.1 75.8L173.9 78.1L170.7 80.5L167.5 82.9L164.2 85.0L160.8 87.0L157.4 89.0L154.0 91.3L150.5 94.2L146.9 97.4L143.4 100.8L139.8 104.1L136.1 107.2L132.5 109.8L128.8 112.0L125.1 113.8L121.4 115.4L117.7 117.0L113.9 119.0L110.2 120.9M234.4 46.3L233.5 46.7L232.4 47.3L231.2 48.0L229.9 48.8L228.4 49.5L226.9 50.4L225.2 51.5L223.5 52.8L221.6 54.5L219.6 56.3L217.5 58.3L215.4 60.2L213.1 62.1L210.8 64.0L208.4 65.8L205.9 67.6L203.3 69.5L200.7 71.4L197.9 73.5L195.1 76.0L192.2 78.7L189.3 81.4L186.3 83.9L183.2 86.2L180.0 88.6L176.8 91.4L173.6 94.8L170.2 98.8L166.9 102.8L163.4 106.7L160.0 110.1L156.5 112.8L152.9 114.8L149.3 116.3L145.8 117.3L142.2 118.7L138.6 120.2L135.0 121.5M247.3 45.6L246.8 45.9L246.1 46.4L245.3 47.0L244.5 47.7L243.5 48.4L242.4 49.3L241.2 50.3L239.8 51.5L238.4 52.9L236.9 54.5L235.3 56.2L233.6 57.9L231.8 59.6L229.8 61.3L227.8 63.0L225.7 64.7L223.5 66.4L221.2 68.1L218.8 69.9L216.3 72.1L213.8 74.5L211.1 77.1L208.3 79.9L205.5 82.9L202.6 86.3L199.6 90.2L196.5 94.8L193.3 99.7L190.1 104.7L186.8 109.3L183.5 113.2L180.1 116.1L176.7 118.0L173.3 119.0L169.8 119.9L166.3 121.1L162.9 122.4L159.4 123.7M260.4 44.9L260.3 45.2L260.1 45.7L259.8 46.3L259.3 46.9L258.8 47.5L258.2 48.2L257.4 49.0L256.5 49.9L255.6 51.0L254.5 52.3L253.3 53.6L252.0 55.1L250.6 56.6L249.1 58.1L247.5 59.7L245.7 61.2L243.8 62.8L241.9 64.4L239.8 66.0L237.6 68.1L235.2 70.4L232.8 73.0L230.3 76.1L227.6 79.6L224.9 83.7L222.1 88.4L219.1 93.6L216.1 99.2L213.1 104.7L209.9 109.9L206.7 114.2L203.5 117.4L200.2 119.5L196.9 120.5L193.6 121.7L190.2 123.0L186.9 124.8L183.6 126.9M273.8 44.3L274.1 44.7L274.4 45.2L274.5 45.7L274.5 46.3L274.4 46.8L274.3 47.3L274.0 47.9L273.5 48.5L273.0 49.3L272.4 50.2L271.6 51.3L270.7 52.5L269.6 53.9L268.5 55.3L267.2 56.7L265.8 58.2L264.2 59.7L262.5 61.2L260.7 62.9L258.7 64.9L256.6 67.3L254.4 70.1L252.0 73.2L249.6 76.9L247.0 81.1L244.3 85.9L241.5 91.2L238.7 96.7L235.7 102.1L232.7 107.2L229.6 111.5L226.5 114.8L223.4 116.9L220.2 118.9L217.0 120.8L213.9 123.0L210.7 125.7L207.6 128.8M287.5 43.7L288.3 44.1L288.9 44.7L289.5 45.2L290.0 45.7L290.4 46.2L290.6 46.7L290.8 47.1L290.8 47.6L290.7 48.3L290.4 49.1L290.0 50.0L289.5 51.1L288.8 52.3L288.0 53.6L287.0 55.0L285.8 56.4L284.5 57.8L283.1 59.3L281.5 60.9L279.7 63.0L277.8 65.4L275.8 68.2L273.6 71.3L271.3 74.8L268.8 78.8L266.3 83.3L263.6 88.0L260.9 93.0L258.1 97.9L255.2 102.4L252.2 106.3L249.3 109.3L246.3 112.0L243.3 114.7L240.3 117.4L237.3 120.4L234.4 123.7L231.5 127.2M301.5 43.3L302.7 43.7L303.8 44.3L304.9 44.9L305.8 45.5L306.6 46.0L307.3 46.6L307.8 47.1L308.3 47.7L308.5 48.3L308.6 49.1L308.6 50.0L308.4 51.0L308.0 52.2L307.4 53.5L306.7 54.8L305.8 56.1L304.7 57.5L303.5 59.0L302.1 60.6L300.5 62.5L298.8 64.9L296.9 67.4L294.8 70.3L292.6 73.5L290.3 77.1L287.9 80.9L285.4 85.0L282.8 89.3L280.1 93.4L277.4 97.4L274.6 100.9L271.8 103.7L268.9 106.8L266.1 109.9L263.3 113.1L260.6 116.5L257.9 120.2L255.3 124.1M315.7 43.2L317.4 43.7L319.0 44.4L320.5 45.1L321.9 45.8L323.1 46.5L324.2 47.2L325.1 47.9L325.9 48.7L326.5 49.5L326.9 50.4L327.2 51.3L327.2 52.4L327.1 53.6L326.8 54.8L326.3 56.1L325.6 57.4L324.8 58.8L323.7 60.2L322.4 61.7L321.0 63.6L319.4 65.7L317.7 68.1L315.8 70.7L313.7 73.5L311.5 76.6L309.3 79.9L306.9 83.3L304.4 86.8L301.9 90.3L299.3 93.6L296.7 96.5L294.0 99.5L291.4 102.7L288.8 105.9L286.3 109.2L283.8 112.7L281.4 116.4L279.1 120.3M328.0 83.2L325.7 86.1L323.4 89.0L321.0 91.6L318.6 94.2L316.1 97.1L313.8 100.2L311.4 103.3L309.2 106.5L307.0 109.8L304.9 113.3L302.9 117.0M328.5 110.6L326.9 114.0" fill="none" stroke="#d2d2d2" stroke-width="0.5"/></svg>
<div class="ps"></div>
<div class="b" style="top:199.10px;height:27.45px;background:#ef7d00"><i style="background:#d57a13"></i></div>
<div class="b" style="top:226.50px;height:27.45px;background:#004c97"><i style="background:#004c97"></i></div>
<div class="b" style="top:253.89px;height:27.45px;background:#cfdeed"><i style="background:#b8cbe4"></i></div>
<div class="b" style="top:281.28px;height:27.45px;background:#ffffff"><i style="background:#e7eef6"></i></div>
<div class="b" style="top:308.68px;height:27.45px;background:#cfdeed"><i style="background:#b8cbe4"></i></div>
<div class="b" style="top:336.07px;height:27.45px;background:#ffffff"><i style="background:#e7eef6"></i></div>
<div class="b" style="top:363.47px;height:27.45px;background:#cfdeed"><i style="background:#b8cbe4"></i></div>
<div class="b" style="top:390.87px;height:27.45px;background:#ffffff"><i style="background:#e7eef6"></i></div>
<div class="b" style="top:418.26px;height:27.45px;background:#cfdeed"><i style="background:#b8cbe4"></i></div>
<div class="b" style="top:445.65px;height:27.45px;background:#ffffff"><i style="background:#e7eef6"></i></div>
<div class="b" style="top:473.05px;height:27.45px;background:#cfdeed"><i style="background:#b8cbe4"></i></div>
<div class="b" style="top:500.44px;height:27.45px;background:#ffffff"><i style="background:#e7eef6"></i></div>
<div class="b" style="top:527.84px;height:27.45px;background:#004c97"><i style="background:#004c97"></i></div>
<div class="b" style="top:555.24px;height:4.81px;background:#cfdeed"><i style="background:#b8cbe4"></i></div>
<span class="t" style="font-size:42px;color:#004c97;font-weight:700;letter-spacing:1.6px;-webkit-text-stroke:3.0px #004c97;text-shadow:0.35px 0 0 #004c97,-0.35px 0 0 #004c97;transform:matrix(1.0419,0.0004,0,0.9134,27.02,22.26);">World</span>
<span class="t" aria-label="Economic" style="font-size:42px;color:#004c97;font-weight:700;letter-spacing:1.6px;-webkit-text-stroke:3.0px #004c97;text-shadow:0.35px 0 0 #004c97,-0.35px 0 0 #004c97;transform:matrix(0.9654,0.0004,0,0.9134,169.69,22.26);">Econom<i class="ij">i</i>c</span>
<span class="t" style="font-size:42px;color:#004c97;font-weight:700;letter-spacing:1.6px;-webkit-text-stroke:3.0px #004c97;text-shadow:0.35px 0 0 #004c97,-0.35px 0 0 #004c97;transform:matrix(1.0387,0.0004,0,0.9134,385.64,22.26);">Outlook</span>
<span class="t" style="font-size:42px;color:#004c97;font-weight:700;letter-spacing:1.6px;-webkit-text-stroke:3.0px #004c97;text-shadow:0.35px 0 0 #004c97,-0.35px 0 0 #004c97;transform:matrix(1.0365,0.0004,0,0.9102,26.54,67.18);">Growth</span>
<span class="t" aria-label="Projections" style="font-size:42px;color:#004c97;font-weight:700;letter-spacing:1.6px;-webkit-text-stroke:3.0px #004c97;text-shadow:0.35px 0 0 #004c97,-0.35px 0 0 #004c97;transform:matrix(0.9834,0.0004,0,0.9102,199.77,67.18);">Pro<i class="ij">j</i>ect<i class="ij">i</i>ons</span>
<span class="t" style="font-size:15.5px;color:#004c97;-webkit-text-stroke:0.7px #004c97;transform:matrix(1.0069,0.0004,0,1.0133,502.79,131.47);">PROJECTIONS</span>
<span class="t" style="font-size:12px;color:#004c97;font-weight:700;-webkit-text-stroke:0.25px #004c97;transform:matrix(0.9985,0.0004,0,1.0303,24.70,170.90);">(Real GDP, annual percent change)</span>
<span class="t" style="font-size:15.5px;color:#000;font-weight:700;letter-spacing:0.5px;-webkit-text-stroke:0.4px #000;transform:matrix(1.0958,0.0004,0,0.9909,400.83,169.67);">2025</span>
<span class="t" style="font-size:15.5px;color:#000;font-weight:700;letter-spacing:0.5px;-webkit-text-stroke:0.4px #000;transform:matrix(1.0809,0.0004,0,0.9909,494.73,169.67);">2026</span>
<span class="t" style="font-size:15.5px;color:#000;font-weight:700;letter-spacing:0.5px;-webkit-text-stroke:0.4px #000;transform:matrix(1.0809,0.0004,0,0.9909,583.53,169.67);">2027</span>
<span class="t" style="font-size:15px;color:#fff;font-weight:700;letter-spacing:0.2px;-webkit-text-stroke:0.3px #fff;transform:matrix(1.0384,0.0004,0,0.9905,26.10,205.22);">World Output</span>
<span class="t" style="font-size:15px;color:#fff;font-weight:700;letter-spacing:0.25px;-webkit-text-stroke:0.3px #fff;transform:matrix(1.1200,0.0004,0,0.9905,416.12,205.22);">3.4</span>
<span class="t" style="font-size:15px;color:#fff;font-weight:700;letter-spacing:0.25px;-webkit-text-stroke:0.3px #fff;transform:matrix(1.1200,0.0004,0,0.9905,508.18,205.22);">3.1</span>
<span class="t" style="font-size:15px;color:#fff;font-weight:700;letter-spacing:0.25px;-webkit-text-stroke:0.3px #fff;transform:matrix(1.1200,0.0004,0,0.9905,598.78,205.22);">3.2</span>
<span class="t" style="font-size:15px;color:#fff;font-weight:700;letter-spacing:0.2px;-webkit-text-stroke:0.3px #fff;transform:matrix(1.0101,0.0004,0,0.9905,25.25,232.62);">Advanced Economies</span>
<span class="t" style="font-size:15px;color:#fff;font-weight:700;letter-spacing:0.25px;-webkit-text-stroke:0.3px #fff;transform:matrix(1.1200,0.0004,0,0.9905,416.68,232.62);">1.9</span>
<span class="t" style="font-size:15px;color:#fff;font-weight:700;letter-spacing:0.25px;-webkit-text-stroke:0.3px #fff;transform:matrix(1.1200,0.0004,0,0.9905,509.48,232.62);">1.8</span>
<span class="t" style="font-size:15px;color:#fff;font-weight:700;letter-spacing:0.25px;-webkit-text-stroke:0.3px #fff;transform:matrix(1.1200,0.0004,0,0.9905,599.06,232.62);">1.7</span>
<span class="t" style="font-size:15px;color:#000;letter-spacing:0.2px;-webkit-text-stroke:0.5px #000;transform:matrix(1.0181,0.0004,0,1.0233,25.08,259.38);">United States</span>
<span class="t" style="font-size:15px;color:#000;letter-spacing:0.3px;-webkit-text-stroke:0.4px #000;transform:matrix(1.0000,0.0004,0,1.0233,417.90,259.38);">2.1</span>
<span class="t" style="font-size:15px;color:#000;letter-spacing:0.3px;-webkit-text-stroke:0.4px #000;transform:matrix(1.0000,0.0004,0,1.0233,512.00,259.38);">2.3</span>
<span class="t" style="font-size:15px;color:#000;letter-spacing:0.3px;-webkit-text-stroke:0.4px #000;transform:matrix(1.0000,0.0004,0,1.0233,600.00,259.38);">2.1</span>
<span class="t" style="font-size:15px;color:#000;letter-spacing:0.2px;-webkit-text-stroke:0.5px #000;transform:matrix(1.0193,0.0004,0,1.0233,25.08,286.78);">Euro Area</span>
<span class="t" style="font-size:15px;color:#000;letter-spacing:0.3px;-webkit-text-stroke:0.4px #000;transform:matrix(1.0000,0.0004,0,1.0233,418.95,286.78);">1.4</span>
<span class="t" style="font-size:15px;color:#000;letter-spacing:0.3px;-webkit-text-stroke:0.4px #000;transform:matrix(1.0000,0.0004,0,1.0233,510.70,286.78);">1.1</span>
<span class="t" style="font-size:15px;color:#000;letter-spacing:0.3px;-webkit-text-stroke:0.4px #000;transform:matrix(1.0000,0.0004,0,1.0233,601.30,286.78);">1.2</span>
<span class="t" style="font-size:15px;color:#000;letter-spacing:0.2px;-webkit-text-stroke:0.15px #000;transform:matrix(1.0329,0.0004,0,1.0476,32.53,314.11);">Germany</span>
<span class="t" style="font-size:15px;color:#000;letter-spacing:0.3px;-webkit-text-stroke:0.4px #000;transform:matrix(1.0000,0.0004,0,1.0233,419.20,314.17);">0.2</span>
<span class="t" style="font-size:15px;color:#000;letter-spacing:0.3px;-webkit-text-stroke:0.4px #000;transform:matrix(1.0000,0.0004,0,1.0233,512.00,314.17);">0.8</span>
<span class="t" style="font-size:15px;color:#000;letter-spacing:0.3px;-webkit-text-stroke:0.4px #000;transform:matrix(1.0000,0.0004,0,1.0233,601.30,314.17);">1.2</span>
<span class="t" style="font-size:15px;color:#000;letter-spacing:0.2px;-webkit-text-stroke:0.15px #000;transform:matrix(0.9989,0.0004,0,1.0476,32.65,341.51);">France</span>
<span class="t" style="font-size:15px;color:#000;letter-spacing:0.3px;-webkit-text-stroke:0.4px #000;transform:matrix(1.0000,0.0004,0,1.0233,419.20,341.57);">0.9</span>
<span class="t" style="font-size:15px;color:#000;letter-spacing:0.3px;-webkit-text-stroke:0.4px #000;transform:matrix(1.0000,0.0004,0,1.0233,512.00,341.57);">0.9</span>
<span class="t" style="font-size:15px;color:#000;letter-spacing:0.3px;-webkit-text-stroke:0.4px #000;transform:matrix(1.0000,0.0004,0,1.0233,601.30,341.57);">0.9</span>
<span class="t" style="font-size:15px;color:#000;letter-spacing:0.2px;-webkit-text-stroke:0.15px #000;transform:matrix(1.0481,0.0004,0,1.0476,32.59,368.90);">Italy</span>
<span class="t" style="font-size:15px;color:#000;letter-spacing:0.3px;-webkit-text-stroke:0.4px #000;transform:matrix(1.0000,0.0004,0,1.0233,419.20,368.96);">0.5</span>
<span class="t" style="font-size:15px;color:#000;letter-spacing:0.3px;-webkit-text-stroke:0.4px #000;transform:matrix(1.0000,0.0004,0,1.0233,512.00,368.96);">0.5</span>
<span class="t" style="font-size:15px;color:#000;letter-spacing:0.3px;-webkit-text-stroke:0.4px #000;transform:matrix(1.0000,0.0004,0,1.0233,601.30,368.96);">0.5</span>
<span class="t" style="font-size:15px;color:#000;letter-spacing:0.2px;-webkit-text-stroke:0.15px #000;transform:matrix(1.0278,0.0004,0,1.0476,32.79,396.30);">Spain</span>
<span class="t" style="font-size:15px;color:#000;letter-spacing:0.3px;-webkit-text-stroke:0.4px #000;transform:matrix(1.0000,0.0004,0,1.0233,419.20,396.36);">2.8</span>
<span class="t" style="font-size:15px;color:#000;letter-spacing:0.3px;-webkit-text-stroke:0.4px #000;transform:matrix(1.0000,0.0004,0,1.0233,510.70,396.36);">2.1</span>
<span class="t" style="font-size:15px;color:#000;letter-spacing:0.3px;-webkit-text-stroke:0.4px #000;transform:matrix(1.0000,0.0004,0,1.0233,601.30,396.36);">1.8</span>
<span class="t" style="font-size:15px;color:#000;letter-spacing:0.2px;-webkit-text-stroke:0.5px #000;transform:matrix(1.0366,0.0004,0,1.0233,25.50,423.75);">Japan</span>
<span class="t" style="font-size:15px;color:#000;letter-spacing:0.3px;-webkit-text-stroke:0.4px #000;transform:matrix(1.0000,0.0004,0,1.0233,419.20,423.75);">1.2</span>
<span class="t" style="font-size:15px;color:#000;letter-spacing:0.3px;-webkit-text-stroke:0.4px #000;transform:matrix(1.0000,0.0004,0,1.0233,512.00,423.75);">0.7</span>
<span class="t" style="font-size:15px;color:#000;letter-spacing:0.3px;-webkit-text-stroke:0.4px #000;transform:matrix(1.0000,0.0004,0,1.0233,601.30,423.75);">0.6</span>
<span class="t" style="font-size:15px;color:#000;letter-spacing:0.2px;-webkit-text-stroke:0.5px #000;transform:matrix(1.0847,0.0004,0,1.0233,25.02,451.15);">United Kingdom</span>
<span class="t" style="font-size:15px;color:#000;letter-spacing:0.3px;-webkit-text-stroke:0.4px #000;transform:matrix(1.0000,0.0004,0,1.0233,419.20,451.15);">1.3</span>
<span class="t" style="font-size:15px;color:#000;letter-spacing:0.3px;-webkit-text-stroke:0.4px #000;transform:matrix(1.0000,0.0004,0,1.0233,512.00,451.15);">0.8</span>
<span class="t" style="font-size:15px;color:#000;letter-spacing:0.3px;-webkit-text-stroke:0.4px #000;transform:matrix(1.0000,0.0004,0,1.0233,601.30,451.15);">1.3</span>
<span class="t" style="font-size:15px;color:#000;letter-spacing:0.2px;-webkit-text-stroke:0.5px #000;transform:matrix(0.9878,0.0004,0,1.0233,25.51,478.54);">Canada</span>
<span class="t" style="font-size:15px;color:#000;letter-spacing:0.3px;-webkit-text-stroke:0.4px #000;transform:matrix(1.0000,0.0004,0,1.0233,419.20,478.54);">1.7</span>
<span class="t" style="font-size:15px;color:#000;letter-spacing:0.3px;-webkit-text-stroke:0.4px #000;transform:matrix(1.0000,0.0004,0,1.0233,512.00,478.54);">1.5</span>
<span class="t" style="font-size:15px;color:#000;letter-spacing:0.3px;-webkit-text-stroke:0.4px #000;transform:matrix(1.0000,0.0004,0,1.0233,601.30,478.54);">1.9</span>
<span class="t" style="font-size:15px;color:#000;letter-spacing:0.2px;-webkit-text-stroke:0.5px #000;transform:matrix(1.0451,0.0004,0,1.0233,25.58,505.94);">Other Advanced Economies</span>
<span class="t" style="font-size:15px;color:#000;letter-spacing:0.3px;-webkit-text-stroke:0.4px #000;transform:matrix(1.0000,0.0004,0,1.0233,419.20,505.94);">3.0</span>
<span class="t" style="font-size:15px;color:#000;letter-spacing:0.3px;-webkit-text-stroke:0.4px #000;transform:matrix(1.0000,0.0004,0,1.0233,512.00,505.94);">2.6</span>
<span class="t" style="font-size:15px;color:#000;letter-spacing:0.3px;-webkit-text-stroke:0.4px #000;transform:matrix(1.0000,0.0004,0,1.0233,601.30,505.94);">2.2</span>
<span class="t" style="font-size:15px;color:#fff;font-weight:700;letter-spacing:0.2px;-webkit-text-stroke:0.3px #fff;transform:matrix(1.0288,0.0004,0,0.9905,25.03,533.96);">Emerging Market and Developing Economies</span>
<span class="t" style="font-size:15px;color:#fff;font-weight:700;letter-spacing:0.25px;-webkit-text-stroke:0.3px #fff;transform:matrix(1.1200,0.0004,0,0.9905,416.12,533.96);">4.4</span>
<span class="t" style="font-size:15px;color:#fff;font-weight:700;letter-spacing:0.25px;-webkit-text-stroke:0.3px #fff;transform:matrix(1.1200,0.0004,0,0.9905,509.48,533.96);">3.9</span>
<span class="t" style="font-size:15px;color:#fff;font-weight:700;letter-spacing:0.25px;-webkit-text-stroke:0.3px #fff;transform:matrix(1.1200,0.0004,0,0.9905,598.78,533.96);">4.2</span>
<b class="dot" style="left:339.4px;top:22.1px"></b><b class="dot" style="left:274.0px;top:66.9px"></b><b class="dot" style="left:351.5px;top:66.9px"></b>
</body></html>
